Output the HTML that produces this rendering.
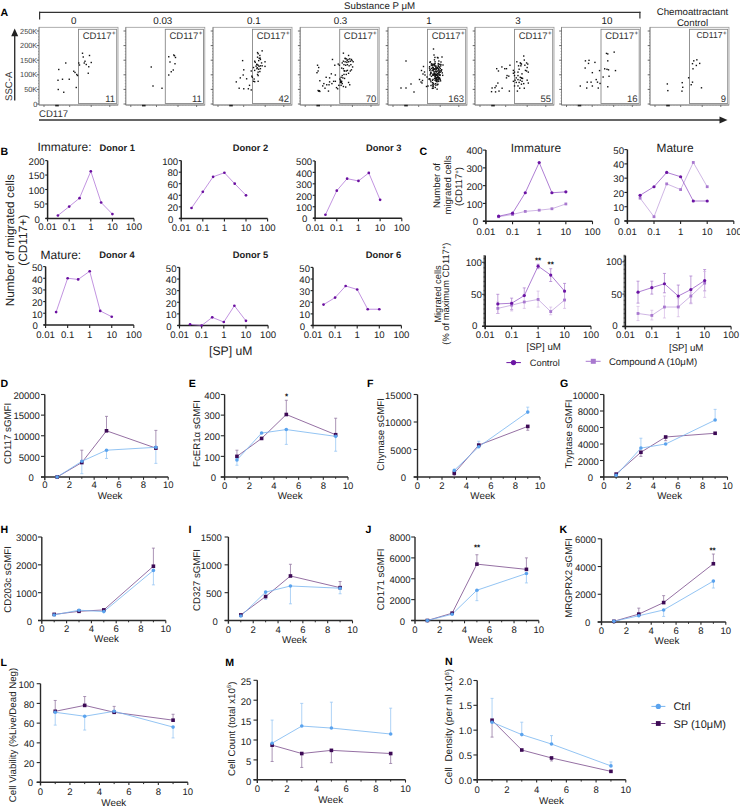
<!DOCTYPE html>
<html><head><meta charset="utf-8"><style>
html,body{margin:0;padding:0;background:#fff;}
svg{display:block;}
text{font-family:"Liberation Sans",sans-serif;text-rendering:geometricPrecision;}
</style></head><body>
<svg width="740" height="809" viewBox="0 0 740 809">
<rect width="740" height="809" fill="#fff"/>
<text x="0.6" y="16.32" font-size="10.6" text-anchor="start" font-weight="bold" fill="#000">A</text>
<text x="379.6" y="8.69" font-size="9.7" text-anchor="middle" font-weight="normal" fill="#222">Substance P μM</text>
<line x1="39" y1="12.4" x2="640.5" y2="12.4" stroke="#333" stroke-width="1.3" />
<line x1="39.6" y1="11.8" x2="39.6" y2="19.5" stroke="#333" stroke-width="1.2" />
<line x1="639.9" y1="11.8" x2="639.9" y2="18.5" stroke="#333" stroke-width="1.2" />
<text x="73.8" y="23.73" font-size="9.8" text-anchor="middle" font-weight="normal" fill="#222">0</text>
<text x="162.8" y="23.73" font-size="9.8" text-anchor="middle" font-weight="normal" fill="#222">0.03</text>
<text x="253.8" y="23.73" font-size="9.8" text-anchor="middle" font-weight="normal" fill="#222">0.1</text>
<text x="340.5" y="23.73" font-size="9.8" text-anchor="middle" font-weight="normal" fill="#222">0.3</text>
<text x="429" y="23.73" font-size="9.8" text-anchor="middle" font-weight="normal" fill="#222">1</text>
<text x="518" y="23.73" font-size="9.8" text-anchor="middle" font-weight="normal" fill="#222">3</text>
<text x="607" y="23.73" font-size="9.8" text-anchor="middle" font-weight="normal" fill="#222">10</text>
<text x="692.5" y="14.99" font-size="9.7" text-anchor="middle" font-weight="normal" fill="#222">Chemoattractant</text>
<text x="692.5" y="25.79" font-size="9.7" text-anchor="middle" font-weight="normal" fill="#222">Control</text>
<rect x="39" y="27.3" width="79" height="77.7" stroke="#9a9a9a" stroke-width="0.8" fill="none"/>
<rect x="78.5" y="29.3" width="38.2" height="74.2" stroke="#888" stroke-width="0.9" fill="none"/>
<line x1="39" y1="27.3" x2="39" y2="105" stroke="#777" stroke-width="0.7" />
<line x1="36.7" y1="104" x2="39" y2="104" stroke="#444" stroke-width="0.8" />
<line x1="38" y1="101.08" x2="39" y2="101.08" stroke="#777" stroke-width="0.6" />
<line x1="38" y1="98.16" x2="39" y2="98.16" stroke="#777" stroke-width="0.6" />
<line x1="38" y1="95.24" x2="39" y2="95.24" stroke="#777" stroke-width="0.6" />
<line x1="38" y1="92.32" x2="39" y2="92.32" stroke="#777" stroke-width="0.6" />
<line x1="36.7" y1="89.4" x2="39" y2="89.4" stroke="#444" stroke-width="0.8" />
<line x1="38" y1="86.48" x2="39" y2="86.48" stroke="#777" stroke-width="0.6" />
<line x1="38" y1="83.56" x2="39" y2="83.56" stroke="#777" stroke-width="0.6" />
<line x1="38" y1="80.64" x2="39" y2="80.64" stroke="#777" stroke-width="0.6" />
<line x1="38" y1="77.72" x2="39" y2="77.72" stroke="#777" stroke-width="0.6" />
<line x1="36.7" y1="74.8" x2="39" y2="74.8" stroke="#444" stroke-width="0.8" />
<line x1="38" y1="71.88" x2="39" y2="71.88" stroke="#777" stroke-width="0.6" />
<line x1="38" y1="68.96" x2="39" y2="68.96" stroke="#777" stroke-width="0.6" />
<line x1="38" y1="66.04" x2="39" y2="66.04" stroke="#777" stroke-width="0.6" />
<line x1="38" y1="63.12" x2="39" y2="63.12" stroke="#777" stroke-width="0.6" />
<line x1="36.7" y1="60.2" x2="39" y2="60.2" stroke="#444" stroke-width="0.8" />
<line x1="38" y1="57.28" x2="39" y2="57.28" stroke="#777" stroke-width="0.6" />
<line x1="38" y1="54.36" x2="39" y2="54.36" stroke="#777" stroke-width="0.6" />
<line x1="38" y1="51.44" x2="39" y2="51.44" stroke="#777" stroke-width="0.6" />
<line x1="38" y1="48.52" x2="39" y2="48.52" stroke="#777" stroke-width="0.6" />
<line x1="36.7" y1="45.6" x2="39" y2="45.6" stroke="#444" stroke-width="0.8" />
<line x1="38" y1="42.68" x2="39" y2="42.68" stroke="#777" stroke-width="0.6" />
<line x1="38" y1="39.76" x2="39" y2="39.76" stroke="#777" stroke-width="0.6" />
<line x1="38" y1="36.84" x2="39" y2="36.84" stroke="#777" stroke-width="0.6" />
<line x1="38" y1="33.92" x2="39" y2="33.92" stroke="#777" stroke-width="0.6" />
<line x1="36.7" y1="31" x2="39" y2="31" stroke="#444" stroke-width="0.8" />
<line x1="39" y1="105" x2="118" y2="105" stroke="#777" stroke-width="0.8" />
<line x1="44" y1="105" x2="44" y2="107" stroke="#555" stroke-width="0.8" />
<line x1="69.7" y1="105" x2="69.7" y2="107" stroke="#555" stroke-width="0.8" />
<line x1="91.2" y1="105" x2="91.2" y2="107" stroke="#555" stroke-width="0.8" />
<line x1="109.8" y1="105" x2="109.8" y2="107" stroke="#555" stroke-width="0.8" />
<line x1="42" y1="105" x2="42" y2="106" stroke="#999" stroke-width="0.5" />
<line x1="45" y1="105" x2="45" y2="106" stroke="#999" stroke-width="0.5" />
<line x1="48" y1="105" x2="48" y2="106" stroke="#999" stroke-width="0.5" />
<line x1="51" y1="105" x2="51" y2="106" stroke="#999" stroke-width="0.5" />
<line x1="54" y1="105" x2="54" y2="106" stroke="#999" stroke-width="0.5" />
<line x1="57" y1="105" x2="57" y2="106" stroke="#999" stroke-width="0.5" />
<line x1="60" y1="105" x2="60" y2="106" stroke="#999" stroke-width="0.5" />
<line x1="63" y1="105" x2="63" y2="106" stroke="#999" stroke-width="0.5" />
<line x1="66" y1="105" x2="66" y2="106" stroke="#999" stroke-width="0.5" />
<line x1="69" y1="105" x2="69" y2="106" stroke="#999" stroke-width="0.5" />
<line x1="72" y1="105" x2="72" y2="106" stroke="#999" stroke-width="0.5" />
<line x1="75" y1="105" x2="75" y2="106" stroke="#999" stroke-width="0.5" />
<line x1="78" y1="105" x2="78" y2="106" stroke="#999" stroke-width="0.5" />
<line x1="81" y1="105" x2="81" y2="106" stroke="#999" stroke-width="0.5" />
<line x1="84" y1="105" x2="84" y2="106" stroke="#999" stroke-width="0.5" />
<line x1="87" y1="105" x2="87" y2="106" stroke="#999" stroke-width="0.5" />
<line x1="90" y1="105" x2="90" y2="106" stroke="#999" stroke-width="0.5" />
<line x1="93" y1="105" x2="93" y2="106" stroke="#999" stroke-width="0.5" />
<line x1="96" y1="105" x2="96" y2="106" stroke="#999" stroke-width="0.5" />
<line x1="99" y1="105" x2="99" y2="106" stroke="#999" stroke-width="0.5" />
<line x1="102" y1="105" x2="102" y2="106" stroke="#999" stroke-width="0.5" />
<line x1="105" y1="105" x2="105" y2="106" stroke="#999" stroke-width="0.5" />
<line x1="108" y1="105" x2="108" y2="106" stroke="#999" stroke-width="0.5" />
<line x1="111" y1="105" x2="111" y2="106" stroke="#999" stroke-width="0.5" />
<line x1="114" y1="105" x2="114" y2="106" stroke="#999" stroke-width="0.5" />
<rect x="55.2" y="104.8" width="3.6" height="1.6" stroke="#222" stroke-width="0" fill="#222"/>
<text x="111.5" y="38.92" font-size="9.5" text-anchor="end" font-weight="normal" fill="#333">CD117</text>
<text x="113.7" y="35.03" font-size="6.2" text-anchor="middle" font-weight="normal" fill="#222">+</text>
<text x="115.1" y="102.22" font-size="9.5" text-anchor="end" font-weight="normal" fill="#333">11</text>
<rect x="125.8" y="27.3" width="79" height="77.7" stroke="#9a9a9a" stroke-width="0.8" fill="none"/>
<rect x="165.3" y="29.3" width="38.2" height="74.2" stroke="#888" stroke-width="0.9" fill="none"/>
<line x1="125.8" y1="27.3" x2="125.8" y2="105" stroke="#777" stroke-width="0.7" />
<line x1="123.5" y1="104" x2="125.8" y2="104" stroke="#444" stroke-width="0.8" />
<line x1="124.8" y1="101.08" x2="125.8" y2="101.08" stroke="#777" stroke-width="0.6" />
<line x1="124.8" y1="98.16" x2="125.8" y2="98.16" stroke="#777" stroke-width="0.6" />
<line x1="124.8" y1="95.24" x2="125.8" y2="95.24" stroke="#777" stroke-width="0.6" />
<line x1="124.8" y1="92.32" x2="125.8" y2="92.32" stroke="#777" stroke-width="0.6" />
<line x1="123.5" y1="89.4" x2="125.8" y2="89.4" stroke="#444" stroke-width="0.8" />
<line x1="124.8" y1="86.48" x2="125.8" y2="86.48" stroke="#777" stroke-width="0.6" />
<line x1="124.8" y1="83.56" x2="125.8" y2="83.56" stroke="#777" stroke-width="0.6" />
<line x1="124.8" y1="80.64" x2="125.8" y2="80.64" stroke="#777" stroke-width="0.6" />
<line x1="124.8" y1="77.72" x2="125.8" y2="77.72" stroke="#777" stroke-width="0.6" />
<line x1="123.5" y1="74.8" x2="125.8" y2="74.8" stroke="#444" stroke-width="0.8" />
<line x1="124.8" y1="71.88" x2="125.8" y2="71.88" stroke="#777" stroke-width="0.6" />
<line x1="124.8" y1="68.96" x2="125.8" y2="68.96" stroke="#777" stroke-width="0.6" />
<line x1="124.8" y1="66.04" x2="125.8" y2="66.04" stroke="#777" stroke-width="0.6" />
<line x1="124.8" y1="63.12" x2="125.8" y2="63.12" stroke="#777" stroke-width="0.6" />
<line x1="123.5" y1="60.2" x2="125.8" y2="60.2" stroke="#444" stroke-width="0.8" />
<line x1="124.8" y1="57.28" x2="125.8" y2="57.28" stroke="#777" stroke-width="0.6" />
<line x1="124.8" y1="54.36" x2="125.8" y2="54.36" stroke="#777" stroke-width="0.6" />
<line x1="124.8" y1="51.44" x2="125.8" y2="51.44" stroke="#777" stroke-width="0.6" />
<line x1="124.8" y1="48.52" x2="125.8" y2="48.52" stroke="#777" stroke-width="0.6" />
<line x1="123.5" y1="45.6" x2="125.8" y2="45.6" stroke="#444" stroke-width="0.8" />
<line x1="124.8" y1="42.68" x2="125.8" y2="42.68" stroke="#777" stroke-width="0.6" />
<line x1="124.8" y1="39.76" x2="125.8" y2="39.76" stroke="#777" stroke-width="0.6" />
<line x1="124.8" y1="36.84" x2="125.8" y2="36.84" stroke="#777" stroke-width="0.6" />
<line x1="124.8" y1="33.92" x2="125.8" y2="33.92" stroke="#777" stroke-width="0.6" />
<line x1="123.5" y1="31" x2="125.8" y2="31" stroke="#444" stroke-width="0.8" />
<line x1="125.8" y1="105" x2="204.8" y2="105" stroke="#777" stroke-width="0.8" />
<line x1="130.8" y1="105" x2="130.8" y2="107" stroke="#555" stroke-width="0.8" />
<line x1="156.5" y1="105" x2="156.5" y2="107" stroke="#555" stroke-width="0.8" />
<line x1="178" y1="105" x2="178" y2="107" stroke="#555" stroke-width="0.8" />
<line x1="196.6" y1="105" x2="196.6" y2="107" stroke="#555" stroke-width="0.8" />
<line x1="128.8" y1="105" x2="128.8" y2="106" stroke="#999" stroke-width="0.5" />
<line x1="131.8" y1="105" x2="131.8" y2="106" stroke="#999" stroke-width="0.5" />
<line x1="134.8" y1="105" x2="134.8" y2="106" stroke="#999" stroke-width="0.5" />
<line x1="137.8" y1="105" x2="137.8" y2="106" stroke="#999" stroke-width="0.5" />
<line x1="140.8" y1="105" x2="140.8" y2="106" stroke="#999" stroke-width="0.5" />
<line x1="143.8" y1="105" x2="143.8" y2="106" stroke="#999" stroke-width="0.5" />
<line x1="146.8" y1="105" x2="146.8" y2="106" stroke="#999" stroke-width="0.5" />
<line x1="149.8" y1="105" x2="149.8" y2="106" stroke="#999" stroke-width="0.5" />
<line x1="152.8" y1="105" x2="152.8" y2="106" stroke="#999" stroke-width="0.5" />
<line x1="155.8" y1="105" x2="155.8" y2="106" stroke="#999" stroke-width="0.5" />
<line x1="158.8" y1="105" x2="158.8" y2="106" stroke="#999" stroke-width="0.5" />
<line x1="161.8" y1="105" x2="161.8" y2="106" stroke="#999" stroke-width="0.5" />
<line x1="164.8" y1="105" x2="164.8" y2="106" stroke="#999" stroke-width="0.5" />
<line x1="167.8" y1="105" x2="167.8" y2="106" stroke="#999" stroke-width="0.5" />
<line x1="170.8" y1="105" x2="170.8" y2="106" stroke="#999" stroke-width="0.5" />
<line x1="173.8" y1="105" x2="173.8" y2="106" stroke="#999" stroke-width="0.5" />
<line x1="176.8" y1="105" x2="176.8" y2="106" stroke="#999" stroke-width="0.5" />
<line x1="179.8" y1="105" x2="179.8" y2="106" stroke="#999" stroke-width="0.5" />
<line x1="182.8" y1="105" x2="182.8" y2="106" stroke="#999" stroke-width="0.5" />
<line x1="185.8" y1="105" x2="185.8" y2="106" stroke="#999" stroke-width="0.5" />
<line x1="188.8" y1="105" x2="188.8" y2="106" stroke="#999" stroke-width="0.5" />
<line x1="191.8" y1="105" x2="191.8" y2="106" stroke="#999" stroke-width="0.5" />
<line x1="194.8" y1="105" x2="194.8" y2="106" stroke="#999" stroke-width="0.5" />
<line x1="197.8" y1="105" x2="197.8" y2="106" stroke="#999" stroke-width="0.5" />
<line x1="200.8" y1="105" x2="200.8" y2="106" stroke="#999" stroke-width="0.5" />
<rect x="142" y="104.8" width="3.6" height="1.6" stroke="#222" stroke-width="0" fill="#222"/>
<text x="198.3" y="38.92" font-size="9.5" text-anchor="end" font-weight="normal" fill="#333">CD117</text>
<text x="200.5" y="35.03" font-size="6.2" text-anchor="middle" font-weight="normal" fill="#222">+</text>
<text x="201.9" y="102.22" font-size="9.5" text-anchor="end" font-weight="normal" fill="#333">11</text>
<rect x="213" y="27.3" width="79" height="77.7" stroke="#9a9a9a" stroke-width="0.8" fill="none"/>
<rect x="252.5" y="29.3" width="38.2" height="74.2" stroke="#888" stroke-width="0.9" fill="none"/>
<line x1="213" y1="27.3" x2="213" y2="105" stroke="#777" stroke-width="0.7" />
<line x1="210.7" y1="104" x2="213" y2="104" stroke="#444" stroke-width="0.8" />
<line x1="212" y1="101.08" x2="213" y2="101.08" stroke="#777" stroke-width="0.6" />
<line x1="212" y1="98.16" x2="213" y2="98.16" stroke="#777" stroke-width="0.6" />
<line x1="212" y1="95.24" x2="213" y2="95.24" stroke="#777" stroke-width="0.6" />
<line x1="212" y1="92.32" x2="213" y2="92.32" stroke="#777" stroke-width="0.6" />
<line x1="210.7" y1="89.4" x2="213" y2="89.4" stroke="#444" stroke-width="0.8" />
<line x1="212" y1="86.48" x2="213" y2="86.48" stroke="#777" stroke-width="0.6" />
<line x1="212" y1="83.56" x2="213" y2="83.56" stroke="#777" stroke-width="0.6" />
<line x1="212" y1="80.64" x2="213" y2="80.64" stroke="#777" stroke-width="0.6" />
<line x1="212" y1="77.72" x2="213" y2="77.72" stroke="#777" stroke-width="0.6" />
<line x1="210.7" y1="74.8" x2="213" y2="74.8" stroke="#444" stroke-width="0.8" />
<line x1="212" y1="71.88" x2="213" y2="71.88" stroke="#777" stroke-width="0.6" />
<line x1="212" y1="68.96" x2="213" y2="68.96" stroke="#777" stroke-width="0.6" />
<line x1="212" y1="66.04" x2="213" y2="66.04" stroke="#777" stroke-width="0.6" />
<line x1="212" y1="63.12" x2="213" y2="63.12" stroke="#777" stroke-width="0.6" />
<line x1="210.7" y1="60.2" x2="213" y2="60.2" stroke="#444" stroke-width="0.8" />
<line x1="212" y1="57.28" x2="213" y2="57.28" stroke="#777" stroke-width="0.6" />
<line x1="212" y1="54.36" x2="213" y2="54.36" stroke="#777" stroke-width="0.6" />
<line x1="212" y1="51.44" x2="213" y2="51.44" stroke="#777" stroke-width="0.6" />
<line x1="212" y1="48.52" x2="213" y2="48.52" stroke="#777" stroke-width="0.6" />
<line x1="210.7" y1="45.6" x2="213" y2="45.6" stroke="#444" stroke-width="0.8" />
<line x1="212" y1="42.68" x2="213" y2="42.68" stroke="#777" stroke-width="0.6" />
<line x1="212" y1="39.76" x2="213" y2="39.76" stroke="#777" stroke-width="0.6" />
<line x1="212" y1="36.84" x2="213" y2="36.84" stroke="#777" stroke-width="0.6" />
<line x1="212" y1="33.92" x2="213" y2="33.92" stroke="#777" stroke-width="0.6" />
<line x1="210.7" y1="31" x2="213" y2="31" stroke="#444" stroke-width="0.8" />
<line x1="213" y1="105" x2="292" y2="105" stroke="#777" stroke-width="0.8" />
<line x1="218" y1="105" x2="218" y2="107" stroke="#555" stroke-width="0.8" />
<line x1="243.7" y1="105" x2="243.7" y2="107" stroke="#555" stroke-width="0.8" />
<line x1="265.2" y1="105" x2="265.2" y2="107" stroke="#555" stroke-width="0.8" />
<line x1="283.8" y1="105" x2="283.8" y2="107" stroke="#555" stroke-width="0.8" />
<line x1="216" y1="105" x2="216" y2="106" stroke="#999" stroke-width="0.5" />
<line x1="219" y1="105" x2="219" y2="106" stroke="#999" stroke-width="0.5" />
<line x1="222" y1="105" x2="222" y2="106" stroke="#999" stroke-width="0.5" />
<line x1="225" y1="105" x2="225" y2="106" stroke="#999" stroke-width="0.5" />
<line x1="228" y1="105" x2="228" y2="106" stroke="#999" stroke-width="0.5" />
<line x1="231" y1="105" x2="231" y2="106" stroke="#999" stroke-width="0.5" />
<line x1="234" y1="105" x2="234" y2="106" stroke="#999" stroke-width="0.5" />
<line x1="237" y1="105" x2="237" y2="106" stroke="#999" stroke-width="0.5" />
<line x1="240" y1="105" x2="240" y2="106" stroke="#999" stroke-width="0.5" />
<line x1="243" y1="105" x2="243" y2="106" stroke="#999" stroke-width="0.5" />
<line x1="246" y1="105" x2="246" y2="106" stroke="#999" stroke-width="0.5" />
<line x1="249" y1="105" x2="249" y2="106" stroke="#999" stroke-width="0.5" />
<line x1="252" y1="105" x2="252" y2="106" stroke="#999" stroke-width="0.5" />
<line x1="255" y1="105" x2="255" y2="106" stroke="#999" stroke-width="0.5" />
<line x1="258" y1="105" x2="258" y2="106" stroke="#999" stroke-width="0.5" />
<line x1="261" y1="105" x2="261" y2="106" stroke="#999" stroke-width="0.5" />
<line x1="264" y1="105" x2="264" y2="106" stroke="#999" stroke-width="0.5" />
<line x1="267" y1="105" x2="267" y2="106" stroke="#999" stroke-width="0.5" />
<line x1="270" y1="105" x2="270" y2="106" stroke="#999" stroke-width="0.5" />
<line x1="273" y1="105" x2="273" y2="106" stroke="#999" stroke-width="0.5" />
<line x1="276" y1="105" x2="276" y2="106" stroke="#999" stroke-width="0.5" />
<line x1="279" y1="105" x2="279" y2="106" stroke="#999" stroke-width="0.5" />
<line x1="282" y1="105" x2="282" y2="106" stroke="#999" stroke-width="0.5" />
<line x1="285" y1="105" x2="285" y2="106" stroke="#999" stroke-width="0.5" />
<line x1="288" y1="105" x2="288" y2="106" stroke="#999" stroke-width="0.5" />
<rect x="229.2" y="104.8" width="3.6" height="1.6" stroke="#222" stroke-width="0" fill="#222"/>
<text x="285.5" y="38.92" font-size="9.5" text-anchor="end" font-weight="normal" fill="#333">CD117</text>
<text x="287.7" y="35.03" font-size="6.2" text-anchor="middle" font-weight="normal" fill="#222">+</text>
<text x="289.1" y="102.22" font-size="9.5" text-anchor="end" font-weight="normal" fill="#333">42</text>
<rect x="300.2" y="27.3" width="79" height="77.7" stroke="#9a9a9a" stroke-width="0.8" fill="none"/>
<rect x="339.7" y="29.3" width="38.2" height="74.2" stroke="#888" stroke-width="0.9" fill="none"/>
<line x1="300.2" y1="27.3" x2="300.2" y2="105" stroke="#777" stroke-width="0.7" />
<line x1="297.9" y1="104" x2="300.2" y2="104" stroke="#444" stroke-width="0.8" />
<line x1="299.2" y1="101.08" x2="300.2" y2="101.08" stroke="#777" stroke-width="0.6" />
<line x1="299.2" y1="98.16" x2="300.2" y2="98.16" stroke="#777" stroke-width="0.6" />
<line x1="299.2" y1="95.24" x2="300.2" y2="95.24" stroke="#777" stroke-width="0.6" />
<line x1="299.2" y1="92.32" x2="300.2" y2="92.32" stroke="#777" stroke-width="0.6" />
<line x1="297.9" y1="89.4" x2="300.2" y2="89.4" stroke="#444" stroke-width="0.8" />
<line x1="299.2" y1="86.48" x2="300.2" y2="86.48" stroke="#777" stroke-width="0.6" />
<line x1="299.2" y1="83.56" x2="300.2" y2="83.56" stroke="#777" stroke-width="0.6" />
<line x1="299.2" y1="80.64" x2="300.2" y2="80.64" stroke="#777" stroke-width="0.6" />
<line x1="299.2" y1="77.72" x2="300.2" y2="77.72" stroke="#777" stroke-width="0.6" />
<line x1="297.9" y1="74.8" x2="300.2" y2="74.8" stroke="#444" stroke-width="0.8" />
<line x1="299.2" y1="71.88" x2="300.2" y2="71.88" stroke="#777" stroke-width="0.6" />
<line x1="299.2" y1="68.96" x2="300.2" y2="68.96" stroke="#777" stroke-width="0.6" />
<line x1="299.2" y1="66.04" x2="300.2" y2="66.04" stroke="#777" stroke-width="0.6" />
<line x1="299.2" y1="63.12" x2="300.2" y2="63.12" stroke="#777" stroke-width="0.6" />
<line x1="297.9" y1="60.2" x2="300.2" y2="60.2" stroke="#444" stroke-width="0.8" />
<line x1="299.2" y1="57.28" x2="300.2" y2="57.28" stroke="#777" stroke-width="0.6" />
<line x1="299.2" y1="54.36" x2="300.2" y2="54.36" stroke="#777" stroke-width="0.6" />
<line x1="299.2" y1="51.44" x2="300.2" y2="51.44" stroke="#777" stroke-width="0.6" />
<line x1="299.2" y1="48.52" x2="300.2" y2="48.52" stroke="#777" stroke-width="0.6" />
<line x1="297.9" y1="45.6" x2="300.2" y2="45.6" stroke="#444" stroke-width="0.8" />
<line x1="299.2" y1="42.68" x2="300.2" y2="42.68" stroke="#777" stroke-width="0.6" />
<line x1="299.2" y1="39.76" x2="300.2" y2="39.76" stroke="#777" stroke-width="0.6" />
<line x1="299.2" y1="36.84" x2="300.2" y2="36.84" stroke="#777" stroke-width="0.6" />
<line x1="299.2" y1="33.92" x2="300.2" y2="33.92" stroke="#777" stroke-width="0.6" />
<line x1="297.9" y1="31" x2="300.2" y2="31" stroke="#444" stroke-width="0.8" />
<line x1="300.2" y1="105" x2="379.2" y2="105" stroke="#777" stroke-width="0.8" />
<line x1="305.2" y1="105" x2="305.2" y2="107" stroke="#555" stroke-width="0.8" />
<line x1="330.9" y1="105" x2="330.9" y2="107" stroke="#555" stroke-width="0.8" />
<line x1="352.4" y1="105" x2="352.4" y2="107" stroke="#555" stroke-width="0.8" />
<line x1="371" y1="105" x2="371" y2="107" stroke="#555" stroke-width="0.8" />
<line x1="303.2" y1="105" x2="303.2" y2="106" stroke="#999" stroke-width="0.5" />
<line x1="306.2" y1="105" x2="306.2" y2="106" stroke="#999" stroke-width="0.5" />
<line x1="309.2" y1="105" x2="309.2" y2="106" stroke="#999" stroke-width="0.5" />
<line x1="312.2" y1="105" x2="312.2" y2="106" stroke="#999" stroke-width="0.5" />
<line x1="315.2" y1="105" x2="315.2" y2="106" stroke="#999" stroke-width="0.5" />
<line x1="318.2" y1="105" x2="318.2" y2="106" stroke="#999" stroke-width="0.5" />
<line x1="321.2" y1="105" x2="321.2" y2="106" stroke="#999" stroke-width="0.5" />
<line x1="324.2" y1="105" x2="324.2" y2="106" stroke="#999" stroke-width="0.5" />
<line x1="327.2" y1="105" x2="327.2" y2="106" stroke="#999" stroke-width="0.5" />
<line x1="330.2" y1="105" x2="330.2" y2="106" stroke="#999" stroke-width="0.5" />
<line x1="333.2" y1="105" x2="333.2" y2="106" stroke="#999" stroke-width="0.5" />
<line x1="336.2" y1="105" x2="336.2" y2="106" stroke="#999" stroke-width="0.5" />
<line x1="339.2" y1="105" x2="339.2" y2="106" stroke="#999" stroke-width="0.5" />
<line x1="342.2" y1="105" x2="342.2" y2="106" stroke="#999" stroke-width="0.5" />
<line x1="345.2" y1="105" x2="345.2" y2="106" stroke="#999" stroke-width="0.5" />
<line x1="348.2" y1="105" x2="348.2" y2="106" stroke="#999" stroke-width="0.5" />
<line x1="351.2" y1="105" x2="351.2" y2="106" stroke="#999" stroke-width="0.5" />
<line x1="354.2" y1="105" x2="354.2" y2="106" stroke="#999" stroke-width="0.5" />
<line x1="357.2" y1="105" x2="357.2" y2="106" stroke="#999" stroke-width="0.5" />
<line x1="360.2" y1="105" x2="360.2" y2="106" stroke="#999" stroke-width="0.5" />
<line x1="363.2" y1="105" x2="363.2" y2="106" stroke="#999" stroke-width="0.5" />
<line x1="366.2" y1="105" x2="366.2" y2="106" stroke="#999" stroke-width="0.5" />
<line x1="369.2" y1="105" x2="369.2" y2="106" stroke="#999" stroke-width="0.5" />
<line x1="372.2" y1="105" x2="372.2" y2="106" stroke="#999" stroke-width="0.5" />
<line x1="375.2" y1="105" x2="375.2" y2="106" stroke="#999" stroke-width="0.5" />
<rect x="316.4" y="104.8" width="3.6" height="1.6" stroke="#222" stroke-width="0" fill="#222"/>
<text x="372.7" y="38.92" font-size="9.5" text-anchor="end" font-weight="normal" fill="#333">CD117</text>
<text x="374.9" y="35.03" font-size="6.2" text-anchor="middle" font-weight="normal" fill="#222">+</text>
<text x="376.3" y="102.22" font-size="9.5" text-anchor="end" font-weight="normal" fill="#333">70</text>
<rect x="388" y="27.3" width="79" height="77.7" stroke="#9a9a9a" stroke-width="0.8" fill="none"/>
<rect x="427.5" y="29.3" width="38.2" height="74.2" stroke="#888" stroke-width="0.9" fill="none"/>
<line x1="388" y1="27.3" x2="388" y2="105" stroke="#777" stroke-width="0.7" />
<line x1="385.7" y1="104" x2="388" y2="104" stroke="#444" stroke-width="0.8" />
<line x1="387" y1="101.08" x2="388" y2="101.08" stroke="#777" stroke-width="0.6" />
<line x1="387" y1="98.16" x2="388" y2="98.16" stroke="#777" stroke-width="0.6" />
<line x1="387" y1="95.24" x2="388" y2="95.24" stroke="#777" stroke-width="0.6" />
<line x1="387" y1="92.32" x2="388" y2="92.32" stroke="#777" stroke-width="0.6" />
<line x1="385.7" y1="89.4" x2="388" y2="89.4" stroke="#444" stroke-width="0.8" />
<line x1="387" y1="86.48" x2="388" y2="86.48" stroke="#777" stroke-width="0.6" />
<line x1="387" y1="83.56" x2="388" y2="83.56" stroke="#777" stroke-width="0.6" />
<line x1="387" y1="80.64" x2="388" y2="80.64" stroke="#777" stroke-width="0.6" />
<line x1="387" y1="77.72" x2="388" y2="77.72" stroke="#777" stroke-width="0.6" />
<line x1="385.7" y1="74.8" x2="388" y2="74.8" stroke="#444" stroke-width="0.8" />
<line x1="387" y1="71.88" x2="388" y2="71.88" stroke="#777" stroke-width="0.6" />
<line x1="387" y1="68.96" x2="388" y2="68.96" stroke="#777" stroke-width="0.6" />
<line x1="387" y1="66.04" x2="388" y2="66.04" stroke="#777" stroke-width="0.6" />
<line x1="387" y1="63.12" x2="388" y2="63.12" stroke="#777" stroke-width="0.6" />
<line x1="385.7" y1="60.2" x2="388" y2="60.2" stroke="#444" stroke-width="0.8" />
<line x1="387" y1="57.28" x2="388" y2="57.28" stroke="#777" stroke-width="0.6" />
<line x1="387" y1="54.36" x2="388" y2="54.36" stroke="#777" stroke-width="0.6" />
<line x1="387" y1="51.44" x2="388" y2="51.44" stroke="#777" stroke-width="0.6" />
<line x1="387" y1="48.52" x2="388" y2="48.52" stroke="#777" stroke-width="0.6" />
<line x1="385.7" y1="45.6" x2="388" y2="45.6" stroke="#444" stroke-width="0.8" />
<line x1="387" y1="42.68" x2="388" y2="42.68" stroke="#777" stroke-width="0.6" />
<line x1="387" y1="39.76" x2="388" y2="39.76" stroke="#777" stroke-width="0.6" />
<line x1="387" y1="36.84" x2="388" y2="36.84" stroke="#777" stroke-width="0.6" />
<line x1="387" y1="33.92" x2="388" y2="33.92" stroke="#777" stroke-width="0.6" />
<line x1="385.7" y1="31" x2="388" y2="31" stroke="#444" stroke-width="0.8" />
<line x1="388" y1="105" x2="467" y2="105" stroke="#777" stroke-width="0.8" />
<line x1="393" y1="105" x2="393" y2="107" stroke="#555" stroke-width="0.8" />
<line x1="418.7" y1="105" x2="418.7" y2="107" stroke="#555" stroke-width="0.8" />
<line x1="440.2" y1="105" x2="440.2" y2="107" stroke="#555" stroke-width="0.8" />
<line x1="458.8" y1="105" x2="458.8" y2="107" stroke="#555" stroke-width="0.8" />
<line x1="391" y1="105" x2="391" y2="106" stroke="#999" stroke-width="0.5" />
<line x1="394" y1="105" x2="394" y2="106" stroke="#999" stroke-width="0.5" />
<line x1="397" y1="105" x2="397" y2="106" stroke="#999" stroke-width="0.5" />
<line x1="400" y1="105" x2="400" y2="106" stroke="#999" stroke-width="0.5" />
<line x1="403" y1="105" x2="403" y2="106" stroke="#999" stroke-width="0.5" />
<line x1="406" y1="105" x2="406" y2="106" stroke="#999" stroke-width="0.5" />
<line x1="409" y1="105" x2="409" y2="106" stroke="#999" stroke-width="0.5" />
<line x1="412" y1="105" x2="412" y2="106" stroke="#999" stroke-width="0.5" />
<line x1="415" y1="105" x2="415" y2="106" stroke="#999" stroke-width="0.5" />
<line x1="418" y1="105" x2="418" y2="106" stroke="#999" stroke-width="0.5" />
<line x1="421" y1="105" x2="421" y2="106" stroke="#999" stroke-width="0.5" />
<line x1="424" y1="105" x2="424" y2="106" stroke="#999" stroke-width="0.5" />
<line x1="427" y1="105" x2="427" y2="106" stroke="#999" stroke-width="0.5" />
<line x1="430" y1="105" x2="430" y2="106" stroke="#999" stroke-width="0.5" />
<line x1="433" y1="105" x2="433" y2="106" stroke="#999" stroke-width="0.5" />
<line x1="436" y1="105" x2="436" y2="106" stroke="#999" stroke-width="0.5" />
<line x1="439" y1="105" x2="439" y2="106" stroke="#999" stroke-width="0.5" />
<line x1="442" y1="105" x2="442" y2="106" stroke="#999" stroke-width="0.5" />
<line x1="445" y1="105" x2="445" y2="106" stroke="#999" stroke-width="0.5" />
<line x1="448" y1="105" x2="448" y2="106" stroke="#999" stroke-width="0.5" />
<line x1="451" y1="105" x2="451" y2="106" stroke="#999" stroke-width="0.5" />
<line x1="454" y1="105" x2="454" y2="106" stroke="#999" stroke-width="0.5" />
<line x1="457" y1="105" x2="457" y2="106" stroke="#999" stroke-width="0.5" />
<line x1="460" y1="105" x2="460" y2="106" stroke="#999" stroke-width="0.5" />
<line x1="463" y1="105" x2="463" y2="106" stroke="#999" stroke-width="0.5" />
<rect x="404.2" y="104.8" width="3.6" height="1.6" stroke="#222" stroke-width="0" fill="#222"/>
<text x="460.5" y="38.92" font-size="9.5" text-anchor="end" font-weight="normal" fill="#333">CD117</text>
<text x="462.7" y="35.03" font-size="6.2" text-anchor="middle" font-weight="normal" fill="#222">+</text>
<text x="464.1" y="102.22" font-size="9.5" text-anchor="end" font-weight="normal" fill="#333">163</text>
<rect x="475" y="27.3" width="79" height="77.7" stroke="#9a9a9a" stroke-width="0.8" fill="none"/>
<rect x="514.5" y="29.3" width="38.2" height="74.2" stroke="#888" stroke-width="0.9" fill="none"/>
<line x1="475" y1="27.3" x2="475" y2="105" stroke="#777" stroke-width="0.7" />
<line x1="472.7" y1="104" x2="475" y2="104" stroke="#444" stroke-width="0.8" />
<line x1="474" y1="101.08" x2="475" y2="101.08" stroke="#777" stroke-width="0.6" />
<line x1="474" y1="98.16" x2="475" y2="98.16" stroke="#777" stroke-width="0.6" />
<line x1="474" y1="95.24" x2="475" y2="95.24" stroke="#777" stroke-width="0.6" />
<line x1="474" y1="92.32" x2="475" y2="92.32" stroke="#777" stroke-width="0.6" />
<line x1="472.7" y1="89.4" x2="475" y2="89.4" stroke="#444" stroke-width="0.8" />
<line x1="474" y1="86.48" x2="475" y2="86.48" stroke="#777" stroke-width="0.6" />
<line x1="474" y1="83.56" x2="475" y2="83.56" stroke="#777" stroke-width="0.6" />
<line x1="474" y1="80.64" x2="475" y2="80.64" stroke="#777" stroke-width="0.6" />
<line x1="474" y1="77.72" x2="475" y2="77.72" stroke="#777" stroke-width="0.6" />
<line x1="472.7" y1="74.8" x2="475" y2="74.8" stroke="#444" stroke-width="0.8" />
<line x1="474" y1="71.88" x2="475" y2="71.88" stroke="#777" stroke-width="0.6" />
<line x1="474" y1="68.96" x2="475" y2="68.96" stroke="#777" stroke-width="0.6" />
<line x1="474" y1="66.04" x2="475" y2="66.04" stroke="#777" stroke-width="0.6" />
<line x1="474" y1="63.12" x2="475" y2="63.12" stroke="#777" stroke-width="0.6" />
<line x1="472.7" y1="60.2" x2="475" y2="60.2" stroke="#444" stroke-width="0.8" />
<line x1="474" y1="57.28" x2="475" y2="57.28" stroke="#777" stroke-width="0.6" />
<line x1="474" y1="54.36" x2="475" y2="54.36" stroke="#777" stroke-width="0.6" />
<line x1="474" y1="51.44" x2="475" y2="51.44" stroke="#777" stroke-width="0.6" />
<line x1="474" y1="48.52" x2="475" y2="48.52" stroke="#777" stroke-width="0.6" />
<line x1="472.7" y1="45.6" x2="475" y2="45.6" stroke="#444" stroke-width="0.8" />
<line x1="474" y1="42.68" x2="475" y2="42.68" stroke="#777" stroke-width="0.6" />
<line x1="474" y1="39.76" x2="475" y2="39.76" stroke="#777" stroke-width="0.6" />
<line x1="474" y1="36.84" x2="475" y2="36.84" stroke="#777" stroke-width="0.6" />
<line x1="474" y1="33.92" x2="475" y2="33.92" stroke="#777" stroke-width="0.6" />
<line x1="472.7" y1="31" x2="475" y2="31" stroke="#444" stroke-width="0.8" />
<line x1="475" y1="105" x2="554" y2="105" stroke="#777" stroke-width="0.8" />
<line x1="480" y1="105" x2="480" y2="107" stroke="#555" stroke-width="0.8" />
<line x1="505.7" y1="105" x2="505.7" y2="107" stroke="#555" stroke-width="0.8" />
<line x1="527.2" y1="105" x2="527.2" y2="107" stroke="#555" stroke-width="0.8" />
<line x1="545.8" y1="105" x2="545.8" y2="107" stroke="#555" stroke-width="0.8" />
<line x1="478" y1="105" x2="478" y2="106" stroke="#999" stroke-width="0.5" />
<line x1="481" y1="105" x2="481" y2="106" stroke="#999" stroke-width="0.5" />
<line x1="484" y1="105" x2="484" y2="106" stroke="#999" stroke-width="0.5" />
<line x1="487" y1="105" x2="487" y2="106" stroke="#999" stroke-width="0.5" />
<line x1="490" y1="105" x2="490" y2="106" stroke="#999" stroke-width="0.5" />
<line x1="493" y1="105" x2="493" y2="106" stroke="#999" stroke-width="0.5" />
<line x1="496" y1="105" x2="496" y2="106" stroke="#999" stroke-width="0.5" />
<line x1="499" y1="105" x2="499" y2="106" stroke="#999" stroke-width="0.5" />
<line x1="502" y1="105" x2="502" y2="106" stroke="#999" stroke-width="0.5" />
<line x1="505" y1="105" x2="505" y2="106" stroke="#999" stroke-width="0.5" />
<line x1="508" y1="105" x2="508" y2="106" stroke="#999" stroke-width="0.5" />
<line x1="511" y1="105" x2="511" y2="106" stroke="#999" stroke-width="0.5" />
<line x1="514" y1="105" x2="514" y2="106" stroke="#999" stroke-width="0.5" />
<line x1="517" y1="105" x2="517" y2="106" stroke="#999" stroke-width="0.5" />
<line x1="520" y1="105" x2="520" y2="106" stroke="#999" stroke-width="0.5" />
<line x1="523" y1="105" x2="523" y2="106" stroke="#999" stroke-width="0.5" />
<line x1="526" y1="105" x2="526" y2="106" stroke="#999" stroke-width="0.5" />
<line x1="529" y1="105" x2="529" y2="106" stroke="#999" stroke-width="0.5" />
<line x1="532" y1="105" x2="532" y2="106" stroke="#999" stroke-width="0.5" />
<line x1="535" y1="105" x2="535" y2="106" stroke="#999" stroke-width="0.5" />
<line x1="538" y1="105" x2="538" y2="106" stroke="#999" stroke-width="0.5" />
<line x1="541" y1="105" x2="541" y2="106" stroke="#999" stroke-width="0.5" />
<line x1="544" y1="105" x2="544" y2="106" stroke="#999" stroke-width="0.5" />
<line x1="547" y1="105" x2="547" y2="106" stroke="#999" stroke-width="0.5" />
<line x1="550" y1="105" x2="550" y2="106" stroke="#999" stroke-width="0.5" />
<rect x="491.2" y="104.8" width="3.6" height="1.6" stroke="#222" stroke-width="0" fill="#222"/>
<text x="547.5" y="38.92" font-size="9.5" text-anchor="end" font-weight="normal" fill="#333">CD117</text>
<text x="549.7" y="35.03" font-size="6.2" text-anchor="middle" font-weight="normal" fill="#222">+</text>
<text x="551.1" y="102.22" font-size="9.5" text-anchor="end" font-weight="normal" fill="#333">55</text>
<rect x="561.5" y="27.3" width="79" height="77.7" stroke="#9a9a9a" stroke-width="0.8" fill="none"/>
<rect x="601" y="29.3" width="38.2" height="74.2" stroke="#888" stroke-width="0.9" fill="none"/>
<line x1="561.5" y1="27.3" x2="561.5" y2="105" stroke="#777" stroke-width="0.7" />
<line x1="559.2" y1="104" x2="561.5" y2="104" stroke="#444" stroke-width="0.8" />
<line x1="560.5" y1="101.08" x2="561.5" y2="101.08" stroke="#777" stroke-width="0.6" />
<line x1="560.5" y1="98.16" x2="561.5" y2="98.16" stroke="#777" stroke-width="0.6" />
<line x1="560.5" y1="95.24" x2="561.5" y2="95.24" stroke="#777" stroke-width="0.6" />
<line x1="560.5" y1="92.32" x2="561.5" y2="92.32" stroke="#777" stroke-width="0.6" />
<line x1="559.2" y1="89.4" x2="561.5" y2="89.4" stroke="#444" stroke-width="0.8" />
<line x1="560.5" y1="86.48" x2="561.5" y2="86.48" stroke="#777" stroke-width="0.6" />
<line x1="560.5" y1="83.56" x2="561.5" y2="83.56" stroke="#777" stroke-width="0.6" />
<line x1="560.5" y1="80.64" x2="561.5" y2="80.64" stroke="#777" stroke-width="0.6" />
<line x1="560.5" y1="77.72" x2="561.5" y2="77.72" stroke="#777" stroke-width="0.6" />
<line x1="559.2" y1="74.8" x2="561.5" y2="74.8" stroke="#444" stroke-width="0.8" />
<line x1="560.5" y1="71.88" x2="561.5" y2="71.88" stroke="#777" stroke-width="0.6" />
<line x1="560.5" y1="68.96" x2="561.5" y2="68.96" stroke="#777" stroke-width="0.6" />
<line x1="560.5" y1="66.04" x2="561.5" y2="66.04" stroke="#777" stroke-width="0.6" />
<line x1="560.5" y1="63.12" x2="561.5" y2="63.12" stroke="#777" stroke-width="0.6" />
<line x1="559.2" y1="60.2" x2="561.5" y2="60.2" stroke="#444" stroke-width="0.8" />
<line x1="560.5" y1="57.28" x2="561.5" y2="57.28" stroke="#777" stroke-width="0.6" />
<line x1="560.5" y1="54.36" x2="561.5" y2="54.36" stroke="#777" stroke-width="0.6" />
<line x1="560.5" y1="51.44" x2="561.5" y2="51.44" stroke="#777" stroke-width="0.6" />
<line x1="560.5" y1="48.52" x2="561.5" y2="48.52" stroke="#777" stroke-width="0.6" />
<line x1="559.2" y1="45.6" x2="561.5" y2="45.6" stroke="#444" stroke-width="0.8" />
<line x1="560.5" y1="42.68" x2="561.5" y2="42.68" stroke="#777" stroke-width="0.6" />
<line x1="560.5" y1="39.76" x2="561.5" y2="39.76" stroke="#777" stroke-width="0.6" />
<line x1="560.5" y1="36.84" x2="561.5" y2="36.84" stroke="#777" stroke-width="0.6" />
<line x1="560.5" y1="33.92" x2="561.5" y2="33.92" stroke="#777" stroke-width="0.6" />
<line x1="559.2" y1="31" x2="561.5" y2="31" stroke="#444" stroke-width="0.8" />
<line x1="561.5" y1="105" x2="640.5" y2="105" stroke="#777" stroke-width="0.8" />
<line x1="566.5" y1="105" x2="566.5" y2="107" stroke="#555" stroke-width="0.8" />
<line x1="592.2" y1="105" x2="592.2" y2="107" stroke="#555" stroke-width="0.8" />
<line x1="613.7" y1="105" x2="613.7" y2="107" stroke="#555" stroke-width="0.8" />
<line x1="632.3" y1="105" x2="632.3" y2="107" stroke="#555" stroke-width="0.8" />
<line x1="564.5" y1="105" x2="564.5" y2="106" stroke="#999" stroke-width="0.5" />
<line x1="567.5" y1="105" x2="567.5" y2="106" stroke="#999" stroke-width="0.5" />
<line x1="570.5" y1="105" x2="570.5" y2="106" stroke="#999" stroke-width="0.5" />
<line x1="573.5" y1="105" x2="573.5" y2="106" stroke="#999" stroke-width="0.5" />
<line x1="576.5" y1="105" x2="576.5" y2="106" stroke="#999" stroke-width="0.5" />
<line x1="579.5" y1="105" x2="579.5" y2="106" stroke="#999" stroke-width="0.5" />
<line x1="582.5" y1="105" x2="582.5" y2="106" stroke="#999" stroke-width="0.5" />
<line x1="585.5" y1="105" x2="585.5" y2="106" stroke="#999" stroke-width="0.5" />
<line x1="588.5" y1="105" x2="588.5" y2="106" stroke="#999" stroke-width="0.5" />
<line x1="591.5" y1="105" x2="591.5" y2="106" stroke="#999" stroke-width="0.5" />
<line x1="594.5" y1="105" x2="594.5" y2="106" stroke="#999" stroke-width="0.5" />
<line x1="597.5" y1="105" x2="597.5" y2="106" stroke="#999" stroke-width="0.5" />
<line x1="600.5" y1="105" x2="600.5" y2="106" stroke="#999" stroke-width="0.5" />
<line x1="603.5" y1="105" x2="603.5" y2="106" stroke="#999" stroke-width="0.5" />
<line x1="606.5" y1="105" x2="606.5" y2="106" stroke="#999" stroke-width="0.5" />
<line x1="609.5" y1="105" x2="609.5" y2="106" stroke="#999" stroke-width="0.5" />
<line x1="612.5" y1="105" x2="612.5" y2="106" stroke="#999" stroke-width="0.5" />
<line x1="615.5" y1="105" x2="615.5" y2="106" stroke="#999" stroke-width="0.5" />
<line x1="618.5" y1="105" x2="618.5" y2="106" stroke="#999" stroke-width="0.5" />
<line x1="621.5" y1="105" x2="621.5" y2="106" stroke="#999" stroke-width="0.5" />
<line x1="624.5" y1="105" x2="624.5" y2="106" stroke="#999" stroke-width="0.5" />
<line x1="627.5" y1="105" x2="627.5" y2="106" stroke="#999" stroke-width="0.5" />
<line x1="630.5" y1="105" x2="630.5" y2="106" stroke="#999" stroke-width="0.5" />
<line x1="633.5" y1="105" x2="633.5" y2="106" stroke="#999" stroke-width="0.5" />
<line x1="636.5" y1="105" x2="636.5" y2="106" stroke="#999" stroke-width="0.5" />
<rect x="577.7" y="104.8" width="3.6" height="1.6" stroke="#222" stroke-width="0" fill="#222"/>
<text x="634" y="38.92" font-size="9.5" text-anchor="end" font-weight="normal" fill="#333">CD117</text>
<text x="636.2" y="35.03" font-size="6.2" text-anchor="middle" font-weight="normal" fill="#222">+</text>
<text x="637.6" y="102.22" font-size="9.5" text-anchor="end" font-weight="normal" fill="#333">16</text>
<rect x="650" y="27.3" width="79" height="77.7" stroke="#9a9a9a" stroke-width="0.8" fill="none"/>
<rect x="689.5" y="29.3" width="38.2" height="74.2" stroke="#888" stroke-width="0.9" fill="none"/>
<line x1="650" y1="27.3" x2="650" y2="105" stroke="#777" stroke-width="0.7" />
<line x1="647.7" y1="104" x2="650" y2="104" stroke="#444" stroke-width="0.8" />
<line x1="649" y1="101.08" x2="650" y2="101.08" stroke="#777" stroke-width="0.6" />
<line x1="649" y1="98.16" x2="650" y2="98.16" stroke="#777" stroke-width="0.6" />
<line x1="649" y1="95.24" x2="650" y2="95.24" stroke="#777" stroke-width="0.6" />
<line x1="649" y1="92.32" x2="650" y2="92.32" stroke="#777" stroke-width="0.6" />
<line x1="647.7" y1="89.4" x2="650" y2="89.4" stroke="#444" stroke-width="0.8" />
<line x1="649" y1="86.48" x2="650" y2="86.48" stroke="#777" stroke-width="0.6" />
<line x1="649" y1="83.56" x2="650" y2="83.56" stroke="#777" stroke-width="0.6" />
<line x1="649" y1="80.64" x2="650" y2="80.64" stroke="#777" stroke-width="0.6" />
<line x1="649" y1="77.72" x2="650" y2="77.72" stroke="#777" stroke-width="0.6" />
<line x1="647.7" y1="74.8" x2="650" y2="74.8" stroke="#444" stroke-width="0.8" />
<line x1="649" y1="71.88" x2="650" y2="71.88" stroke="#777" stroke-width="0.6" />
<line x1="649" y1="68.96" x2="650" y2="68.96" stroke="#777" stroke-width="0.6" />
<line x1="649" y1="66.04" x2="650" y2="66.04" stroke="#777" stroke-width="0.6" />
<line x1="649" y1="63.12" x2="650" y2="63.12" stroke="#777" stroke-width="0.6" />
<line x1="647.7" y1="60.2" x2="650" y2="60.2" stroke="#444" stroke-width="0.8" />
<line x1="649" y1="57.28" x2="650" y2="57.28" stroke="#777" stroke-width="0.6" />
<line x1="649" y1="54.36" x2="650" y2="54.36" stroke="#777" stroke-width="0.6" />
<line x1="649" y1="51.44" x2="650" y2="51.44" stroke="#777" stroke-width="0.6" />
<line x1="649" y1="48.52" x2="650" y2="48.52" stroke="#777" stroke-width="0.6" />
<line x1="647.7" y1="45.6" x2="650" y2="45.6" stroke="#444" stroke-width="0.8" />
<line x1="649" y1="42.68" x2="650" y2="42.68" stroke="#777" stroke-width="0.6" />
<line x1="649" y1="39.76" x2="650" y2="39.76" stroke="#777" stroke-width="0.6" />
<line x1="649" y1="36.84" x2="650" y2="36.84" stroke="#777" stroke-width="0.6" />
<line x1="649" y1="33.92" x2="650" y2="33.92" stroke="#777" stroke-width="0.6" />
<line x1="647.7" y1="31" x2="650" y2="31" stroke="#444" stroke-width="0.8" />
<line x1="650" y1="105" x2="729" y2="105" stroke="#777" stroke-width="0.8" />
<line x1="655" y1="105" x2="655" y2="107" stroke="#555" stroke-width="0.8" />
<line x1="680.7" y1="105" x2="680.7" y2="107" stroke="#555" stroke-width="0.8" />
<line x1="702.2" y1="105" x2="702.2" y2="107" stroke="#555" stroke-width="0.8" />
<line x1="720.8" y1="105" x2="720.8" y2="107" stroke="#555" stroke-width="0.8" />
<line x1="653" y1="105" x2="653" y2="106" stroke="#999" stroke-width="0.5" />
<line x1="656" y1="105" x2="656" y2="106" stroke="#999" stroke-width="0.5" />
<line x1="659" y1="105" x2="659" y2="106" stroke="#999" stroke-width="0.5" />
<line x1="662" y1="105" x2="662" y2="106" stroke="#999" stroke-width="0.5" />
<line x1="665" y1="105" x2="665" y2="106" stroke="#999" stroke-width="0.5" />
<line x1="668" y1="105" x2="668" y2="106" stroke="#999" stroke-width="0.5" />
<line x1="671" y1="105" x2="671" y2="106" stroke="#999" stroke-width="0.5" />
<line x1="674" y1="105" x2="674" y2="106" stroke="#999" stroke-width="0.5" />
<line x1="677" y1="105" x2="677" y2="106" stroke="#999" stroke-width="0.5" />
<line x1="680" y1="105" x2="680" y2="106" stroke="#999" stroke-width="0.5" />
<line x1="683" y1="105" x2="683" y2="106" stroke="#999" stroke-width="0.5" />
<line x1="686" y1="105" x2="686" y2="106" stroke="#999" stroke-width="0.5" />
<line x1="689" y1="105" x2="689" y2="106" stroke="#999" stroke-width="0.5" />
<line x1="692" y1="105" x2="692" y2="106" stroke="#999" stroke-width="0.5" />
<line x1="695" y1="105" x2="695" y2="106" stroke="#999" stroke-width="0.5" />
<line x1="698" y1="105" x2="698" y2="106" stroke="#999" stroke-width="0.5" />
<line x1="701" y1="105" x2="701" y2="106" stroke="#999" stroke-width="0.5" />
<line x1="704" y1="105" x2="704" y2="106" stroke="#999" stroke-width="0.5" />
<line x1="707" y1="105" x2="707" y2="106" stroke="#999" stroke-width="0.5" />
<line x1="710" y1="105" x2="710" y2="106" stroke="#999" stroke-width="0.5" />
<line x1="713" y1="105" x2="713" y2="106" stroke="#999" stroke-width="0.5" />
<line x1="716" y1="105" x2="716" y2="106" stroke="#999" stroke-width="0.5" />
<line x1="719" y1="105" x2="719" y2="106" stroke="#999" stroke-width="0.5" />
<line x1="722" y1="105" x2="722" y2="106" stroke="#999" stroke-width="0.5" />
<line x1="725" y1="105" x2="725" y2="106" stroke="#999" stroke-width="0.5" />
<rect x="666.2" y="104.8" width="3.6" height="1.6" stroke="#222" stroke-width="0" fill="#222"/>
<text x="722.5" y="38.3" font-size="8.6" text-anchor="end" font-weight="normal" fill="#333">CD117</text>
<text x="724.7" y="35.03" font-size="6.2" text-anchor="middle" font-weight="normal" fill="#222">+</text>
<text x="726.1" y="102.22" font-size="9.5" text-anchor="end" font-weight="normal" fill="#333">9</text>
<text x="37.3" y="33.66" font-size="7.4" text-anchor="end" font-weight="normal" fill="#444">250K</text>
<text x="37.3" y="48.26" font-size="7.4" text-anchor="end" font-weight="normal" fill="#444">200K</text>
<text x="37.3" y="62.86" font-size="7.4" text-anchor="end" font-weight="normal" fill="#444">150K</text>
<text x="37.3" y="77.46" font-size="7.4" text-anchor="end" font-weight="normal" fill="#444">100K</text>
<text x="37.3" y="92.06" font-size="7.4" text-anchor="end" font-weight="normal" fill="#444">50K</text>
<text x="37.3" y="106.66" font-size="7.4" text-anchor="end" font-weight="normal" fill="#444">0</text>
<line x1="14.7" y1="34" x2="14.7" y2="100.5" stroke="#333" stroke-width="1.4" />
<polygon points="11.2,36.3 18.2,36.3 14.7,28.6" fill="#222"/>
<text x="12.26" y="86.3" font-size="9.6" text-anchor="middle" font-weight="normal" fill="#333" transform="rotate(-90 12.26 86.3)">SSC-A</text>
<text x="39" y="117.26" font-size="9.6" text-anchor="start" font-weight="normal" fill="#333">CD117</text>
<line x1="39" y1="120.1" x2="721" y2="120.1" stroke="#333" stroke-width="1.5" />
<polygon points="719.5,116.6 719.5,123.6 727.5,120.1" fill="#222"/>
<rect x="81.8" y="52.55" width="1.4" height="1.4" fill="#111"/>
<rect x="88.8" y="54.8" width="1.4" height="1.4" fill="#111"/>
<rect x="82.55" y="56.3" width="1.4" height="1.4" fill="#111"/>
<rect x="84.3" y="60.55" width="1.4" height="1.4" fill="#111"/>
<rect x="83.55" y="62.3" width="1.4" height="1.4" fill="#111"/>
<rect x="85.55" y="63.8" width="1.4" height="1.4" fill="#111"/>
<rect x="88.05" y="66.05" width="1.4" height="1.4" fill="#111"/>
<rect x="90.55" y="61.8" width="1.4" height="1.4" fill="#111"/>
<rect x="87.55" y="72.55" width="1.4" height="1.4" fill="#111"/>
<rect x="78.05" y="62.3" width="1.4" height="1.4" fill="#111"/>
<rect x="78.8" y="64.3" width="1.4" height="1.4" fill="#111"/>
<rect x="73.05" y="70.55" width="1.4" height="1.4" fill="#111"/>
<rect x="74.3" y="71.8" width="1.4" height="1.4" fill="#111"/>
<rect x="76.8" y="74.8" width="1.4" height="1.4" fill="#111"/>
<rect x="65.05" y="62.3" width="1.4" height="1.4" fill="#111"/>
<rect x="58.05" y="68.8" width="1.4" height="1.4" fill="#111"/>
<rect x="57.3" y="79.55" width="1.4" height="1.4" fill="#111"/>
<rect x="61.8" y="78.55" width="1.4" height="1.4" fill="#111"/>
<rect x="68.55" y="78.55" width="1.4" height="1.4" fill="#111"/>
<rect x="57.55" y="88.8" width="1.4" height="1.4" fill="#111"/>
<rect x="63.05" y="91.55" width="1.4" height="1.4" fill="#111"/>
<rect x="75.55" y="86.8" width="1.4" height="1.4" fill="#111"/>
<rect x="76.05" y="73.8" width="1.4" height="1.4" fill="#111"/>
<rect x="150.55" y="66.3" width="1.4" height="1.4" fill="#111"/>
<rect x="152.3" y="85.3" width="1.4" height="1.4" fill="#111"/>
<rect x="161.3" y="87.55" width="1.4" height="1.4" fill="#111"/>
<rect x="168.05" y="56.05" width="1.4" height="1.4" fill="#111"/>
<rect x="169.3" y="61.3" width="1.4" height="1.4" fill="#111"/>
<rect x="173.8" y="55.05" width="1.4" height="1.4" fill="#111"/>
<rect x="174.8" y="56.8" width="1.4" height="1.4" fill="#111"/>
<rect x="174.3" y="63.05" width="1.4" height="1.4" fill="#111"/>
<rect x="172.55" y="69.3" width="1.4" height="1.4" fill="#111"/>
<rect x="170.55" y="71.05" width="1.4" height="1.4" fill="#111"/>
<rect x="168.05" y="74.3" width="1.4" height="1.4" fill="#111"/>
<rect x="173.05" y="54.3" width="1.4" height="1.4" fill="#111"/>
<rect x="261.45" y="50.16" width="1.4" height="1.4" fill="#111"/>
<rect x="256.85" y="51.89" width="1.4" height="1.4" fill="#111"/>
<rect x="257.43" y="53.04" width="1.4" height="1.4" fill="#111"/>
<rect x="259.15" y="54.76" width="1.4" height="1.4" fill="#111"/>
<rect x="256.85" y="56.48" width="1.4" height="1.4" fill="#111"/>
<rect x="258.58" y="57.63" width="1.4" height="1.4" fill="#111"/>
<rect x="259.73" y="58.78" width="1.4" height="1.4" fill="#111"/>
<rect x="258" y="59.93" width="1.4" height="1.4" fill="#111"/>
<rect x="253.98" y="60.51" width="1.4" height="1.4" fill="#111"/>
<rect x="254.55" y="61.66" width="1.4" height="1.4" fill="#111"/>
<rect x="264.32" y="61.08" width="1.4" height="1.4" fill="#111"/>
<rect x="260.87" y="62.23" width="1.4" height="1.4" fill="#111"/>
<rect x="256.28" y="63.96" width="1.4" height="1.4" fill="#111"/>
<rect x="257.43" y="64.53" width="1.4" height="1.4" fill="#111"/>
<rect x="259.73" y="65.1" width="1.4" height="1.4" fill="#111"/>
<rect x="261.45" y="65.1" width="1.4" height="1.4" fill="#111"/>
<rect x="264.32" y="65.68" width="1.4" height="1.4" fill="#111"/>
<rect x="252.83" y="66.83" width="1.4" height="1.4" fill="#111"/>
<rect x="256.28" y="67.98" width="1.4" height="1.4" fill="#111"/>
<rect x="258" y="68.55" width="1.4" height="1.4" fill="#111"/>
<rect x="259.73" y="67.98" width="1.4" height="1.4" fill="#111"/>
<rect x="253.98" y="69.7" width="1.4" height="1.4" fill="#111"/>
<rect x="250.53" y="70.28" width="1.4" height="1.4" fill="#111"/>
<rect x="257.43" y="71.43" width="1.4" height="1.4" fill="#111"/>
<rect x="259.15" y="70.85" width="1.4" height="1.4" fill="#111"/>
<rect x="256.85" y="73.73" width="1.4" height="1.4" fill="#111"/>
<rect x="257.43" y="74.87" width="1.4" height="1.4" fill="#111"/>
<rect x="251.1" y="75.45" width="1.4" height="1.4" fill="#111"/>
<rect x="251.68" y="76.6" width="1.4" height="1.4" fill="#111"/>
<rect x="253.4" y="78.32" width="1.4" height="1.4" fill="#111"/>
<rect x="252.83" y="80.62" width="1.4" height="1.4" fill="#111"/>
<rect x="253.98" y="80.97" width="1.4" height="1.4" fill="#111"/>
<rect x="257.43" y="80.62" width="1.4" height="1.4" fill="#111"/>
<rect x="248.81" y="84.64" width="1.4" height="1.4" fill="#111"/>
<rect x="250.53" y="89.24" width="1.4" height="1.4" fill="#111"/>
<rect x="247.66" y="88.09" width="1.4" height="1.4" fill="#111"/>
<rect x="243.06" y="88.09" width="1.4" height="1.4" fill="#111"/>
<rect x="238.46" y="87.52" width="1.4" height="1.4" fill="#111"/>
<rect x="235.59" y="81.2" width="1.4" height="1.4" fill="#111"/>
<rect x="239.61" y="77.17" width="1.4" height="1.4" fill="#111"/>
<rect x="242.48" y="74.3" width="1.4" height="1.4" fill="#111"/>
<rect x="245.93" y="78.09" width="1.4" height="1.4" fill="#111"/>
<rect x="243.06" y="69.13" width="1.4" height="1.4" fill="#111"/>
<rect x="241.91" y="59.93" width="1.4" height="1.4" fill="#111"/>
<rect x="256.05" y="63.61" width="1.4" height="1.4" fill="#111"/>
<rect x="259.5" y="57.4" width="1.4" height="1.4" fill="#111"/>
<rect x="258.35" y="65.68" width="1.4" height="1.4" fill="#111"/>
<rect x="256.51" y="67.06" width="1.4" height="1.4" fill="#111"/>
<rect x="255.36" y="65.45" width="1.4" height="1.4" fill="#111"/>
<rect x="342.7" y="52.46" width="1.4" height="1.4" fill="#111"/>
<rect x="347.87" y="54.76" width="1.4" height="1.4" fill="#111"/>
<rect x="344.43" y="57.63" width="1.4" height="1.4" fill="#111"/>
<rect x="345.58" y="58.21" width="1.4" height="1.4" fill="#111"/>
<rect x="347.3" y="58.78" width="1.4" height="1.4" fill="#111"/>
<rect x="349.02" y="58.21" width="1.4" height="1.4" fill="#111"/>
<rect x="350.75" y="58.78" width="1.4" height="1.4" fill="#111"/>
<rect x="352.47" y="61.08" width="1.4" height="1.4" fill="#111"/>
<rect x="351.32" y="59.93" width="1.4" height="1.4" fill="#111"/>
<rect x="349.6" y="60.51" width="1.4" height="1.4" fill="#111"/>
<rect x="347.87" y="61.08" width="1.4" height="1.4" fill="#111"/>
<rect x="346.15" y="61.66" width="1.4" height="1.4" fill="#111"/>
<rect x="344.43" y="61.08" width="1.4" height="1.4" fill="#111"/>
<rect x="342.7" y="60.51" width="1.4" height="1.4" fill="#111"/>
<rect x="341.55" y="62.23" width="1.4" height="1.4" fill="#111"/>
<rect x="343.28" y="63.96" width="1.4" height="1.4" fill="#111"/>
<rect x="345" y="64.53" width="1.4" height="1.4" fill="#111"/>
<rect x="346.73" y="63.96" width="1.4" height="1.4" fill="#111"/>
<rect x="348.45" y="65.1" width="1.4" height="1.4" fill="#111"/>
<rect x="350.17" y="63.96" width="1.4" height="1.4" fill="#111"/>
<rect x="351.9" y="66.25" width="1.4" height="1.4" fill="#111"/>
<rect x="340.98" y="67.4" width="1.4" height="1.4" fill="#111"/>
<rect x="342.7" y="67.98" width="1.4" height="1.4" fill="#111"/>
<rect x="343.85" y="70.28" width="1.4" height="1.4" fill="#111"/>
<rect x="345.58" y="70.28" width="1.4" height="1.4" fill="#111"/>
<rect x="346.73" y="69.7" width="1.4" height="1.4" fill="#111"/>
<rect x="349.6" y="70.28" width="1.4" height="1.4" fill="#111"/>
<rect x="350.75" y="69.13" width="1.4" height="1.4" fill="#111"/>
<rect x="347.87" y="72.58" width="1.4" height="1.4" fill="#111"/>
<rect x="345.58" y="73.73" width="1.4" height="1.4" fill="#111"/>
<rect x="343.28" y="73.73" width="1.4" height="1.4" fill="#111"/>
<rect x="341.55" y="74.87" width="1.4" height="1.4" fill="#111"/>
<rect x="340.4" y="76.6" width="1.4" height="1.4" fill="#111"/>
<rect x="342.13" y="77.17" width="1.4" height="1.4" fill="#111"/>
<rect x="343.85" y="77.75" width="1.4" height="1.4" fill="#111"/>
<rect x="340.98" y="80.62" width="1.4" height="1.4" fill="#111"/>
<rect x="339.83" y="81.77" width="1.4" height="1.4" fill="#111"/>
<rect x="341.55" y="82.92" width="1.4" height="1.4" fill="#111"/>
<rect x="340.4" y="84.64" width="1.4" height="1.4" fill="#111"/>
<rect x="342.7" y="85.79" width="1.4" height="1.4" fill="#111"/>
<rect x="345" y="86.37" width="1.4" height="1.4" fill="#111"/>
<rect x="347.87" y="81.77" width="1.4" height="1.4" fill="#111"/>
<rect x="349.02" y="84.07" width="1.4" height="1.4" fill="#111"/>
<rect x="337.53" y="63.38" width="1.4" height="1.4" fill="#111"/>
<rect x="338.68" y="64.53" width="1.4" height="1.4" fill="#111"/>
<rect x="331.78" y="58.78" width="1.4" height="1.4" fill="#111"/>
<rect x="334.08" y="64.53" width="1.4" height="1.4" fill="#111"/>
<rect x="334.66" y="74.3" width="1.4" height="1.4" fill="#111"/>
<rect x="330.63" y="73.15" width="1.4" height="1.4" fill="#111"/>
<rect x="328.91" y="77.17" width="1.4" height="1.4" fill="#111"/>
<rect x="325.46" y="76.6" width="1.4" height="1.4" fill="#111"/>
<rect x="328.91" y="81.2" width="1.4" height="1.4" fill="#111"/>
<rect x="332.93" y="80.62" width="1.4" height="1.4" fill="#111"/>
<rect x="334.66" y="80.62" width="1.4" height="1.4" fill="#111"/>
<rect x="331.21" y="82.92" width="1.4" height="1.4" fill="#111"/>
<rect x="328.33" y="84.07" width="1.4" height="1.4" fill="#111"/>
<rect x="326.04" y="84.07" width="1.4" height="1.4" fill="#111"/>
<rect x="323.16" y="82.92" width="1.4" height="1.4" fill="#111"/>
<rect x="322.01" y="85.22" width="1.4" height="1.4" fill="#111"/>
<rect x="324.31" y="87.52" width="1.4" height="1.4" fill="#111"/>
<rect x="319.14" y="80.05" width="1.4" height="1.4" fill="#111"/>
<rect x="316.84" y="64.53" width="1.4" height="1.4" fill="#111"/>
<rect x="317.99" y="66.83" width="1.4" height="1.4" fill="#111"/>
<rect x="317.41" y="70.28" width="1.4" height="1.4" fill="#111"/>
<rect x="316.27" y="72" width="1.4" height="1.4" fill="#111"/>
<rect x="317.41" y="89.82" width="1.4" height="1.4" fill="#111"/>
<rect x="317.99" y="90.39" width="1.4" height="1.4" fill="#111"/>
<rect x="318.56" y="90.05" width="1.4" height="1.4" fill="#111"/>
<rect x="319.14" y="90.74" width="1.4" height="1.4" fill="#111"/>
<rect x="327.76" y="90.39" width="1.4" height="1.4" fill="#111"/>
<rect x="335.81" y="86.94" width="1.4" height="1.4" fill="#111"/>
<rect x="336.96" y="88.09" width="1.4" height="1.4" fill="#111"/>
<rect x="338.1" y="84.64" width="1.4" height="1.4" fill="#111"/>
<rect x="339.25" y="78.32" width="1.4" height="1.4" fill="#111"/>
<rect x="339.83" y="79.47" width="1.4" height="1.4" fill="#111"/>
<rect x="344.66" y="57.86" width="1.4" height="1.4" fill="#111"/>
<rect x="346.5" y="59.93" width="1.4" height="1.4" fill="#111"/>
<rect x="343.51" y="70.05" width="1.4" height="1.4" fill="#111"/>
<rect x="340.06" y="80.85" width="1.4" height="1.4" fill="#111"/>
<rect x="340.75" y="81.77" width="1.4" height="1.4" fill="#111"/>
<rect x="430.76" y="75.63" width="1.4" height="1.4" fill="#111"/>
<rect x="438.08" y="68.95" width="1.4" height="1.4" fill="#111"/>
<rect x="430.41" y="72.31" width="1.4" height="1.4" fill="#111"/>
<rect x="436.38" y="81.04" width="1.4" height="1.4" fill="#111"/>
<rect x="430.79" y="63.1" width="1.4" height="1.4" fill="#111"/>
<rect x="437.13" y="76.36" width="1.4" height="1.4" fill="#111"/>
<rect x="439.86" y="80.17" width="1.4" height="1.4" fill="#111"/>
<rect x="434.46" y="70.74" width="1.4" height="1.4" fill="#111"/>
<rect x="432.21" y="64.26" width="1.4" height="1.4" fill="#111"/>
<rect x="435.12" y="73.89" width="1.4" height="1.4" fill="#111"/>
<rect x="433.66" y="72.33" width="1.4" height="1.4" fill="#111"/>
<rect x="435.7" y="77.99" width="1.4" height="1.4" fill="#111"/>
<rect x="438.42" y="74.37" width="1.4" height="1.4" fill="#111"/>
<rect x="428.89" y="78.06" width="1.4" height="1.4" fill="#111"/>
<rect x="430.11" y="71.51" width="1.4" height="1.4" fill="#111"/>
<rect x="429.94" y="72.82" width="1.4" height="1.4" fill="#111"/>
<rect x="432.23" y="74.4" width="1.4" height="1.4" fill="#111"/>
<rect x="437.58" y="62.88" width="1.4" height="1.4" fill="#111"/>
<rect x="433.85" y="77.77" width="1.4" height="1.4" fill="#111"/>
<rect x="434.49" y="75.58" width="1.4" height="1.4" fill="#111"/>
<rect x="435.14" y="65.25" width="1.4" height="1.4" fill="#111"/>
<rect x="436.66" y="66.71" width="1.4" height="1.4" fill="#111"/>
<rect x="440.98" y="69.01" width="1.4" height="1.4" fill="#111"/>
<rect x="437.06" y="72.82" width="1.4" height="1.4" fill="#111"/>
<rect x="437.94" y="68.28" width="1.4" height="1.4" fill="#111"/>
<rect x="438.1" y="71.87" width="1.4" height="1.4" fill="#111"/>
<rect x="438.97" y="77.48" width="1.4" height="1.4" fill="#111"/>
<rect x="435.27" y="66.95" width="1.4" height="1.4" fill="#111"/>
<rect x="437.33" y="76.31" width="1.4" height="1.4" fill="#111"/>
<rect x="440.22" y="69.97" width="1.4" height="1.4" fill="#111"/>
<rect x="436.63" y="76.61" width="1.4" height="1.4" fill="#111"/>
<rect x="435.73" y="74.36" width="1.4" height="1.4" fill="#111"/>
<rect x="435.4" y="68.31" width="1.4" height="1.4" fill="#111"/>
<rect x="431.45" y="69.83" width="1.4" height="1.4" fill="#111"/>
<rect x="436.75" y="84.13" width="1.4" height="1.4" fill="#111"/>
<rect x="438.02" y="80.7" width="1.4" height="1.4" fill="#111"/>
<rect x="437.37" y="78.04" width="1.4" height="1.4" fill="#111"/>
<rect x="435.41" y="78.59" width="1.4" height="1.4" fill="#111"/>
<rect x="440.65" y="70.34" width="1.4" height="1.4" fill="#111"/>
<rect x="432.51" y="87.5" width="1.4" height="1.4" fill="#111"/>
<rect x="435.61" y="80.08" width="1.4" height="1.4" fill="#111"/>
<rect x="437.68" y="64.28" width="1.4" height="1.4" fill="#111"/>
<rect x="435.38" y="78.44" width="1.4" height="1.4" fill="#111"/>
<rect x="435.22" y="66.17" width="1.4" height="1.4" fill="#111"/>
<rect x="434.43" y="75.61" width="1.4" height="1.4" fill="#111"/>
<rect x="438.48" y="78.12" width="1.4" height="1.4" fill="#111"/>
<rect x="435" y="82.96" width="1.4" height="1.4" fill="#111"/>
<rect x="432.29" y="78.75" width="1.4" height="1.4" fill="#111"/>
<rect x="438.47" y="70.61" width="1.4" height="1.4" fill="#111"/>
<rect x="428.89" y="66" width="1.4" height="1.4" fill="#111"/>
<rect x="435.58" y="76.76" width="1.4" height="1.4" fill="#111"/>
<rect x="439.91" y="65.27" width="1.4" height="1.4" fill="#111"/>
<rect x="434.81" y="77.67" width="1.4" height="1.4" fill="#111"/>
<rect x="438.11" y="65.92" width="1.4" height="1.4" fill="#111"/>
<rect x="433.44" y="74.46" width="1.4" height="1.4" fill="#111"/>
<rect x="435.18" y="84.48" width="1.4" height="1.4" fill="#111"/>
<rect x="434.53" y="86.76" width="1.4" height="1.4" fill="#111"/>
<rect x="432.54" y="69.24" width="1.4" height="1.4" fill="#111"/>
<rect x="437.18" y="83.48" width="1.4" height="1.4" fill="#111"/>
<rect x="436.96" y="75.06" width="1.4" height="1.4" fill="#111"/>
<rect x="428.79" y="67.45" width="1.4" height="1.4" fill="#111"/>
<rect x="432.78" y="68.8" width="1.4" height="1.4" fill="#111"/>
<rect x="436.74" y="70.29" width="1.4" height="1.4" fill="#111"/>
<rect x="437.4" y="73.42" width="1.4" height="1.4" fill="#111"/>
<rect x="433.7" y="73.69" width="1.4" height="1.4" fill="#111"/>
<rect x="436.21" y="79.24" width="1.4" height="1.4" fill="#111"/>
<rect x="433.22" y="71.05" width="1.4" height="1.4" fill="#111"/>
<rect x="430.3" y="84.83" width="1.4" height="1.4" fill="#111"/>
<rect x="439.59" y="71.46" width="1.4" height="1.4" fill="#111"/>
<rect x="433.22" y="63.53" width="1.4" height="1.4" fill="#111"/>
<rect x="435.36" y="74.35" width="1.4" height="1.4" fill="#111"/>
<rect x="442" y="74.65" width="1.4" height="1.4" fill="#111"/>
<rect x="439.45" y="74.22" width="1.4" height="1.4" fill="#111"/>
<rect x="429.49" y="74.15" width="1.4" height="1.4" fill="#111"/>
<rect x="438.49" y="77.09" width="1.4" height="1.4" fill="#111"/>
<rect x="434.22" y="56.75" width="1.4" height="1.4" fill="#111"/>
<rect x="434.38" y="61.14" width="1.4" height="1.4" fill="#111"/>
<rect x="436.77" y="56.76" width="1.4" height="1.4" fill="#111"/>
<rect x="431.8" y="81.95" width="1.4" height="1.4" fill="#111"/>
<rect x="440.22" y="63.94" width="1.4" height="1.4" fill="#111"/>
<rect x="429.74" y="79.4" width="1.4" height="1.4" fill="#111"/>
<rect x="437.62" y="65.4" width="1.4" height="1.4" fill="#111"/>
<rect x="432.51" y="67.6" width="1.4" height="1.4" fill="#111"/>
<rect x="430.87" y="67.7" width="1.4" height="1.4" fill="#111"/>
<rect x="438.93" y="77.97" width="1.4" height="1.4" fill="#111"/>
<rect x="441.59" y="72.15" width="1.4" height="1.4" fill="#111"/>
<rect x="434.35" y="65.43" width="1.4" height="1.4" fill="#111"/>
<rect x="434.39" y="62.95" width="1.4" height="1.4" fill="#111"/>
<rect x="428.93" y="78.03" width="1.4" height="1.4" fill="#111"/>
<rect x="439.55" y="79.08" width="1.4" height="1.4" fill="#111"/>
<rect x="439.2" y="74.69" width="1.4" height="1.4" fill="#111"/>
<rect x="432.43" y="73.45" width="1.4" height="1.4" fill="#111"/>
<rect x="433.57" y="64.46" width="1.4" height="1.4" fill="#111"/>
<rect x="429.21" y="61.68" width="1.4" height="1.4" fill="#111"/>
<rect x="434.78" y="73.93" width="1.4" height="1.4" fill="#111"/>
<rect x="433.23" y="83.52" width="1.4" height="1.4" fill="#111"/>
<rect x="435.39" y="77.17" width="1.4" height="1.4" fill="#111"/>
<rect x="438.82" y="66.65" width="1.4" height="1.4" fill="#111"/>
<rect x="428.3" y="78.44" width="1.4" height="1.4" fill="#111"/>
<rect x="432.53" y="82.63" width="1.4" height="1.4" fill="#111"/>
<rect x="435.91" y="80.35" width="1.4" height="1.4" fill="#111"/>
<rect x="437.32" y="57.2" width="1.4" height="1.4" fill="#111"/>
<rect x="437.17" y="67.75" width="1.4" height="1.4" fill="#111"/>
<rect x="432.3" y="69.54" width="1.4" height="1.4" fill="#111"/>
<rect x="437.33" y="79.43" width="1.4" height="1.4" fill="#111"/>
<rect x="438.14" y="60.35" width="1.4" height="1.4" fill="#111"/>
<rect x="434.46" y="77.3" width="1.4" height="1.4" fill="#111"/>
<rect x="432.28" y="74.64" width="1.4" height="1.4" fill="#111"/>
<rect x="435.56" y="80.36" width="1.4" height="1.4" fill="#111"/>
<rect x="432.09" y="66.58" width="1.4" height="1.4" fill="#111"/>
<rect x="432.28" y="85.94" width="1.4" height="1.4" fill="#111"/>
<rect x="438.4" y="71.87" width="1.4" height="1.4" fill="#111"/>
<rect x="435.54" y="73.66" width="1.4" height="1.4" fill="#111"/>
<rect x="435.47" y="71.24" width="1.4" height="1.4" fill="#111"/>
<rect x="433.7" y="63.38" width="1.4" height="1.4" fill="#111"/>
<rect x="432.68" y="85.18" width="1.4" height="1.4" fill="#111"/>
<rect x="436.57" y="73.29" width="1.4" height="1.4" fill="#111"/>
<rect x="434.09" y="73.27" width="1.4" height="1.4" fill="#111"/>
<rect x="435.97" y="67.96" width="1.4" height="1.4" fill="#111"/>
<rect x="435.45" y="74.6" width="1.4" height="1.4" fill="#111"/>
<rect x="432.33" y="66.88" width="1.4" height="1.4" fill="#111"/>
<rect x="431.5" y="64.82" width="1.4" height="1.4" fill="#111"/>
<rect x="433.92" y="68.22" width="1.4" height="1.4" fill="#111"/>
<rect x="432.75" y="73.53" width="1.4" height="1.4" fill="#111"/>
<rect x="438.52" y="73.37" width="1.4" height="1.4" fill="#111"/>
<rect x="434.34" y="68.21" width="1.4" height="1.4" fill="#111"/>
<rect x="434.37" y="79.64" width="1.4" height="1.4" fill="#111"/>
<rect x="433.5" y="64.2" width="1.4" height="1.4" fill="#111"/>
<rect x="430.63" y="64.5" width="1.4" height="1.4" fill="#111"/>
<rect x="430.21" y="81.04" width="1.4" height="1.4" fill="#111"/>
<rect x="435.97" y="71.02" width="1.4" height="1.4" fill="#111"/>
<rect x="439.62" y="67.87" width="1.4" height="1.4" fill="#111"/>
<rect x="437.28" y="78.81" width="1.4" height="1.4" fill="#111"/>
<rect x="429.7" y="61.12" width="1.4" height="1.4" fill="#111"/>
<rect x="431.74" y="79.6" width="1.4" height="1.4" fill="#111"/>
<rect x="439.08" y="63.59" width="1.4" height="1.4" fill="#111"/>
<rect x="438.26" y="69.93" width="1.4" height="1.4" fill="#111"/>
<rect x="433.5" y="68.67" width="1.4" height="1.4" fill="#111"/>
<rect x="433.73" y="59.16" width="1.4" height="1.4" fill="#111"/>
<rect x="431.5" y="63.53" width="1.4" height="1.4" fill="#111"/>
<rect x="436.42" y="88.47" width="1.4" height="1.4" fill="#111"/>
<rect x="429.12" y="69.75" width="1.4" height="1.4" fill="#111"/>
<rect x="431.7" y="87.67" width="1.4" height="1.4" fill="#111"/>
<rect x="436.68" y="67.33" width="1.4" height="1.4" fill="#111"/>
<rect x="437.89" y="76.82" width="1.4" height="1.4" fill="#111"/>
<rect x="429.44" y="68.81" width="1.4" height="1.4" fill="#111"/>
<rect x="434.01" y="72.94" width="1.4" height="1.4" fill="#111"/>
<rect x="435.24" y="70.26" width="1.4" height="1.4" fill="#111"/>
<rect x="435.43" y="68.4" width="1.4" height="1.4" fill="#111"/>
<rect x="431.84" y="84.17" width="1.4" height="1.4" fill="#111"/>
<rect x="432.8" y="48.3" width="1.4" height="1.4" fill="#111"/>
<rect x="433.3" y="54.3" width="1.4" height="1.4" fill="#111"/>
<rect x="422.8" y="65.8" width="1.4" height="1.4" fill="#111"/>
<rect x="420.8" y="69.8" width="1.4" height="1.4" fill="#111"/>
<rect x="423.8" y="71.3" width="1.4" height="1.4" fill="#111"/>
<rect x="422.3" y="73.3" width="1.4" height="1.4" fill="#111"/>
<rect x="424.3" y="74.3" width="1.4" height="1.4" fill="#111"/>
<rect x="426.3" y="76.3" width="1.4" height="1.4" fill="#111"/>
<rect x="418.8" y="78.8" width="1.4" height="1.4" fill="#111"/>
<rect x="421.8" y="79.8" width="1.4" height="1.4" fill="#111"/>
<rect x="420.3" y="81.3" width="1.4" height="1.4" fill="#111"/>
<rect x="421.3" y="82.3" width="1.4" height="1.4" fill="#111"/>
<rect x="425.8" y="85.8" width="1.4" height="1.4" fill="#111"/>
<rect x="427.3" y="85.3" width="1.4" height="1.4" fill="#111"/>
<rect x="405.3" y="60.3" width="1.4" height="1.4" fill="#111"/>
<rect x="410.3" y="83.3" width="1.4" height="1.4" fill="#111"/>
<rect x="405.3" y="87.3" width="1.4" height="1.4" fill="#111"/>
<rect x="413.3" y="91.3" width="1.4" height="1.4" fill="#111"/>
<rect x="400.3" y="87.3" width="1.4" height="1.4" fill="#111"/>
<rect x="441.3" y="56.3" width="1.4" height="1.4" fill="#111"/>
<rect x="440.3" y="61.3" width="1.4" height="1.4" fill="#111"/>
<rect x="442.3" y="64.3" width="1.4" height="1.4" fill="#111"/>
<rect x="523.02" y="55.33" width="1.4" height="1.4" fill="#111"/>
<rect x="523.6" y="59.36" width="1.4" height="1.4" fill="#111"/>
<rect x="516.13" y="61.08" width="1.4" height="1.4" fill="#111"/>
<rect x="519.58" y="62.23" width="1.4" height="1.4" fill="#111"/>
<rect x="520.73" y="63.38" width="1.4" height="1.4" fill="#111"/>
<rect x="525.9" y="62.23" width="1.4" height="1.4" fill="#111"/>
<rect x="527.05" y="63.38" width="1.4" height="1.4" fill="#111"/>
<rect x="517.85" y="65.1" width="1.4" height="1.4" fill="#111"/>
<rect x="520.15" y="65.1" width="1.4" height="1.4" fill="#111"/>
<rect x="524.17" y="64.53" width="1.4" height="1.4" fill="#111"/>
<rect x="526.47" y="66.83" width="1.4" height="1.4" fill="#111"/>
<rect x="518.43" y="68.55" width="1.4" height="1.4" fill="#111"/>
<rect x="524.75" y="69.7" width="1.4" height="1.4" fill="#111"/>
<rect x="525.9" y="70.28" width="1.4" height="1.4" fill="#111"/>
<rect x="527.62" y="71.43" width="1.4" height="1.4" fill="#111"/>
<rect x="512.68" y="69.7" width="1.4" height="1.4" fill="#111"/>
<rect x="513.83" y="71.43" width="1.4" height="1.4" fill="#111"/>
<rect x="517.28" y="71.43" width="1.4" height="1.4" fill="#111"/>
<rect x="521.3" y="73.15" width="1.4" height="1.4" fill="#111"/>
<rect x="512.68" y="72.58" width="1.4" height="1.4" fill="#111"/>
<rect x="513.83" y="74.87" width="1.4" height="1.4" fill="#111"/>
<rect x="517.28" y="74.87" width="1.4" height="1.4" fill="#111"/>
<rect x="519.58" y="76.6" width="1.4" height="1.4" fill="#111"/>
<rect x="520.73" y="77.17" width="1.4" height="1.4" fill="#111"/>
<rect x="521.87" y="77.75" width="1.4" height="1.4" fill="#111"/>
<rect x="515.55" y="77.17" width="1.4" height="1.4" fill="#111"/>
<rect x="514.4" y="79.47" width="1.4" height="1.4" fill="#111"/>
<rect x="517.28" y="78.9" width="1.4" height="1.4" fill="#111"/>
<rect x="519.58" y="79.47" width="1.4" height="1.4" fill="#111"/>
<rect x="521.3" y="80.62" width="1.4" height="1.4" fill="#111"/>
<rect x="526.47" y="79.47" width="1.4" height="1.4" fill="#111"/>
<rect x="527.62" y="82.35" width="1.4" height="1.4" fill="#111"/>
<rect x="512.68" y="80.62" width="1.4" height="1.4" fill="#111"/>
<rect x="515.55" y="81.77" width="1.4" height="1.4" fill="#111"/>
<rect x="518.43" y="81.77" width="1.4" height="1.4" fill="#111"/>
<rect x="520.73" y="83.5" width="1.4" height="1.4" fill="#111"/>
<rect x="523.02" y="82.92" width="1.4" height="1.4" fill="#111"/>
<rect x="513.83" y="85.22" width="1.4" height="1.4" fill="#111"/>
<rect x="517.28" y="85.22" width="1.4" height="1.4" fill="#111"/>
<rect x="519" y="87.52" width="1.4" height="1.4" fill="#111"/>
<rect x="523.6" y="87.52" width="1.4" height="1.4" fill="#111"/>
<rect x="516.7" y="90.39" width="1.4" height="1.4" fill="#111"/>
<rect x="509.23" y="64.53" width="1.4" height="1.4" fill="#111"/>
<rect x="501.19" y="66.25" width="1.4" height="1.4" fill="#111"/>
<rect x="504.06" y="67.98" width="1.4" height="1.4" fill="#111"/>
<rect x="505.78" y="67.98" width="1.4" height="1.4" fill="#111"/>
<rect x="496.01" y="67.98" width="1.4" height="1.4" fill="#111"/>
<rect x="497.74" y="70.28" width="1.4" height="1.4" fill="#111"/>
<rect x="506.36" y="74.87" width="1.4" height="1.4" fill="#111"/>
<rect x="508.08" y="75.45" width="1.4" height="1.4" fill="#111"/>
<rect x="505.78" y="77.17" width="1.4" height="1.4" fill="#111"/>
<rect x="497.16" y="82.35" width="1.4" height="1.4" fill="#111"/>
<rect x="495.44" y="85.22" width="1.4" height="1.4" fill="#111"/>
<rect x="494.29" y="86.94" width="1.4" height="1.4" fill="#111"/>
<rect x="491.41" y="87.29" width="1.4" height="1.4" fill="#111"/>
<rect x="490.84" y="90.97" width="1.4" height="1.4" fill="#111"/>
<rect x="494.86" y="91.2" width="1.4" height="1.4" fill="#111"/>
<rect x="498.31" y="90.39" width="1.4" height="1.4" fill="#111"/>
<rect x="501.41" y="87.52" width="1.4" height="1.4" fill="#111"/>
<rect x="508.66" y="90.39" width="1.4" height="1.4" fill="#111"/>
<rect x="520.15" y="62.81" width="1.4" height="1.4" fill="#111"/>
<rect x="520.96" y="77.4" width="1.4" height="1.4" fill="#111"/>
<rect x="584.73" y="60.15" width="1.4" height="1.4" fill="#111"/>
<rect x="588.32" y="59.63" width="1.4" height="1.4" fill="#111"/>
<rect x="587.81" y="62.71" width="1.4" height="1.4" fill="#111"/>
<rect x="584.47" y="67.34" width="1.4" height="1.4" fill="#111"/>
<rect x="594.23" y="61.69" width="1.4" height="1.4" fill="#111"/>
<rect x="591.66" y="71.96" width="1.4" height="1.4" fill="#111"/>
<rect x="598.85" y="69.9" width="1.4" height="1.4" fill="#111"/>
<rect x="605.78" y="52.7" width="1.4" height="1.4" fill="#111"/>
<rect x="607.07" y="53.22" width="1.4" height="1.4" fill="#111"/>
<rect x="613.48" y="51.42" width="1.4" height="1.4" fill="#111"/>
<rect x="607.07" y="60.15" width="1.4" height="1.4" fill="#111"/>
<rect x="603.99" y="68.11" width="1.4" height="1.4" fill="#111"/>
<rect x="606.3" y="68.62" width="1.4" height="1.4" fill="#111"/>
<rect x="607.84" y="69.13" width="1.4" height="1.4" fill="#111"/>
<rect x="614.77" y="69.9" width="1.4" height="1.4" fill="#111"/>
<rect x="602.45" y="76.32" width="1.4" height="1.4" fill="#111"/>
<rect x="608.35" y="75.55" width="1.4" height="1.4" fill="#111"/>
<rect x="595.51" y="78.89" width="1.4" height="1.4" fill="#111"/>
<rect x="596.8" y="81.46" width="1.4" height="1.4" fill="#111"/>
<rect x="599.36" y="82.74" width="1.4" height="1.4" fill="#111"/>
<rect x="597.57" y="87.36" width="1.4" height="1.4" fill="#111"/>
<rect x="591.66" y="85.31" width="1.4" height="1.4" fill="#111"/>
<rect x="586.53" y="81.46" width="1.4" height="1.4" fill="#111"/>
<rect x="586.01" y="87.36" width="1.4" height="1.4" fill="#111"/>
<rect x="579.6" y="85.31" width="1.4" height="1.4" fill="#111"/>
<rect x="607.07" y="86.08" width="1.4" height="1.4" fill="#111"/>
<rect x="590.38" y="81.46" width="1.4" height="1.4" fill="#111"/>
<rect x="666.63" y="83.25" width="1.4" height="1.4" fill="#111"/>
<rect x="667.14" y="89.93" width="1.4" height="1.4" fill="#111"/>
<rect x="681.52" y="81.97" width="1.4" height="1.4" fill="#111"/>
<rect x="682.03" y="86.59" width="1.4" height="1.4" fill="#111"/>
<rect x="681.26" y="90.44" width="1.4" height="1.4" fill="#111"/>
<rect x="687.94" y="77.09" width="1.4" height="1.4" fill="#111"/>
<rect x="691.79" y="62.97" width="1.4" height="1.4" fill="#111"/>
<rect x="693.07" y="60.15" width="1.4" height="1.4" fill="#111"/>
<rect x="696.15" y="59.12" width="1.4" height="1.4" fill="#111"/>
<rect x="698.98" y="62.71" width="1.4" height="1.4" fill="#111"/>
<rect x="695.64" y="64.77" width="1.4" height="1.4" fill="#111"/>
<rect x="692.3" y="68.11" width="1.4" height="1.4" fill="#111"/>
<rect x="691.79" y="81.46" width="1.4" height="1.4" fill="#111"/>
<rect x="690.51" y="84.02" width="1.4" height="1.4" fill="#111"/>
<rect x="700.78" y="87.1" width="1.4" height="1.4" fill="#111"/>
<text x="0.6" y="154.82" font-size="10.6" text-anchor="start" font-weight="bold" fill="#000">B</text>
<text x="37.5" y="151.32" font-size="12" text-anchor="start" font-weight="normal" fill="#222">Immature:</text>
<text x="40.5" y="258.52" font-size="12" text-anchor="start" font-weight="normal" fill="#222">Mature:</text>
<text x="13.68" y="240.3" font-size="11.9" text-anchor="middle" font-weight="normal" fill="#222" transform="rotate(-90 13.68 240.3)">Number of migrated cells</text>
<text x="27.28" y="240.3" font-size="11.9" text-anchor="middle" font-weight="normal" fill="#222" transform="rotate(-90 27.28 240.3)">(CD117+)</text>
<text x="230.7" y="354.89" font-size="12.2" text-anchor="middle" font-weight="normal" fill="#222">[SP] uM</text>
<line x1="47.6" y1="160.6" x2="47.6" y2="218.4" stroke="#222" stroke-width="1.5" />
<line x1="45.6" y1="218.4" x2="134" y2="218.4" stroke="#222" stroke-width="1.5" />
<line x1="45.2" y1="218.4" x2="47.6" y2="218.4" stroke="#222" stroke-width="1.1" />
<text x="39.8" y="222.66" font-size="9.6" text-anchor="end" font-weight="normal" fill="#222">0</text>
<line x1="45.2" y1="203.95" x2="47.6" y2="203.95" stroke="#222" stroke-width="1.1" />
<text x="44.6" y="208.21" font-size="9.6" text-anchor="end" font-weight="normal" fill="#222">50</text>
<line x1="45.2" y1="189.5" x2="47.6" y2="189.5" stroke="#222" stroke-width="1.1" />
<text x="44.6" y="193.76" font-size="9.6" text-anchor="end" font-weight="normal" fill="#222">100</text>
<line x1="45.2" y1="175.05" x2="47.6" y2="175.05" stroke="#222" stroke-width="1.1" />
<text x="44.6" y="179.31" font-size="9.6" text-anchor="end" font-weight="normal" fill="#222">150</text>
<line x1="45.2" y1="160.6" x2="47.6" y2="160.6" stroke="#222" stroke-width="1.1" />
<text x="44.6" y="164.86" font-size="9.6" text-anchor="end" font-weight="normal" fill="#222">200</text>
<line x1="47.6" y1="218.4" x2="47.6" y2="221.4" stroke="#222" stroke-width="1.1" />
<text x="47.6" y="230.26" font-size="9.6" text-anchor="middle" font-weight="normal" fill="#222">0.01</text>
<line x1="69.2" y1="218.4" x2="69.2" y2="221.4" stroke="#222" stroke-width="1.1" />
<text x="69.2" y="230.26" font-size="9.6" text-anchor="middle" font-weight="normal" fill="#222">0.1</text>
<line x1="90.8" y1="218.4" x2="90.8" y2="221.4" stroke="#222" stroke-width="1.1" />
<text x="90.8" y="230.26" font-size="9.6" text-anchor="middle" font-weight="normal" fill="#222">1</text>
<line x1="112.4" y1="218.4" x2="112.4" y2="221.4" stroke="#222" stroke-width="1.1" />
<text x="112.4" y="230.26" font-size="9.6" text-anchor="middle" font-weight="normal" fill="#222">10</text>
<line x1="134" y1="218.4" x2="134" y2="221.4" stroke="#222" stroke-width="1.1" />
<text x="134" y="230.26" font-size="9.6" text-anchor="middle" font-weight="normal" fill="#222">100</text>
<polyline fill="none" stroke="#a866d2" stroke-width="0.7" points="57.91,215.51 69.2,206.55 79.51,198.17 90.8,171.29 101.11,202.5 112.4,214.06"/>
<circle cx="57.91" cy="215.51" r="1.35" fill="#6a0f9f"/>
<circle cx="69.2" cy="206.55" r="1.35" fill="#6a0f9f"/>
<circle cx="79.51" cy="198.17" r="1.35" fill="#6a0f9f"/>
<circle cx="90.8" cy="171.29" r="1.35" fill="#6a0f9f"/>
<circle cx="101.11" cy="202.5" r="1.35" fill="#6a0f9f"/>
<circle cx="112.4" cy="214.06" r="1.35" fill="#6a0f9f"/>
<text x="99.5" y="150.88" font-size="9.4" text-anchor="start" font-weight="bold" fill="#222">Donor 1</text>
<line x1="181.2" y1="160.6" x2="181.2" y2="218.4" stroke="#222" stroke-width="1.5" />
<line x1="179.2" y1="218.4" x2="267.6" y2="218.4" stroke="#222" stroke-width="1.5" />
<line x1="178.8" y1="218.4" x2="181.2" y2="218.4" stroke="#222" stroke-width="1.1" />
<text x="173.4" y="222.66" font-size="9.6" text-anchor="end" font-weight="normal" fill="#222">0</text>
<line x1="178.8" y1="206.84" x2="181.2" y2="206.84" stroke="#222" stroke-width="1.1" />
<text x="178.2" y="211.1" font-size="9.6" text-anchor="end" font-weight="normal" fill="#222">20</text>
<line x1="178.8" y1="195.28" x2="181.2" y2="195.28" stroke="#222" stroke-width="1.1" />
<text x="178.2" y="199.54" font-size="9.6" text-anchor="end" font-weight="normal" fill="#222">40</text>
<line x1="178.8" y1="183.72" x2="181.2" y2="183.72" stroke="#222" stroke-width="1.1" />
<text x="178.2" y="187.98" font-size="9.6" text-anchor="end" font-weight="normal" fill="#222">60</text>
<line x1="178.8" y1="172.16" x2="181.2" y2="172.16" stroke="#222" stroke-width="1.1" />
<text x="178.2" y="176.42" font-size="9.6" text-anchor="end" font-weight="normal" fill="#222">80</text>
<line x1="178.8" y1="160.6" x2="181.2" y2="160.6" stroke="#222" stroke-width="1.1" />
<text x="178.2" y="164.86" font-size="9.6" text-anchor="end" font-weight="normal" fill="#222">100</text>
<line x1="181.2" y1="218.4" x2="181.2" y2="221.4" stroke="#222" stroke-width="1.1" />
<text x="181.2" y="231.06" font-size="9.6" text-anchor="middle" font-weight="normal" fill="#222">0.01</text>
<line x1="202.8" y1="218.4" x2="202.8" y2="221.4" stroke="#222" stroke-width="1.1" />
<text x="202.8" y="231.06" font-size="9.6" text-anchor="middle" font-weight="normal" fill="#222">0.1</text>
<line x1="224.4" y1="218.4" x2="224.4" y2="221.4" stroke="#222" stroke-width="1.1" />
<text x="224.4" y="231.06" font-size="9.6" text-anchor="middle" font-weight="normal" fill="#222">1</text>
<line x1="246" y1="218.4" x2="246" y2="221.4" stroke="#222" stroke-width="1.1" />
<text x="246" y="231.06" font-size="9.6" text-anchor="middle" font-weight="normal" fill="#222">10</text>
<line x1="267.6" y1="218.4" x2="267.6" y2="221.4" stroke="#222" stroke-width="1.1" />
<text x="267.6" y="231.06" font-size="9.6" text-anchor="middle" font-weight="normal" fill="#222">100</text>
<polyline fill="none" stroke="#a866d2" stroke-width="0.7" points="191.51,208 202.8,191.81 213.11,176.78 224.4,172.74 234.71,183.72 246,195.28"/>
<circle cx="191.51" cy="208" r="1.35" fill="#6a0f9f"/>
<circle cx="202.8" cy="191.81" r="1.35" fill="#6a0f9f"/>
<circle cx="213.11" cy="176.78" r="1.35" fill="#6a0f9f"/>
<circle cx="224.4" cy="172.74" r="1.35" fill="#6a0f9f"/>
<circle cx="234.71" cy="183.72" r="1.35" fill="#6a0f9f"/>
<circle cx="246" cy="195.28" r="1.35" fill="#6a0f9f"/>
<text x="232.8" y="151.08" font-size="9.4" text-anchor="start" font-weight="bold" fill="#222">Donor 2</text>
<line x1="315.1" y1="160.9" x2="315.1" y2="218.2" stroke="#222" stroke-width="1.5" />
<line x1="313.1" y1="218.2" x2="401.8" y2="218.2" stroke="#222" stroke-width="1.5" />
<line x1="312.7" y1="218.2" x2="315.1" y2="218.2" stroke="#222" stroke-width="1.1" />
<text x="307.3" y="222.46" font-size="9.6" text-anchor="end" font-weight="normal" fill="#222">0</text>
<line x1="312.7" y1="206.74" x2="315.1" y2="206.74" stroke="#222" stroke-width="1.1" />
<text x="312.1" y="211" font-size="9.6" text-anchor="end" font-weight="normal" fill="#222">100</text>
<line x1="312.7" y1="195.28" x2="315.1" y2="195.28" stroke="#222" stroke-width="1.1" />
<text x="312.1" y="199.54" font-size="9.6" text-anchor="end" font-weight="normal" fill="#222">200</text>
<line x1="312.7" y1="183.82" x2="315.1" y2="183.82" stroke="#222" stroke-width="1.1" />
<text x="312.1" y="188.08" font-size="9.6" text-anchor="end" font-weight="normal" fill="#222">300</text>
<line x1="312.7" y1="172.36" x2="315.1" y2="172.36" stroke="#222" stroke-width="1.1" />
<text x="312.1" y="176.62" font-size="9.6" text-anchor="end" font-weight="normal" fill="#222">400</text>
<line x1="312.7" y1="160.9" x2="315.1" y2="160.9" stroke="#222" stroke-width="1.1" />
<text x="312.1" y="165.16" font-size="9.6" text-anchor="end" font-weight="normal" fill="#222">500</text>
<line x1="315.1" y1="218.2" x2="315.1" y2="221.2" stroke="#222" stroke-width="1.1" />
<text x="315.1" y="231.36" font-size="9.6" text-anchor="middle" font-weight="normal" fill="#222">0.01</text>
<line x1="336.78" y1="218.2" x2="336.78" y2="221.2" stroke="#222" stroke-width="1.1" />
<text x="336.78" y="231.36" font-size="9.6" text-anchor="middle" font-weight="normal" fill="#222">0.1</text>
<line x1="358.45" y1="218.2" x2="358.45" y2="221.2" stroke="#222" stroke-width="1.1" />
<text x="358.45" y="231.36" font-size="9.6" text-anchor="middle" font-weight="normal" fill="#222">1</text>
<line x1="380.12" y1="218.2" x2="380.12" y2="221.2" stroke="#222" stroke-width="1.1" />
<text x="380.12" y="231.36" font-size="9.6" text-anchor="middle" font-weight="normal" fill="#222">10</text>
<line x1="401.8" y1="218.2" x2="401.8" y2="221.2" stroke="#222" stroke-width="1.1" />
<text x="401.8" y="231.36" font-size="9.6" text-anchor="middle" font-weight="normal" fill="#222">100</text>
<polyline fill="none" stroke="#a866d2" stroke-width="0.7" points="325.44,214.76 336.78,190.7 347.12,178.66 358.45,180.96 368.79,172.93 380.12,199.86"/>
<circle cx="325.44" cy="214.76" r="1.35" fill="#6a0f9f"/>
<circle cx="336.78" cy="190.7" r="1.35" fill="#6a0f9f"/>
<circle cx="347.12" cy="178.66" r="1.35" fill="#6a0f9f"/>
<circle cx="358.45" cy="180.96" r="1.35" fill="#6a0f9f"/>
<circle cx="368.79" cy="172.93" r="1.35" fill="#6a0f9f"/>
<circle cx="380.12" cy="199.86" r="1.35" fill="#6a0f9f"/>
<text x="366" y="151.08" font-size="9.4" text-anchor="start" font-weight="bold" fill="#222">Donor 3</text>
<line x1="45.6" y1="266.6" x2="45.6" y2="324.9" stroke="#222" stroke-width="1.5" />
<line x1="43.6" y1="324.9" x2="133.8" y2="324.9" stroke="#222" stroke-width="1.5" />
<line x1="43.2" y1="324.9" x2="45.6" y2="324.9" stroke="#222" stroke-width="1.1" />
<text x="37.8" y="329.16" font-size="9.6" text-anchor="end" font-weight="normal" fill="#222">0</text>
<line x1="43.2" y1="313.24" x2="45.6" y2="313.24" stroke="#222" stroke-width="1.1" />
<text x="42.6" y="317.5" font-size="9.6" text-anchor="end" font-weight="normal" fill="#222">10</text>
<line x1="43.2" y1="301.58" x2="45.6" y2="301.58" stroke="#222" stroke-width="1.1" />
<text x="42.6" y="305.84" font-size="9.6" text-anchor="end" font-weight="normal" fill="#222">20</text>
<line x1="43.2" y1="289.92" x2="45.6" y2="289.92" stroke="#222" stroke-width="1.1" />
<text x="42.6" y="294.18" font-size="9.6" text-anchor="end" font-weight="normal" fill="#222">30</text>
<line x1="43.2" y1="278.26" x2="45.6" y2="278.26" stroke="#222" stroke-width="1.1" />
<text x="42.6" y="282.52" font-size="9.6" text-anchor="end" font-weight="normal" fill="#222">40</text>
<line x1="43.2" y1="266.6" x2="45.6" y2="266.6" stroke="#222" stroke-width="1.1" />
<text x="42.6" y="270.86" font-size="9.6" text-anchor="end" font-weight="normal" fill="#222">50</text>
<line x1="45.6" y1="324.9" x2="45.6" y2="327.9" stroke="#222" stroke-width="1.1" />
<text x="45.6" y="337.76" font-size="9.6" text-anchor="middle" font-weight="normal" fill="#222">0.01</text>
<line x1="67.65" y1="324.9" x2="67.65" y2="327.9" stroke="#222" stroke-width="1.1" />
<text x="67.65" y="337.76" font-size="9.6" text-anchor="middle" font-weight="normal" fill="#222">0.1</text>
<line x1="89.7" y1="324.9" x2="89.7" y2="327.9" stroke="#222" stroke-width="1.1" />
<text x="89.7" y="337.76" font-size="9.6" text-anchor="middle" font-weight="normal" fill="#222">1</text>
<line x1="111.75" y1="324.9" x2="111.75" y2="327.9" stroke="#222" stroke-width="1.1" />
<text x="111.75" y="337.76" font-size="9.6" text-anchor="middle" font-weight="normal" fill="#222">10</text>
<line x1="133.8" y1="324.9" x2="133.8" y2="327.9" stroke="#222" stroke-width="1.1" />
<text x="133.8" y="337.76" font-size="9.6" text-anchor="middle" font-weight="normal" fill="#222">100</text>
<polyline fill="none" stroke="#a866d2" stroke-width="0.7" points="56.12,312.07 67.65,278.26 78.17,279.43 89.7,271.26 100.22,310.91 111.75,316.74"/>
<circle cx="56.12" cy="312.07" r="1.35" fill="#6a0f9f"/>
<circle cx="67.65" cy="278.26" r="1.35" fill="#6a0f9f"/>
<circle cx="78.17" cy="279.43" r="1.35" fill="#6a0f9f"/>
<circle cx="89.7" cy="271.26" r="1.35" fill="#6a0f9f"/>
<circle cx="100.22" cy="310.91" r="1.35" fill="#6a0f9f"/>
<circle cx="111.75" cy="316.74" r="1.35" fill="#6a0f9f"/>
<text x="99.3" y="258.18" font-size="9.4" text-anchor="start" font-weight="bold" fill="#222">Donor 4</text>
<line x1="179.5" y1="267.4" x2="179.5" y2="325.5" stroke="#222" stroke-width="1.5" />
<line x1="177.5" y1="325.5" x2="268.1" y2="325.5" stroke="#222" stroke-width="1.5" />
<line x1="177.1" y1="325.5" x2="179.5" y2="325.5" stroke="#222" stroke-width="1.1" />
<text x="171.7" y="329.76" font-size="9.6" text-anchor="end" font-weight="normal" fill="#222">0</text>
<line x1="177.1" y1="313.88" x2="179.5" y2="313.88" stroke="#222" stroke-width="1.1" />
<text x="176.5" y="318.14" font-size="9.6" text-anchor="end" font-weight="normal" fill="#222">10</text>
<line x1="177.1" y1="302.26" x2="179.5" y2="302.26" stroke="#222" stroke-width="1.1" />
<text x="176.5" y="306.52" font-size="9.6" text-anchor="end" font-weight="normal" fill="#222">20</text>
<line x1="177.1" y1="290.64" x2="179.5" y2="290.64" stroke="#222" stroke-width="1.1" />
<text x="176.5" y="294.9" font-size="9.6" text-anchor="end" font-weight="normal" fill="#222">30</text>
<line x1="177.1" y1="279.02" x2="179.5" y2="279.02" stroke="#222" stroke-width="1.1" />
<text x="176.5" y="283.28" font-size="9.6" text-anchor="end" font-weight="normal" fill="#222">40</text>
<line x1="177.1" y1="267.4" x2="179.5" y2="267.4" stroke="#222" stroke-width="1.1" />
<text x="176.5" y="271.66" font-size="9.6" text-anchor="end" font-weight="normal" fill="#222">50</text>
<line x1="179.5" y1="325.5" x2="179.5" y2="328.5" stroke="#222" stroke-width="1.1" />
<text x="179.5" y="337.76" font-size="9.6" text-anchor="middle" font-weight="normal" fill="#222">0.01</text>
<line x1="201.65" y1="325.5" x2="201.65" y2="328.5" stroke="#222" stroke-width="1.1" />
<text x="201.65" y="337.76" font-size="9.6" text-anchor="middle" font-weight="normal" fill="#222">0.1</text>
<line x1="223.8" y1="325.5" x2="223.8" y2="328.5" stroke="#222" stroke-width="1.1" />
<text x="223.8" y="337.76" font-size="9.6" text-anchor="middle" font-weight="normal" fill="#222">1</text>
<line x1="245.95" y1="325.5" x2="245.95" y2="328.5" stroke="#222" stroke-width="1.1" />
<text x="245.95" y="337.76" font-size="9.6" text-anchor="middle" font-weight="normal" fill="#222">10</text>
<line x1="268.1" y1="325.5" x2="268.1" y2="328.5" stroke="#222" stroke-width="1.1" />
<text x="268.1" y="337.76" font-size="9.6" text-anchor="middle" font-weight="normal" fill="#222">100</text>
<polyline fill="none" stroke="#a866d2" stroke-width="0.7" points="190.07,324.34 201.65,325.5 212.22,317.37 223.8,322.01 234.37,305.75 245.95,320.85"/>
<circle cx="190.07" cy="324.34" r="1.35" fill="#6a0f9f"/>
<circle cx="201.65" cy="325.5" r="1.35" fill="#6a0f9f"/>
<circle cx="212.22" cy="317.37" r="1.35" fill="#6a0f9f"/>
<circle cx="223.8" cy="322.01" r="1.35" fill="#6a0f9f"/>
<circle cx="234.37" cy="305.75" r="1.35" fill="#6a0f9f"/>
<circle cx="245.95" cy="320.85" r="1.35" fill="#6a0f9f"/>
<text x="232.8" y="258.18" font-size="9.4" text-anchor="start" font-weight="bold" fill="#222">Donor 5</text>
<line x1="313" y1="267.4" x2="313" y2="325.5" stroke="#222" stroke-width="1.5" />
<line x1="311" y1="325.5" x2="401.4" y2="325.5" stroke="#222" stroke-width="1.5" />
<line x1="310.6" y1="325.5" x2="313" y2="325.5" stroke="#222" stroke-width="1.1" />
<text x="305.2" y="329.76" font-size="9.6" text-anchor="end" font-weight="normal" fill="#222">0</text>
<line x1="310.6" y1="313.88" x2="313" y2="313.88" stroke="#222" stroke-width="1.1" />
<text x="310" y="318.14" font-size="9.6" text-anchor="end" font-weight="normal" fill="#222">10</text>
<line x1="310.6" y1="302.26" x2="313" y2="302.26" stroke="#222" stroke-width="1.1" />
<text x="310" y="306.52" font-size="9.6" text-anchor="end" font-weight="normal" fill="#222">20</text>
<line x1="310.6" y1="290.64" x2="313" y2="290.64" stroke="#222" stroke-width="1.1" />
<text x="310" y="294.9" font-size="9.6" text-anchor="end" font-weight="normal" fill="#222">30</text>
<line x1="310.6" y1="279.02" x2="313" y2="279.02" stroke="#222" stroke-width="1.1" />
<text x="310" y="283.28" font-size="9.6" text-anchor="end" font-weight="normal" fill="#222">40</text>
<line x1="310.6" y1="267.4" x2="313" y2="267.4" stroke="#222" stroke-width="1.1" />
<text x="310" y="271.66" font-size="9.6" text-anchor="end" font-weight="normal" fill="#222">50</text>
<line x1="313" y1="325.5" x2="313" y2="328.5" stroke="#222" stroke-width="1.1" />
<text x="313" y="337.76" font-size="9.6" text-anchor="middle" font-weight="normal" fill="#222">0.01</text>
<line x1="335.1" y1="325.5" x2="335.1" y2="328.5" stroke="#222" stroke-width="1.1" />
<text x="335.1" y="337.76" font-size="9.6" text-anchor="middle" font-weight="normal" fill="#222">0.1</text>
<line x1="357.2" y1="325.5" x2="357.2" y2="328.5" stroke="#222" stroke-width="1.1" />
<text x="357.2" y="337.76" font-size="9.6" text-anchor="middle" font-weight="normal" fill="#222">1</text>
<line x1="379.3" y1="325.5" x2="379.3" y2="328.5" stroke="#222" stroke-width="1.1" />
<text x="379.3" y="337.76" font-size="9.6" text-anchor="middle" font-weight="normal" fill="#222">10</text>
<line x1="401.4" y1="325.5" x2="401.4" y2="328.5" stroke="#222" stroke-width="1.1" />
<text x="401.4" y="337.76" font-size="9.6" text-anchor="middle" font-weight="normal" fill="#222">100</text>
<polyline fill="none" stroke="#a866d2" stroke-width="0.7" points="323.54,304.58 335.1,297.61 345.64,285.99 357.2,289.48 367.74,309.23 379.3,309.23"/>
<circle cx="323.54" cy="304.58" r="1.35" fill="#6a0f9f"/>
<circle cx="335.1" cy="297.61" r="1.35" fill="#6a0f9f"/>
<circle cx="345.64" cy="285.99" r="1.35" fill="#6a0f9f"/>
<circle cx="357.2" cy="289.48" r="1.35" fill="#6a0f9f"/>
<circle cx="367.74" cy="309.23" r="1.35" fill="#6a0f9f"/>
<circle cx="379.3" cy="309.23" r="1.35" fill="#6a0f9f"/>
<text x="365.7" y="258.18" font-size="9.4" text-anchor="start" font-weight="bold" fill="#222">Donor 6</text>
<text x="419.6" y="155.02" font-size="10.6" text-anchor="start" font-weight="bold" fill="#000">C</text>
<text x="535.9" y="151.68" font-size="11.9" text-anchor="middle" font-weight="normal" fill="#222">Immature</text>
<text x="675" y="151.68" font-size="11.9" text-anchor="middle" font-weight="normal" fill="#222">Mature</text>
<text x="439.76" y="185.5" font-size="9.6" text-anchor="middle" font-weight="normal" fill="#222" transform="rotate(-90 439.76 185.5)">Number of</text>
<text x="451.06" y="185" font-size="9.6" text-anchor="middle" font-weight="normal" fill="#222" transform="rotate(-90 451.06 185)">migrated cells</text>
<text x="461.96" y="186.5" font-size="9.6" text-anchor="middle" font-weight="normal" fill="#222" transform="rotate(-90 461.96 186.5)">(CD117<tspan font-size="6" dy="-3">+</tspan><tspan dy="3">)</tspan></text>
<line x1="485.9" y1="150.1" x2="485.9" y2="223.7" stroke="#222" stroke-width="1.5" />
<line x1="482.9" y1="221.2" x2="592.5" y2="221.2" stroke="#222" stroke-width="1.5" />
<line x1="482.9" y1="221.2" x2="485.9" y2="221.2" stroke="#222" stroke-width="1.1" />
<text x="478.2" y="225.49" font-size="9.7" text-anchor="end" font-weight="normal" fill="#222">0</text>
<line x1="482.9" y1="203.42" x2="485.9" y2="203.42" stroke="#222" stroke-width="1.1" />
<text x="482.6" y="207.72" font-size="9.7" text-anchor="end" font-weight="normal" fill="#222">100</text>
<line x1="482.9" y1="185.65" x2="485.9" y2="185.65" stroke="#222" stroke-width="1.1" />
<text x="482.6" y="189.94" font-size="9.7" text-anchor="end" font-weight="normal" fill="#222">200</text>
<line x1="482.9" y1="167.88" x2="485.9" y2="167.88" stroke="#222" stroke-width="1.1" />
<text x="482.6" y="172.17" font-size="9.7" text-anchor="end" font-weight="normal" fill="#222">300</text>
<line x1="482.9" y1="150.1" x2="485.9" y2="150.1" stroke="#222" stroke-width="1.1" />
<text x="482.6" y="154.39" font-size="9.7" text-anchor="end" font-weight="normal" fill="#222">400</text>
<line x1="485.9" y1="221.2" x2="485.9" y2="224.2" stroke="#222" stroke-width="1.1" />
<text x="485.9" y="234.86" font-size="9.6" text-anchor="middle" font-weight="normal" fill="#222">0.01</text>
<line x1="512.55" y1="221.2" x2="512.55" y2="224.2" stroke="#222" stroke-width="1.1" />
<text x="512.55" y="234.86" font-size="9.6" text-anchor="middle" font-weight="normal" fill="#222">0.1</text>
<line x1="539.2" y1="221.2" x2="539.2" y2="224.2" stroke="#222" stroke-width="1.1" />
<text x="539.2" y="234.86" font-size="9.6" text-anchor="middle" font-weight="normal" fill="#222">1</text>
<line x1="565.85" y1="221.2" x2="565.85" y2="224.2" stroke="#222" stroke-width="1.1" />
<text x="565.85" y="234.86" font-size="9.6" text-anchor="middle" font-weight="normal" fill="#222">10</text>
<line x1="592.5" y1="221.2" x2="592.5" y2="224.2" stroke="#222" stroke-width="1.1" />
<text x="592.5" y="234.86" font-size="9.6" text-anchor="middle" font-weight="normal" fill="#222">100</text>
<polyline fill="none" stroke="#b58ed6" stroke-width="0.65" points="498.62,216.76 512.55,214.45 525.27,211.42 539.2,210.18 551.92,208.76 565.85,203.96"/>
<polyline fill="none" stroke="#8237bb" stroke-width="0.65" points="498.62,216.22 512.55,213.2 525.27,192.76 539.2,162.54 551.92,192.76 565.85,191.87"/>
<rect x="497.22" y="215.36" width="2.8" height="2.8" fill="#a878cf"/>
<rect x="511.15" y="213.05" width="2.8" height="2.8" fill="#a878cf"/>
<rect x="523.87" y="210.02" width="2.8" height="2.8" fill="#a878cf"/>
<rect x="537.8" y="208.78" width="2.8" height="2.8" fill="#a878cf"/>
<rect x="550.52" y="207.36" width="2.8" height="2.8" fill="#a878cf"/>
<rect x="564.45" y="202.56" width="2.8" height="2.8" fill="#a878cf"/>
<circle cx="498.62" cy="216.22" r="1.6" fill="#6b14a3"/>
<circle cx="512.55" cy="213.2" r="1.6" fill="#6b14a3"/>
<circle cx="525.27" cy="192.76" r="1.6" fill="#6b14a3"/>
<circle cx="539.2" cy="162.54" r="1.6" fill="#6b14a3"/>
<circle cx="551.92" cy="192.76" r="1.6" fill="#6b14a3"/>
<circle cx="565.85" cy="191.87" r="1.6" fill="#6b14a3"/>
<line x1="627.4" y1="149.6" x2="627.4" y2="223.5" stroke="#222" stroke-width="1.5" />
<line x1="624.4" y1="221" x2="733.8" y2="221" stroke="#222" stroke-width="1.5" />
<line x1="624.4" y1="221" x2="627.4" y2="221" stroke="#222" stroke-width="1.1" />
<text x="619.7" y="225.29" font-size="9.7" text-anchor="end" font-weight="normal" fill="#222">0</text>
<line x1="624.4" y1="206.72" x2="627.4" y2="206.72" stroke="#222" stroke-width="1.1" />
<text x="624.1" y="211.01" font-size="9.7" text-anchor="end" font-weight="normal" fill="#222">10</text>
<line x1="624.4" y1="192.44" x2="627.4" y2="192.44" stroke="#222" stroke-width="1.1" />
<text x="624.1" y="196.73" font-size="9.7" text-anchor="end" font-weight="normal" fill="#222">20</text>
<line x1="624.4" y1="178.16" x2="627.4" y2="178.16" stroke="#222" stroke-width="1.1" />
<text x="624.1" y="182.45" font-size="9.7" text-anchor="end" font-weight="normal" fill="#222">30</text>
<line x1="624.4" y1="163.88" x2="627.4" y2="163.88" stroke="#222" stroke-width="1.1" />
<text x="624.1" y="168.17" font-size="9.7" text-anchor="end" font-weight="normal" fill="#222">40</text>
<line x1="624.4" y1="149.6" x2="627.4" y2="149.6" stroke="#222" stroke-width="1.1" />
<text x="624.1" y="153.89" font-size="9.7" text-anchor="end" font-weight="normal" fill="#222">50</text>
<line x1="627.4" y1="221" x2="627.4" y2="224" stroke="#222" stroke-width="1.1" />
<text x="627.4" y="234.86" font-size="9.6" text-anchor="middle" font-weight="normal" fill="#222">0.01</text>
<line x1="654" y1="221" x2="654" y2="224" stroke="#222" stroke-width="1.1" />
<text x="654" y="234.86" font-size="9.6" text-anchor="middle" font-weight="normal" fill="#222">0.1</text>
<line x1="680.6" y1="221" x2="680.6" y2="224" stroke="#222" stroke-width="1.1" />
<text x="680.6" y="234.86" font-size="9.6" text-anchor="middle" font-weight="normal" fill="#222">1</text>
<line x1="707.2" y1="221" x2="707.2" y2="224" stroke="#222" stroke-width="1.1" />
<text x="707.2" y="234.86" font-size="9.6" text-anchor="middle" font-weight="normal" fill="#222">10</text>
<line x1="733.8" y1="221" x2="733.8" y2="224" stroke="#222" stroke-width="1.1" />
<text x="733.8" y="234.86" font-size="9.6" text-anchor="middle" font-weight="normal" fill="#222">100</text>
<polyline fill="none" stroke="#b58ed6" stroke-width="0.65" points="640.09,198.15 654,216.72 666.69,183.87 680.6,189.58 693.29,162.45 707.2,186.73"/>
<polyline fill="none" stroke="#8237bb" stroke-width="0.65" points="640.09,195.3 654,186.73 666.69,172.45 680.6,176.73 693.29,201.01 707.2,201.01"/>
<rect x="638.69" y="196.75" width="2.8" height="2.8" fill="#a878cf"/>
<rect x="652.6" y="215.32" width="2.8" height="2.8" fill="#a878cf"/>
<rect x="665.29" y="182.47" width="2.8" height="2.8" fill="#a878cf"/>
<rect x="679.2" y="188.18" width="2.8" height="2.8" fill="#a878cf"/>
<rect x="691.89" y="161.05" width="2.8" height="2.8" fill="#a878cf"/>
<rect x="705.8" y="185.33" width="2.8" height="2.8" fill="#a878cf"/>
<circle cx="640.09" cy="195.3" r="1.6" fill="#6b14a3"/>
<circle cx="654" cy="186.73" r="1.6" fill="#6b14a3"/>
<circle cx="666.69" cy="172.45" r="1.6" fill="#6b14a3"/>
<circle cx="680.6" cy="176.73" r="1.6" fill="#6b14a3"/>
<circle cx="693.29" cy="201.01" r="1.6" fill="#6b14a3"/>
<circle cx="707.2" cy="201.01" r="1.6" fill="#6b14a3"/>
<line x1="485.2" y1="255.6" x2="485.2" y2="328.8" stroke="#222" stroke-width="1.5" />
<line x1="482.2" y1="326.3" x2="591" y2="326.3" stroke="#222" stroke-width="1.5" />
<line x1="482.2" y1="326.3" x2="485.2" y2="326.3" stroke="#222" stroke-width="1.1" />
<text x="477.5" y="328.99" font-size="9.7" text-anchor="end" font-weight="normal" fill="#222">0</text>
<line x1="482.2" y1="294.3" x2="485.2" y2="294.3" stroke="#222" stroke-width="1.1" />
<text x="481.9" y="297.99" font-size="9.7" text-anchor="end" font-weight="normal" fill="#222">50</text>
<line x1="482.2" y1="262.3" x2="485.2" y2="262.3" stroke="#222" stroke-width="1.1" />
<text x="481.9" y="265.99" font-size="9.7" text-anchor="end" font-weight="normal" fill="#222">100</text>
<line x1="483.3" y1="325.02" x2="485.2" y2="325.02" stroke="#111" stroke-width="0.75" />
<line x1="483.3" y1="323.74" x2="485.2" y2="323.74" stroke="#111" stroke-width="0.75" />
<line x1="483.3" y1="322.46" x2="485.2" y2="322.46" stroke="#111" stroke-width="0.75" />
<line x1="483.3" y1="321.18" x2="485.2" y2="321.18" stroke="#111" stroke-width="0.75" />
<line x1="483.3" y1="319.9" x2="485.2" y2="319.9" stroke="#111" stroke-width="0.75" />
<line x1="483.3" y1="318.62" x2="485.2" y2="318.62" stroke="#111" stroke-width="0.75" />
<line x1="483.3" y1="317.34" x2="485.2" y2="317.34" stroke="#111" stroke-width="0.75" />
<line x1="483.3" y1="316.06" x2="485.2" y2="316.06" stroke="#111" stroke-width="0.75" />
<line x1="483.3" y1="314.78" x2="485.2" y2="314.78" stroke="#111" stroke-width="0.75" />
<line x1="483.3" y1="313.5" x2="485.2" y2="313.5" stroke="#111" stroke-width="0.75" />
<line x1="483.3" y1="312.22" x2="485.2" y2="312.22" stroke="#111" stroke-width="0.75" />
<line x1="483.3" y1="310.94" x2="485.2" y2="310.94" stroke="#111" stroke-width="0.75" />
<line x1="483.3" y1="309.66" x2="485.2" y2="309.66" stroke="#111" stroke-width="0.75" />
<line x1="483.3" y1="308.38" x2="485.2" y2="308.38" stroke="#111" stroke-width="0.75" />
<line x1="483.3" y1="307.1" x2="485.2" y2="307.1" stroke="#111" stroke-width="0.75" />
<line x1="483.3" y1="305.82" x2="485.2" y2="305.82" stroke="#111" stroke-width="0.75" />
<line x1="483.3" y1="304.54" x2="485.2" y2="304.54" stroke="#111" stroke-width="0.75" />
<line x1="483.3" y1="303.26" x2="485.2" y2="303.26" stroke="#111" stroke-width="0.75" />
<line x1="483.3" y1="301.98" x2="485.2" y2="301.98" stroke="#111" stroke-width="0.75" />
<line x1="483.3" y1="300.7" x2="485.2" y2="300.7" stroke="#111" stroke-width="0.75" />
<line x1="483.3" y1="299.42" x2="485.2" y2="299.42" stroke="#111" stroke-width="0.75" />
<line x1="483.3" y1="298.14" x2="485.2" y2="298.14" stroke="#111" stroke-width="0.75" />
<line x1="483.3" y1="296.86" x2="485.2" y2="296.86" stroke="#111" stroke-width="0.75" />
<line x1="483.3" y1="295.58" x2="485.2" y2="295.58" stroke="#111" stroke-width="0.75" />
<line x1="483.3" y1="293.02" x2="485.2" y2="293.02" stroke="#111" stroke-width="0.75" />
<line x1="483.3" y1="291.74" x2="485.2" y2="291.74" stroke="#111" stroke-width="0.75" />
<line x1="483.3" y1="290.46" x2="485.2" y2="290.46" stroke="#111" stroke-width="0.75" />
<line x1="483.3" y1="289.18" x2="485.2" y2="289.18" stroke="#111" stroke-width="0.75" />
<line x1="483.3" y1="287.9" x2="485.2" y2="287.9" stroke="#111" stroke-width="0.75" />
<line x1="483.3" y1="286.62" x2="485.2" y2="286.62" stroke="#111" stroke-width="0.75" />
<line x1="483.3" y1="285.34" x2="485.2" y2="285.34" stroke="#111" stroke-width="0.75" />
<line x1="483.3" y1="284.06" x2="485.2" y2="284.06" stroke="#111" stroke-width="0.75" />
<line x1="483.3" y1="282.78" x2="485.2" y2="282.78" stroke="#111" stroke-width="0.75" />
<line x1="483.3" y1="281.5" x2="485.2" y2="281.5" stroke="#111" stroke-width="0.75" />
<line x1="483.3" y1="280.22" x2="485.2" y2="280.22" stroke="#111" stroke-width="0.75" />
<line x1="483.3" y1="278.94" x2="485.2" y2="278.94" stroke="#111" stroke-width="0.75" />
<line x1="483.3" y1="277.66" x2="485.2" y2="277.66" stroke="#111" stroke-width="0.75" />
<line x1="483.3" y1="276.38" x2="485.2" y2="276.38" stroke="#111" stroke-width="0.75" />
<line x1="483.3" y1="275.1" x2="485.2" y2="275.1" stroke="#111" stroke-width="0.75" />
<line x1="483.3" y1="273.82" x2="485.2" y2="273.82" stroke="#111" stroke-width="0.75" />
<line x1="483.3" y1="272.54" x2="485.2" y2="272.54" stroke="#111" stroke-width="0.75" />
<line x1="483.3" y1="271.26" x2="485.2" y2="271.26" stroke="#111" stroke-width="0.75" />
<line x1="483.3" y1="269.98" x2="485.2" y2="269.98" stroke="#111" stroke-width="0.75" />
<line x1="483.3" y1="268.7" x2="485.2" y2="268.7" stroke="#111" stroke-width="0.75" />
<line x1="483.3" y1="267.42" x2="485.2" y2="267.42" stroke="#111" stroke-width="0.75" />
<line x1="483.3" y1="266.14" x2="485.2" y2="266.14" stroke="#111" stroke-width="0.75" />
<line x1="483.3" y1="264.86" x2="485.2" y2="264.86" stroke="#111" stroke-width="0.75" />
<line x1="483.3" y1="263.58" x2="485.2" y2="263.58" stroke="#111" stroke-width="0.75" />
<line x1="483.3" y1="261.02" x2="485.2" y2="261.02" stroke="#111" stroke-width="0.75" />
<line x1="483.3" y1="259.74" x2="485.2" y2="259.74" stroke="#111" stroke-width="0.75" />
<line x1="483.3" y1="258.46" x2="485.2" y2="258.46" stroke="#111" stroke-width="0.75" />
<line x1="483.3" y1="257.18" x2="485.2" y2="257.18" stroke="#111" stroke-width="0.75" />
<line x1="483.3" y1="255.9" x2="485.2" y2="255.9" stroke="#111" stroke-width="0.75" />
<line x1="485.2" y1="326.3" x2="485.2" y2="329.3" stroke="#222" stroke-width="1.1" />
<text x="485.2" y="338.26" font-size="9.6" text-anchor="middle" font-weight="normal" fill="#222">0.01</text>
<line x1="511.65" y1="326.3" x2="511.65" y2="329.3" stroke="#222" stroke-width="1.1" />
<text x="511.65" y="338.26" font-size="9.6" text-anchor="middle" font-weight="normal" fill="#222">0.1</text>
<line x1="538.1" y1="326.3" x2="538.1" y2="329.3" stroke="#222" stroke-width="1.1" />
<text x="538.1" y="338.26" font-size="9.6" text-anchor="middle" font-weight="normal" fill="#222">1</text>
<line x1="564.55" y1="326.3" x2="564.55" y2="329.3" stroke="#222" stroke-width="1.1" />
<text x="564.55" y="338.26" font-size="9.6" text-anchor="middle" font-weight="normal" fill="#222">10</text>
<line x1="591" y1="326.3" x2="591" y2="329.3" stroke="#222" stroke-width="1.1" />
<text x="591" y="338.26" font-size="9.6" text-anchor="middle" font-weight="normal" fill="#222">100</text>
<line x1="497.82" y1="313.5" x2="497.82" y2="294.3" stroke="#a877cc" stroke-width="0.7" />
<line x1="496.32" y1="294.3" x2="499.32" y2="294.3" stroke="#a877cc" stroke-width="0.7" />
<line x1="496.32" y1="313.5" x2="499.32" y2="313.5" stroke="#a877cc" stroke-width="0.7" />
<line x1="511.65" y1="309.66" x2="511.65" y2="298.14" stroke="#a877cc" stroke-width="0.7" />
<line x1="510.15" y1="298.14" x2="513.15" y2="298.14" stroke="#a877cc" stroke-width="0.7" />
<line x1="510.15" y1="309.66" x2="513.15" y2="309.66" stroke="#a877cc" stroke-width="0.7" />
<line x1="524.27" y1="295.58" x2="524.27" y2="287.9" stroke="#a877cc" stroke-width="0.7" />
<line x1="522.77" y1="287.9" x2="525.77" y2="287.9" stroke="#a877cc" stroke-width="0.7" />
<line x1="522.77" y1="295.58" x2="525.77" y2="295.58" stroke="#a877cc" stroke-width="0.7" />
<line x1="538.1" y1="268.7" x2="538.1" y2="264.22" stroke="#a877cc" stroke-width="0.7" />
<line x1="536.6" y1="264.22" x2="539.6" y2="264.22" stroke="#a877cc" stroke-width="0.7" />
<line x1="536.6" y1="268.7" x2="539.6" y2="268.7" stroke="#a877cc" stroke-width="0.7" />
<line x1="550.72" y1="281.5" x2="550.72" y2="268.7" stroke="#a877cc" stroke-width="0.7" />
<line x1="549.22" y1="268.7" x2="552.22" y2="268.7" stroke="#a877cc" stroke-width="0.7" />
<line x1="549.22" y1="281.5" x2="552.22" y2="281.5" stroke="#a877cc" stroke-width="0.7" />
<line x1="564.55" y1="299.42" x2="564.55" y2="283.42" stroke="#a877cc" stroke-width="0.7" />
<line x1="563.05" y1="283.42" x2="566.05" y2="283.42" stroke="#a877cc" stroke-width="0.7" />
<line x1="563.05" y1="299.42" x2="566.05" y2="299.42" stroke="#a877cc" stroke-width="0.7" />
<line x1="497.82" y1="313.5" x2="497.82" y2="301.98" stroke="#d2b6e4" stroke-width="0.7" />
<line x1="496.32" y1="301.98" x2="499.32" y2="301.98" stroke="#d2b6e4" stroke-width="0.7" />
<line x1="496.32" y1="313.5" x2="499.32" y2="313.5" stroke="#d2b6e4" stroke-width="0.7" />
<line x1="511.65" y1="310.94" x2="511.65" y2="301.98" stroke="#d2b6e4" stroke-width="0.7" />
<line x1="510.15" y1="301.98" x2="513.15" y2="301.98" stroke="#d2b6e4" stroke-width="0.7" />
<line x1="510.15" y1="310.94" x2="513.15" y2="310.94" stroke="#d2b6e4" stroke-width="0.7" />
<line x1="524.27" y1="308.38" x2="524.27" y2="294.3" stroke="#d2b6e4" stroke-width="0.7" />
<line x1="522.77" y1="294.3" x2="525.77" y2="294.3" stroke="#d2b6e4" stroke-width="0.7" />
<line x1="522.77" y1="308.38" x2="525.77" y2="308.38" stroke="#d2b6e4" stroke-width="0.7" />
<line x1="538.1" y1="307.1" x2="538.1" y2="291.1" stroke="#d2b6e4" stroke-width="0.7" />
<line x1="536.6" y1="291.1" x2="539.6" y2="291.1" stroke="#d2b6e4" stroke-width="0.7" />
<line x1="536.6" y1="307.1" x2="539.6" y2="307.1" stroke="#d2b6e4" stroke-width="0.7" />
<line x1="550.72" y1="314.78" x2="550.72" y2="307.1" stroke="#d2b6e4" stroke-width="0.7" />
<line x1="549.22" y1="307.1" x2="552.22" y2="307.1" stroke="#d2b6e4" stroke-width="0.7" />
<line x1="549.22" y1="314.78" x2="552.22" y2="314.78" stroke="#d2b6e4" stroke-width="0.7" />
<line x1="564.55" y1="308.38" x2="564.55" y2="292.38" stroke="#d2b6e4" stroke-width="0.7" />
<line x1="563.05" y1="292.38" x2="566.05" y2="292.38" stroke="#d2b6e4" stroke-width="0.7" />
<line x1="563.05" y1="308.38" x2="566.05" y2="308.38" stroke="#d2b6e4" stroke-width="0.7" />
<polyline fill="none" stroke="#b58ed6" stroke-width="0.65" points="497.82,308.38 511.65,305.18 524.27,301.98 538.1,299.42 550.72,311.58 564.55,300.06"/>
<polyline fill="none" stroke="#8237bb" stroke-width="0.65" points="497.82,303.9 511.65,303.26 524.27,295.58 538.1,266.14 550.72,275.1 564.55,291.1"/>
<rect x="496.42" y="306.98" width="2.8" height="2.8" fill="#a878cf"/>
<rect x="510.25" y="303.78" width="2.8" height="2.8" fill="#a878cf"/>
<rect x="522.87" y="300.58" width="2.8" height="2.8" fill="#a878cf"/>
<rect x="536.7" y="298.02" width="2.8" height="2.8" fill="#a878cf"/>
<rect x="549.32" y="310.18" width="2.8" height="2.8" fill="#a878cf"/>
<rect x="563.15" y="298.66" width="2.8" height="2.8" fill="#a878cf"/>
<circle cx="497.82" cy="303.9" r="1.6" fill="#6b14a3"/>
<circle cx="511.65" cy="303.26" r="1.6" fill="#6b14a3"/>
<circle cx="524.27" cy="295.58" r="1.6" fill="#6b14a3"/>
<circle cx="538.1" cy="266.14" r="1.6" fill="#6b14a3"/>
<circle cx="550.72" cy="275.1" r="1.6" fill="#6b14a3"/>
<circle cx="564.55" cy="291.1" r="1.6" fill="#6b14a3"/>
<line x1="625.4" y1="255.6" x2="625.4" y2="328.9" stroke="#222" stroke-width="1.5" />
<line x1="622.4" y1="326.4" x2="731.1" y2="326.4" stroke="#222" stroke-width="1.5" />
<line x1="622.4" y1="326.4" x2="625.4" y2="326.4" stroke="#222" stroke-width="1.1" />
<text x="617.7" y="329.09" font-size="9.7" text-anchor="end" font-weight="normal" fill="#222">0</text>
<line x1="622.4" y1="294.1" x2="625.4" y2="294.1" stroke="#222" stroke-width="1.1" />
<text x="622.1" y="297.79" font-size="9.7" text-anchor="end" font-weight="normal" fill="#222">50</text>
<line x1="622.4" y1="261.8" x2="625.4" y2="261.8" stroke="#222" stroke-width="1.1" />
<text x="622.1" y="265.49" font-size="9.7" text-anchor="end" font-weight="normal" fill="#222">100</text>
<line x1="623.5" y1="325.11" x2="625.4" y2="325.11" stroke="#111" stroke-width="0.75" />
<line x1="623.5" y1="323.82" x2="625.4" y2="323.82" stroke="#111" stroke-width="0.75" />
<line x1="623.5" y1="322.52" x2="625.4" y2="322.52" stroke="#111" stroke-width="0.75" />
<line x1="623.5" y1="321.23" x2="625.4" y2="321.23" stroke="#111" stroke-width="0.75" />
<line x1="623.5" y1="319.94" x2="625.4" y2="319.94" stroke="#111" stroke-width="0.75" />
<line x1="623.5" y1="318.65" x2="625.4" y2="318.65" stroke="#111" stroke-width="0.75" />
<line x1="623.5" y1="317.36" x2="625.4" y2="317.36" stroke="#111" stroke-width="0.75" />
<line x1="623.5" y1="316.06" x2="625.4" y2="316.06" stroke="#111" stroke-width="0.75" />
<line x1="623.5" y1="314.77" x2="625.4" y2="314.77" stroke="#111" stroke-width="0.75" />
<line x1="623.5" y1="313.48" x2="625.4" y2="313.48" stroke="#111" stroke-width="0.75" />
<line x1="623.5" y1="312.19" x2="625.4" y2="312.19" stroke="#111" stroke-width="0.75" />
<line x1="623.5" y1="310.9" x2="625.4" y2="310.9" stroke="#111" stroke-width="0.75" />
<line x1="623.5" y1="309.6" x2="625.4" y2="309.6" stroke="#111" stroke-width="0.75" />
<line x1="623.5" y1="308.31" x2="625.4" y2="308.31" stroke="#111" stroke-width="0.75" />
<line x1="623.5" y1="307.02" x2="625.4" y2="307.02" stroke="#111" stroke-width="0.75" />
<line x1="623.5" y1="305.73" x2="625.4" y2="305.73" stroke="#111" stroke-width="0.75" />
<line x1="623.5" y1="304.44" x2="625.4" y2="304.44" stroke="#111" stroke-width="0.75" />
<line x1="623.5" y1="303.14" x2="625.4" y2="303.14" stroke="#111" stroke-width="0.75" />
<line x1="623.5" y1="301.85" x2="625.4" y2="301.85" stroke="#111" stroke-width="0.75" />
<line x1="623.5" y1="300.56" x2="625.4" y2="300.56" stroke="#111" stroke-width="0.75" />
<line x1="623.5" y1="299.27" x2="625.4" y2="299.27" stroke="#111" stroke-width="0.75" />
<line x1="623.5" y1="297.98" x2="625.4" y2="297.98" stroke="#111" stroke-width="0.75" />
<line x1="623.5" y1="296.68" x2="625.4" y2="296.68" stroke="#111" stroke-width="0.75" />
<line x1="623.5" y1="295.39" x2="625.4" y2="295.39" stroke="#111" stroke-width="0.75" />
<line x1="623.5" y1="292.81" x2="625.4" y2="292.81" stroke="#111" stroke-width="0.75" />
<line x1="623.5" y1="291.52" x2="625.4" y2="291.52" stroke="#111" stroke-width="0.75" />
<line x1="623.5" y1="290.22" x2="625.4" y2="290.22" stroke="#111" stroke-width="0.75" />
<line x1="623.5" y1="288.93" x2="625.4" y2="288.93" stroke="#111" stroke-width="0.75" />
<line x1="623.5" y1="287.64" x2="625.4" y2="287.64" stroke="#111" stroke-width="0.75" />
<line x1="623.5" y1="286.35" x2="625.4" y2="286.35" stroke="#111" stroke-width="0.75" />
<line x1="623.5" y1="285.06" x2="625.4" y2="285.06" stroke="#111" stroke-width="0.75" />
<line x1="623.5" y1="283.76" x2="625.4" y2="283.76" stroke="#111" stroke-width="0.75" />
<line x1="623.5" y1="282.47" x2="625.4" y2="282.47" stroke="#111" stroke-width="0.75" />
<line x1="623.5" y1="281.18" x2="625.4" y2="281.18" stroke="#111" stroke-width="0.75" />
<line x1="623.5" y1="279.89" x2="625.4" y2="279.89" stroke="#111" stroke-width="0.75" />
<line x1="623.5" y1="278.6" x2="625.4" y2="278.6" stroke="#111" stroke-width="0.75" />
<line x1="623.5" y1="277.3" x2="625.4" y2="277.3" stroke="#111" stroke-width="0.75" />
<line x1="623.5" y1="276.01" x2="625.4" y2="276.01" stroke="#111" stroke-width="0.75" />
<line x1="623.5" y1="274.72" x2="625.4" y2="274.72" stroke="#111" stroke-width="0.75" />
<line x1="623.5" y1="273.43" x2="625.4" y2="273.43" stroke="#111" stroke-width="0.75" />
<line x1="623.5" y1="272.14" x2="625.4" y2="272.14" stroke="#111" stroke-width="0.75" />
<line x1="623.5" y1="270.84" x2="625.4" y2="270.84" stroke="#111" stroke-width="0.75" />
<line x1="623.5" y1="269.55" x2="625.4" y2="269.55" stroke="#111" stroke-width="0.75" />
<line x1="623.5" y1="268.26" x2="625.4" y2="268.26" stroke="#111" stroke-width="0.75" />
<line x1="623.5" y1="266.97" x2="625.4" y2="266.97" stroke="#111" stroke-width="0.75" />
<line x1="623.5" y1="265.68" x2="625.4" y2="265.68" stroke="#111" stroke-width="0.75" />
<line x1="623.5" y1="264.38" x2="625.4" y2="264.38" stroke="#111" stroke-width="0.75" />
<line x1="623.5" y1="263.09" x2="625.4" y2="263.09" stroke="#111" stroke-width="0.75" />
<line x1="623.5" y1="260.51" x2="625.4" y2="260.51" stroke="#111" stroke-width="0.75" />
<line x1="623.5" y1="259.22" x2="625.4" y2="259.22" stroke="#111" stroke-width="0.75" />
<line x1="623.5" y1="257.92" x2="625.4" y2="257.92" stroke="#111" stroke-width="0.75" />
<line x1="623.5" y1="256.63" x2="625.4" y2="256.63" stroke="#111" stroke-width="0.75" />
<line x1="623.5" y1="255.34" x2="625.4" y2="255.34" stroke="#111" stroke-width="0.75" />
<line x1="625.4" y1="326.4" x2="625.4" y2="329.4" stroke="#222" stroke-width="1.1" />
<text x="625.4" y="338.26" font-size="9.6" text-anchor="middle" font-weight="normal" fill="#222">0.01</text>
<line x1="651.83" y1="326.4" x2="651.83" y2="329.4" stroke="#222" stroke-width="1.1" />
<text x="651.83" y="338.26" font-size="9.6" text-anchor="middle" font-weight="normal" fill="#222">0.1</text>
<line x1="678.25" y1="326.4" x2="678.25" y2="329.4" stroke="#222" stroke-width="1.1" />
<text x="678.25" y="338.26" font-size="9.6" text-anchor="middle" font-weight="normal" fill="#222">1</text>
<line x1="704.67" y1="326.4" x2="704.67" y2="329.4" stroke="#222" stroke-width="1.1" />
<text x="704.67" y="338.26" font-size="9.6" text-anchor="middle" font-weight="normal" fill="#222">10</text>
<line x1="731.1" y1="326.4" x2="731.1" y2="329.4" stroke="#222" stroke-width="1.1" />
<text x="731.1" y="338.26" font-size="9.6" text-anchor="middle" font-weight="normal" fill="#222">100</text>
<line x1="638.01" y1="303.14" x2="638.01" y2="281.18" stroke="#a877cc" stroke-width="0.7" />
<line x1="636.51" y1="281.18" x2="639.51" y2="281.18" stroke="#a877cc" stroke-width="0.7" />
<line x1="636.51" y1="303.14" x2="639.51" y2="303.14" stroke="#a877cc" stroke-width="0.7" />
<line x1="651.83" y1="294.1" x2="651.83" y2="281.18" stroke="#a877cc" stroke-width="0.7" />
<line x1="650.33" y1="281.18" x2="653.33" y2="281.18" stroke="#a877cc" stroke-width="0.7" />
<line x1="650.33" y1="294.1" x2="653.33" y2="294.1" stroke="#a877cc" stroke-width="0.7" />
<line x1="664.43" y1="292.81" x2="664.43" y2="273.43" stroke="#a877cc" stroke-width="0.7" />
<line x1="662.93" y1="273.43" x2="665.93" y2="273.43" stroke="#a877cc" stroke-width="0.7" />
<line x1="662.93" y1="292.81" x2="665.93" y2="292.81" stroke="#a877cc" stroke-width="0.7" />
<line x1="678.25" y1="306.37" x2="678.25" y2="285.06" stroke="#a877cc" stroke-width="0.7" />
<line x1="676.75" y1="285.06" x2="679.75" y2="285.06" stroke="#a877cc" stroke-width="0.7" />
<line x1="676.75" y1="306.37" x2="679.75" y2="306.37" stroke="#a877cc" stroke-width="0.7" />
<line x1="690.86" y1="303.14" x2="690.86" y2="276.01" stroke="#a877cc" stroke-width="0.7" />
<line x1="689.36" y1="276.01" x2="692.36" y2="276.01" stroke="#a877cc" stroke-width="0.7" />
<line x1="689.36" y1="303.14" x2="692.36" y2="303.14" stroke="#a877cc" stroke-width="0.7" />
<line x1="704.67" y1="290.87" x2="704.67" y2="269.55" stroke="#a877cc" stroke-width="0.7" />
<line x1="703.17" y1="269.55" x2="706.17" y2="269.55" stroke="#a877cc" stroke-width="0.7" />
<line x1="703.17" y1="290.87" x2="706.17" y2="290.87" stroke="#a877cc" stroke-width="0.7" />
<line x1="638.01" y1="320.59" x2="638.01" y2="306.37" stroke="#d2b6e4" stroke-width="0.7" />
<line x1="636.51" y1="306.37" x2="639.51" y2="306.37" stroke="#d2b6e4" stroke-width="0.7" />
<line x1="636.51" y1="320.59" x2="639.51" y2="320.59" stroke="#d2b6e4" stroke-width="0.7" />
<line x1="651.83" y1="319.94" x2="651.83" y2="310.25" stroke="#d2b6e4" stroke-width="0.7" />
<line x1="650.33" y1="310.25" x2="653.33" y2="310.25" stroke="#d2b6e4" stroke-width="0.7" />
<line x1="650.33" y1="319.94" x2="653.33" y2="319.94" stroke="#d2b6e4" stroke-width="0.7" />
<line x1="664.43" y1="318" x2="664.43" y2="296.04" stroke="#d2b6e4" stroke-width="0.7" />
<line x1="662.93" y1="296.04" x2="665.93" y2="296.04" stroke="#d2b6e4" stroke-width="0.7" />
<line x1="662.93" y1="318" x2="665.93" y2="318" stroke="#d2b6e4" stroke-width="0.7" />
<line x1="678.25" y1="316.71" x2="678.25" y2="298.62" stroke="#d2b6e4" stroke-width="0.7" />
<line x1="676.75" y1="298.62" x2="679.75" y2="298.62" stroke="#d2b6e4" stroke-width="0.7" />
<line x1="676.75" y1="316.71" x2="679.75" y2="316.71" stroke="#d2b6e4" stroke-width="0.7" />
<line x1="690.86" y1="303.79" x2="690.86" y2="292.16" stroke="#d2b6e4" stroke-width="0.7" />
<line x1="689.36" y1="292.16" x2="692.36" y2="292.16" stroke="#d2b6e4" stroke-width="0.7" />
<line x1="689.36" y1="303.79" x2="692.36" y2="303.79" stroke="#d2b6e4" stroke-width="0.7" />
<line x1="704.67" y1="297.33" x2="704.67" y2="271.49" stroke="#d2b6e4" stroke-width="0.7" />
<line x1="703.17" y1="271.49" x2="706.17" y2="271.49" stroke="#d2b6e4" stroke-width="0.7" />
<line x1="703.17" y1="297.33" x2="706.17" y2="297.33" stroke="#d2b6e4" stroke-width="0.7" />
<polyline fill="none" stroke="#b58ed6" stroke-width="0.65" points="638.01,313.48 651.83,315.42 664.43,307.02 678.25,307.02 690.86,296.04 704.67,283.12"/>
<polyline fill="none" stroke="#8237bb" stroke-width="0.65" points="638.01,292.16 651.83,287.64 664.43,283.76 678.25,296.04 690.86,289.58 704.67,280.53"/>
<rect x="636.61" y="312.08" width="2.8" height="2.8" fill="#a878cf"/>
<rect x="650.43" y="314.02" width="2.8" height="2.8" fill="#a878cf"/>
<rect x="663.03" y="305.62" width="2.8" height="2.8" fill="#a878cf"/>
<rect x="676.85" y="305.62" width="2.8" height="2.8" fill="#a878cf"/>
<rect x="689.46" y="294.64" width="2.8" height="2.8" fill="#a878cf"/>
<rect x="703.27" y="281.72" width="2.8" height="2.8" fill="#a878cf"/>
<circle cx="638.01" cy="292.16" r="1.6" fill="#6b14a3"/>
<circle cx="651.83" cy="287.64" r="1.6" fill="#6b14a3"/>
<circle cx="664.43" cy="283.76" r="1.6" fill="#6b14a3"/>
<circle cx="678.25" cy="296.04" r="1.6" fill="#6b14a3"/>
<circle cx="690.86" cy="289.58" r="1.6" fill="#6b14a3"/>
<circle cx="704.67" cy="280.53" r="1.6" fill="#6b14a3"/>
<text x="441.35" y="294" font-size="9.3" text-anchor="middle" font-weight="normal" fill="#222" transform="rotate(-90 441.35 294)">Migrated cells</text>
<text x="449.45" y="293.6" font-size="9.3" text-anchor="middle" font-weight="normal" fill="#222" transform="rotate(-90 449.45 293.6)">(% of maximum CD117<tspan font-size="6" dy="-3">+</tspan><tspan dy="3">)</tspan></text>
<text x="538" y="263.1" font-size="8" font-weight="bold" text-anchor="middle" fill="#111">**</text>
<text x="550.7" y="267.2" font-size="8" font-weight="bold" text-anchor="middle" fill="#111">**</text>
<text x="543.7" y="350.49" font-size="9.7" text-anchor="middle" font-weight="normal" fill="#222">[SP] uM</text>
<text x="686.2" y="350.99" font-size="9.7" text-anchor="middle" font-weight="normal" fill="#222">[SP] uM</text>
<line x1="506.4" y1="362.6" x2="520.9" y2="362.6" stroke="#6b14a3" stroke-width="1.0" />
<circle cx="513.5" cy="362.6" r="2.6" fill="#6b14a3"/>
<text x="529.8" y="365.55" font-size="9.3" text-anchor="start" font-weight="normal" fill="#222">Control</text>
<line x1="585.7" y1="361.3" x2="600.6" y2="361.3" stroke="#a878cf" stroke-width="1.0" />
<rect x="590.8" y="358.8" width="5.0" height="5.0" fill="#a878cf"/>
<text x="608.9" y="364.96" font-size="9.6" text-anchor="start" font-weight="normal" fill="#222">Compound A (10μM)</text>
<text x="0.5" y="386.67" font-size="10.6" text-anchor="start" font-weight="bold" fill="#000">D</text>
<line x1="44.8" y1="394.5" x2="44.8" y2="480.2" stroke="#2a2a2a" stroke-width="1.4" />
<line x1="41" y1="477" x2="168.2" y2="477" stroke="#2a2a2a" stroke-width="1.4" />
<line x1="41" y1="477" x2="44.8" y2="477" stroke="#2a2a2a" stroke-width="1.1" />
<text x="33.8" y="481.12" font-size="9.5" text-anchor="end" font-weight="normal" fill="#222">0</text>
<line x1="41" y1="456.38" x2="44.8" y2="456.38" stroke="#2a2a2a" stroke-width="1.1" />
<text x="39.8" y="460.5" font-size="9.5" text-anchor="end" font-weight="normal" fill="#222">5000</text>
<line x1="41" y1="435.75" x2="44.8" y2="435.75" stroke="#2a2a2a" stroke-width="1.1" />
<text x="39.8" y="439.87" font-size="9.5" text-anchor="end" font-weight="normal" fill="#222">10000</text>
<line x1="41" y1="415.12" x2="44.8" y2="415.12" stroke="#2a2a2a" stroke-width="1.1" />
<text x="39.8" y="419.25" font-size="9.5" text-anchor="end" font-weight="normal" fill="#222">15000</text>
<line x1="41" y1="394.5" x2="44.8" y2="394.5" stroke="#2a2a2a" stroke-width="1.1" />
<text x="39.8" y="398.62" font-size="9.5" text-anchor="end" font-weight="normal" fill="#222">20000</text>
<line x1="57.14" y1="477" x2="57.14" y2="478.8" stroke="#2a2a2a" stroke-width="1.0" />
<line x1="69.48" y1="477" x2="69.48" y2="479.8" stroke="#2a2a2a" stroke-width="1.1" />
<line x1="81.82" y1="477" x2="81.82" y2="478.8" stroke="#2a2a2a" stroke-width="1.0" />
<line x1="94.16" y1="477" x2="94.16" y2="479.8" stroke="#2a2a2a" stroke-width="1.1" />
<line x1="106.5" y1="477" x2="106.5" y2="478.8" stroke="#2a2a2a" stroke-width="1.0" />
<line x1="118.84" y1="477" x2="118.84" y2="479.8" stroke="#2a2a2a" stroke-width="1.1" />
<line x1="131.18" y1="477" x2="131.18" y2="478.8" stroke="#2a2a2a" stroke-width="1.0" />
<line x1="143.52" y1="477" x2="143.52" y2="479.8" stroke="#2a2a2a" stroke-width="1.1" />
<line x1="155.86" y1="477" x2="155.86" y2="478.8" stroke="#2a2a2a" stroke-width="1.0" />
<line x1="168.2" y1="477" x2="168.2" y2="479.8" stroke="#2a2a2a" stroke-width="1.1" />
<text x="44.8" y="488.12" font-size="9.5" text-anchor="middle" font-weight="normal" fill="#222">0</text>
<text x="69.48" y="488.12" font-size="9.5" text-anchor="middle" font-weight="normal" fill="#222">2</text>
<text x="94.16" y="488.12" font-size="9.5" text-anchor="middle" font-weight="normal" fill="#222">4</text>
<text x="118.84" y="488.12" font-size="9.5" text-anchor="middle" font-weight="normal" fill="#222">6</text>
<text x="143.52" y="488.12" font-size="9.5" text-anchor="middle" font-weight="normal" fill="#222">8</text>
<text x="168.2" y="488.12" font-size="9.5" text-anchor="middle" font-weight="normal" fill="#222">10</text>
<text x="110.1" y="498.53" font-size="9.8" text-anchor="middle" font-weight="normal" fill="#222">Week</text>
<text x="11.49" y="433.5" font-size="9.7" text-anchor="middle" font-weight="normal" fill="#222" transform="rotate(-90 11.49 433.5)">CD117 sGMFI</text>
<line x1="81.82" y1="462.56" x2="81.82" y2="450.19" stroke="#957aa3" stroke-width="0.8" />
<line x1="80.32" y1="450.19" x2="83.32" y2="450.19" stroke="#957aa3" stroke-width="0.8" />
<line x1="106.5" y1="430.8" x2="106.5" y2="416.36" stroke="#957aa3" stroke-width="0.8" />
<line x1="105" y1="416.36" x2="108" y2="416.36" stroke="#957aa3" stroke-width="0.8" />
<line x1="155.86" y1="448.12" x2="155.86" y2="430.39" stroke="#957aa3" stroke-width="0.8" />
<line x1="154.36" y1="430.39" x2="157.36" y2="430.39" stroke="#957aa3" stroke-width="0.8" />
<line x1="81.82" y1="461.32" x2="81.82" y2="473.7" stroke="#9ac8f4" stroke-width="0.8" />
<line x1="80.32" y1="473.7" x2="83.32" y2="473.7" stroke="#9ac8f4" stroke-width="0.8" />
<line x1="106.5" y1="450.19" x2="106.5" y2="458.44" stroke="#9ac8f4" stroke-width="0.8" />
<line x1="105" y1="458.44" x2="108" y2="458.44" stroke="#9ac8f4" stroke-width="0.8" />
<line x1="155.86" y1="447.3" x2="155.86" y2="463.39" stroke="#9ac8f4" stroke-width="0.8" />
<line x1="154.36" y1="463.39" x2="157.36" y2="463.39" stroke="#9ac8f4" stroke-width="0.8" />
<polyline fill="none" stroke="#7a4b8c" stroke-width="0.8" points="57.14,477 81.82,462.56 106.5,430.8 155.86,448.12"/>
<polyline fill="none" stroke="#77b5f0" stroke-width="0.8" points="57.14,477 81.82,461.32 106.5,450.19 155.86,447.3"/>
<rect x="55.34" y="475.2" width="3.6" height="3.6" fill="#3d0a55"/>
<rect x="80.02" y="460.76" width="3.6" height="3.6" fill="#3d0a55"/>
<rect x="104.7" y="429" width="3.6" height="3.6" fill="#3d0a55"/>
<rect x="154.06" y="446.32" width="3.6" height="3.6" fill="#3d0a55"/>
<circle cx="57.14" cy="477" r="1.8" fill="#5aa3ee"/>
<circle cx="81.82" cy="461.32" r="1.8" fill="#5aa3ee"/>
<circle cx="106.5" cy="450.19" r="1.8" fill="#5aa3ee"/>
<circle cx="155.86" cy="447.3" r="1.8" fill="#5aa3ee"/>
<text x="188.7" y="386.67" font-size="10.6" text-anchor="start" font-weight="bold" fill="#000">E</text>
<line x1="224.6" y1="394.5" x2="224.6" y2="480.2" stroke="#2a2a2a" stroke-width="1.4" />
<line x1="220.8" y1="477" x2="348" y2="477" stroke="#2a2a2a" stroke-width="1.4" />
<line x1="220.8" y1="477" x2="224.6" y2="477" stroke="#2a2a2a" stroke-width="1.1" />
<text x="216" y="481.12" font-size="9.5" text-anchor="end" font-weight="normal" fill="#222">0</text>
<line x1="220.8" y1="456.38" x2="224.6" y2="456.38" stroke="#2a2a2a" stroke-width="1.1" />
<text x="220" y="460.5" font-size="9.5" text-anchor="end" font-weight="normal" fill="#222">100</text>
<line x1="220.8" y1="435.75" x2="224.6" y2="435.75" stroke="#2a2a2a" stroke-width="1.1" />
<text x="220" y="439.87" font-size="9.5" text-anchor="end" font-weight="normal" fill="#222">200</text>
<line x1="220.8" y1="415.12" x2="224.6" y2="415.12" stroke="#2a2a2a" stroke-width="1.1" />
<text x="220" y="419.25" font-size="9.5" text-anchor="end" font-weight="normal" fill="#222">300</text>
<line x1="220.8" y1="394.5" x2="224.6" y2="394.5" stroke="#2a2a2a" stroke-width="1.1" />
<text x="220" y="398.62" font-size="9.5" text-anchor="end" font-weight="normal" fill="#222">400</text>
<line x1="236.94" y1="477" x2="236.94" y2="478.8" stroke="#2a2a2a" stroke-width="1.0" />
<line x1="249.28" y1="477" x2="249.28" y2="479.8" stroke="#2a2a2a" stroke-width="1.1" />
<line x1="261.62" y1="477" x2="261.62" y2="478.8" stroke="#2a2a2a" stroke-width="1.0" />
<line x1="273.96" y1="477" x2="273.96" y2="479.8" stroke="#2a2a2a" stroke-width="1.1" />
<line x1="286.3" y1="477" x2="286.3" y2="478.8" stroke="#2a2a2a" stroke-width="1.0" />
<line x1="298.64" y1="477" x2="298.64" y2="479.8" stroke="#2a2a2a" stroke-width="1.1" />
<line x1="310.98" y1="477" x2="310.98" y2="478.8" stroke="#2a2a2a" stroke-width="1.0" />
<line x1="323.32" y1="477" x2="323.32" y2="479.8" stroke="#2a2a2a" stroke-width="1.1" />
<line x1="335.66" y1="477" x2="335.66" y2="478.8" stroke="#2a2a2a" stroke-width="1.0" />
<line x1="348" y1="477" x2="348" y2="479.8" stroke="#2a2a2a" stroke-width="1.1" />
<text x="224.6" y="489.02" font-size="9.5" text-anchor="middle" font-weight="normal" fill="#222">0</text>
<text x="249.28" y="489.02" font-size="9.5" text-anchor="middle" font-weight="normal" fill="#222">2</text>
<text x="273.96" y="489.02" font-size="9.5" text-anchor="middle" font-weight="normal" fill="#222">4</text>
<text x="298.64" y="489.02" font-size="9.5" text-anchor="middle" font-weight="normal" fill="#222">6</text>
<text x="323.32" y="489.02" font-size="9.5" text-anchor="middle" font-weight="normal" fill="#222">8</text>
<text x="348" y="489.02" font-size="9.5" text-anchor="middle" font-weight="normal" fill="#222">10</text>
<text x="290.2" y="499.03" font-size="9.8" text-anchor="middle" font-weight="normal" fill="#222">Week</text>
<text x="199.69" y="433.5" font-size="9.7" text-anchor="middle" font-weight="normal" fill="#222" transform="rotate(-90 199.69 433.5)">FcER1α sGMFI</text>
<line x1="236.94" y1="456.38" x2="236.94" y2="450.19" stroke="#957aa3" stroke-width="0.8" />
<line x1="235.44" y1="450.19" x2="238.44" y2="450.19" stroke="#957aa3" stroke-width="0.8" />
<line x1="286.3" y1="414.51" x2="286.3" y2="400.27" stroke="#957aa3" stroke-width="0.8" />
<line x1="284.8" y1="400.27" x2="287.8" y2="400.27" stroke="#957aa3" stroke-width="0.8" />
<line x1="335.66" y1="434.72" x2="335.66" y2="418.22" stroke="#957aa3" stroke-width="0.8" />
<line x1="334.16" y1="418.22" x2="337.16" y2="418.22" stroke="#957aa3" stroke-width="0.8" />
<line x1="236.94" y1="459.88" x2="236.94" y2="465.24" stroke="#9ac8f4" stroke-width="0.8" />
<line x1="235.44" y1="465.24" x2="238.44" y2="465.24" stroke="#9ac8f4" stroke-width="0.8" />
<line x1="286.3" y1="429.56" x2="286.3" y2="444.41" stroke="#9ac8f4" stroke-width="0.8" />
<line x1="284.8" y1="444.41" x2="287.8" y2="444.41" stroke="#9ac8f4" stroke-width="0.8" />
<line x1="335.66" y1="436.37" x2="335.66" y2="451.22" stroke="#9ac8f4" stroke-width="0.8" />
<line x1="334.16" y1="451.22" x2="337.16" y2="451.22" stroke="#9ac8f4" stroke-width="0.8" />
<polyline fill="none" stroke="#7a4b8c" stroke-width="0.8" points="236.94,456.38 261.62,438.43 286.3,414.51 335.66,434.72"/>
<polyline fill="none" stroke="#77b5f0" stroke-width="0.8" points="236.94,459.88 261.62,433.07 286.3,429.56 335.66,436.37"/>
<rect x="235.14" y="454.57" width="3.6" height="3.6" fill="#3d0a55"/>
<rect x="259.82" y="436.63" width="3.6" height="3.6" fill="#3d0a55"/>
<rect x="284.5" y="412.71" width="3.6" height="3.6" fill="#3d0a55"/>
<rect x="333.86" y="432.92" width="3.6" height="3.6" fill="#3d0a55"/>
<circle cx="236.94" cy="459.88" r="1.8" fill="#5aa3ee"/>
<circle cx="261.62" cy="433.07" r="1.8" fill="#5aa3ee"/>
<circle cx="286.3" cy="429.56" r="1.8" fill="#5aa3ee"/>
<circle cx="335.66" cy="436.37" r="1.8" fill="#5aa3ee"/>
<text x="286.5" y="399.2" font-size="8" font-weight="bold" text-anchor="middle" fill="#111">*</text>
<text x="367" y="386.67" font-size="10.6" text-anchor="start" font-weight="bold" fill="#000">F</text>
<line x1="417.5" y1="394.5" x2="417.5" y2="480.2" stroke="#2a2a2a" stroke-width="1.4" />
<line x1="413.7" y1="477" x2="540" y2="477" stroke="#2a2a2a" stroke-width="1.4" />
<line x1="413.7" y1="477" x2="417.5" y2="477" stroke="#2a2a2a" stroke-width="1.1" />
<text x="406.1" y="481.12" font-size="9.5" text-anchor="end" font-weight="normal" fill="#222">0</text>
<line x1="413.7" y1="449.5" x2="417.5" y2="449.5" stroke="#2a2a2a" stroke-width="1.1" />
<text x="411.5" y="453.62" font-size="9.5" text-anchor="end" font-weight="normal" fill="#222">5000</text>
<line x1="413.7" y1="422" x2="417.5" y2="422" stroke="#2a2a2a" stroke-width="1.1" />
<text x="411.5" y="426.12" font-size="9.5" text-anchor="end" font-weight="normal" fill="#222">10000</text>
<line x1="413.7" y1="394.5" x2="417.5" y2="394.5" stroke="#2a2a2a" stroke-width="1.1" />
<text x="411.5" y="398.62" font-size="9.5" text-anchor="end" font-weight="normal" fill="#222">15000</text>
<line x1="429.75" y1="477" x2="429.75" y2="478.8" stroke="#2a2a2a" stroke-width="1.0" />
<line x1="442" y1="477" x2="442" y2="479.8" stroke="#2a2a2a" stroke-width="1.1" />
<line x1="454.25" y1="477" x2="454.25" y2="478.8" stroke="#2a2a2a" stroke-width="1.0" />
<line x1="466.5" y1="477" x2="466.5" y2="479.8" stroke="#2a2a2a" stroke-width="1.1" />
<line x1="478.75" y1="477" x2="478.75" y2="478.8" stroke="#2a2a2a" stroke-width="1.0" />
<line x1="491" y1="477" x2="491" y2="479.8" stroke="#2a2a2a" stroke-width="1.1" />
<line x1="503.25" y1="477" x2="503.25" y2="478.8" stroke="#2a2a2a" stroke-width="1.0" />
<line x1="515.5" y1="477" x2="515.5" y2="479.8" stroke="#2a2a2a" stroke-width="1.1" />
<line x1="527.75" y1="477" x2="527.75" y2="478.8" stroke="#2a2a2a" stroke-width="1.0" />
<line x1="540" y1="477" x2="540" y2="479.8" stroke="#2a2a2a" stroke-width="1.1" />
<text x="417.5" y="488.62" font-size="9.5" text-anchor="middle" font-weight="normal" fill="#222">0</text>
<text x="442" y="488.62" font-size="9.5" text-anchor="middle" font-weight="normal" fill="#222">2</text>
<text x="466.5" y="488.62" font-size="9.5" text-anchor="middle" font-weight="normal" fill="#222">4</text>
<text x="491" y="488.62" font-size="9.5" text-anchor="middle" font-weight="normal" fill="#222">6</text>
<text x="515.5" y="488.62" font-size="9.5" text-anchor="middle" font-weight="normal" fill="#222">8</text>
<text x="540" y="488.62" font-size="9.5" text-anchor="middle" font-weight="normal" fill="#222">10</text>
<text x="482.8" y="498.73" font-size="9.8" text-anchor="middle" font-weight="normal" fill="#222">Week</text>
<text x="383.99" y="434.4" font-size="9.7" text-anchor="middle" font-weight="normal" fill="#222" transform="rotate(-90 383.99 434.4)">Chymase sGMFI</text>
<line x1="454.25" y1="473.15" x2="454.25" y2="475.9" stroke="#957aa3" stroke-width="0.8" />
<line x1="452.75" y1="475.9" x2="455.75" y2="475.9" stroke="#957aa3" stroke-width="0.8" />
<line x1="527.75" y1="426.4" x2="527.75" y2="430.25" stroke="#957aa3" stroke-width="0.8" />
<line x1="526.25" y1="430.25" x2="529.25" y2="430.25" stroke="#957aa3" stroke-width="0.8" />
<line x1="478.75" y1="446.75" x2="478.75" y2="441.25" stroke="#9ac8f4" stroke-width="0.8" />
<line x1="477.25" y1="441.25" x2="480.25" y2="441.25" stroke="#9ac8f4" stroke-width="0.8" />
<line x1="527.75" y1="412.1" x2="527.75" y2="407.15" stroke="#9ac8f4" stroke-width="0.8" />
<line x1="526.25" y1="407.15" x2="529.25" y2="407.15" stroke="#9ac8f4" stroke-width="0.8" />
<polyline fill="none" stroke="#7a4b8c" stroke-width="0.8" points="454.25,473.15 478.75,445.1 527.75,426.4"/>
<polyline fill="none" stroke="#77b5f0" stroke-width="0.8" points="454.25,470.4 478.75,446.75 527.75,412.1"/>
<rect x="452.45" y="471.35" width="3.6" height="3.6" fill="#3d0a55"/>
<rect x="476.95" y="443.3" width="3.6" height="3.6" fill="#3d0a55"/>
<rect x="525.95" y="424.6" width="3.6" height="3.6" fill="#3d0a55"/>
<circle cx="454.25" cy="470.4" r="1.8" fill="#5aa3ee"/>
<circle cx="478.75" cy="446.75" r="1.8" fill="#5aa3ee"/>
<circle cx="527.75" cy="412.1" r="1.8" fill="#5aa3ee"/>
<text x="560" y="386.67" font-size="10.6" text-anchor="start" font-weight="bold" fill="#000">G</text>
<line x1="603.8" y1="394.5" x2="603.8" y2="480.2" stroke="#2a2a2a" stroke-width="1.4" />
<line x1="600" y1="477" x2="727.5" y2="477" stroke="#2a2a2a" stroke-width="1.4" />
<line x1="600" y1="477" x2="603.8" y2="477" stroke="#2a2a2a" stroke-width="1.1" />
<text x="593" y="481.12" font-size="9.5" text-anchor="end" font-weight="normal" fill="#222">0</text>
<line x1="600" y1="460.5" x2="603.8" y2="460.5" stroke="#2a2a2a" stroke-width="1.1" />
<text x="598.9" y="464.62" font-size="9.5" text-anchor="end" font-weight="normal" fill="#222">2000</text>
<line x1="600" y1="444" x2="603.8" y2="444" stroke="#2a2a2a" stroke-width="1.1" />
<text x="598.9" y="448.12" font-size="9.5" text-anchor="end" font-weight="normal" fill="#222">4000</text>
<line x1="600" y1="427.5" x2="603.8" y2="427.5" stroke="#2a2a2a" stroke-width="1.1" />
<text x="598.9" y="431.62" font-size="9.5" text-anchor="end" font-weight="normal" fill="#222">6000</text>
<line x1="600" y1="411" x2="603.8" y2="411" stroke="#2a2a2a" stroke-width="1.1" />
<text x="598.9" y="415.12" font-size="9.5" text-anchor="end" font-weight="normal" fill="#222">8000</text>
<line x1="600" y1="394.5" x2="603.8" y2="394.5" stroke="#2a2a2a" stroke-width="1.1" />
<text x="598.9" y="398.62" font-size="9.5" text-anchor="end" font-weight="normal" fill="#222">10000</text>
<line x1="616.17" y1="477" x2="616.17" y2="478.8" stroke="#2a2a2a" stroke-width="1.0" />
<line x1="628.54" y1="477" x2="628.54" y2="479.8" stroke="#2a2a2a" stroke-width="1.1" />
<line x1="640.91" y1="477" x2="640.91" y2="478.8" stroke="#2a2a2a" stroke-width="1.0" />
<line x1="653.28" y1="477" x2="653.28" y2="479.8" stroke="#2a2a2a" stroke-width="1.1" />
<line x1="665.65" y1="477" x2="665.65" y2="478.8" stroke="#2a2a2a" stroke-width="1.0" />
<line x1="678.02" y1="477" x2="678.02" y2="479.8" stroke="#2a2a2a" stroke-width="1.1" />
<line x1="690.39" y1="477" x2="690.39" y2="478.8" stroke="#2a2a2a" stroke-width="1.0" />
<line x1="702.76" y1="477" x2="702.76" y2="479.8" stroke="#2a2a2a" stroke-width="1.1" />
<line x1="715.13" y1="477" x2="715.13" y2="478.8" stroke="#2a2a2a" stroke-width="1.0" />
<line x1="727.5" y1="477" x2="727.5" y2="479.8" stroke="#2a2a2a" stroke-width="1.1" />
<text x="603.8" y="488.62" font-size="9.5" text-anchor="middle" font-weight="normal" fill="#222">0</text>
<text x="628.54" y="488.62" font-size="9.5" text-anchor="middle" font-weight="normal" fill="#222">2</text>
<text x="653.28" y="488.62" font-size="9.5" text-anchor="middle" font-weight="normal" fill="#222">4</text>
<text x="678.02" y="488.62" font-size="9.5" text-anchor="middle" font-weight="normal" fill="#222">6</text>
<text x="702.76" y="488.62" font-size="9.5" text-anchor="middle" font-weight="normal" fill="#222">8</text>
<text x="727.5" y="488.62" font-size="9.5" text-anchor="middle" font-weight="normal" fill="#222">10</text>
<text x="669.7" y="499.03" font-size="9.8" text-anchor="middle" font-weight="normal" fill="#222">Week</text>
<text x="572.19" y="434" font-size="9.7" text-anchor="middle" font-weight="normal" fill="#222" transform="rotate(-90 572.19 434)">Tryptase sGMFI</text>
<line x1="640.91" y1="452.25" x2="640.91" y2="456.38" stroke="#957aa3" stroke-width="0.8" />
<line x1="639.41" y1="456.38" x2="642.41" y2="456.38" stroke="#957aa3" stroke-width="0.8" />
<line x1="665.65" y1="436.99" x2="665.65" y2="440.7" stroke="#957aa3" stroke-width="0.8" />
<line x1="664.15" y1="440.7" x2="667.15" y2="440.7" stroke="#957aa3" stroke-width="0.8" />
<line x1="640.91" y1="448.12" x2="640.91" y2="438.23" stroke="#9ac8f4" stroke-width="0.8" />
<line x1="639.41" y1="438.23" x2="642.41" y2="438.23" stroke="#9ac8f4" stroke-width="0.8" />
<line x1="715.13" y1="420.07" x2="715.13" y2="409.35" stroke="#9ac8f4" stroke-width="0.8" />
<line x1="713.63" y1="409.35" x2="716.63" y2="409.35" stroke="#9ac8f4" stroke-width="0.8" />
<polyline fill="none" stroke="#7a4b8c" stroke-width="0.8" points="616.17,474.11 640.91,452.25 665.65,436.99 715.13,433.27"/>
<polyline fill="none" stroke="#77b5f0" stroke-width="0.8" points="616.17,475.35 640.91,448.12 665.65,444 715.13,420.07"/>
<rect x="614.37" y="472.31" width="3.6" height="3.6" fill="#3d0a55"/>
<rect x="639.11" y="450.45" width="3.6" height="3.6" fill="#3d0a55"/>
<rect x="663.85" y="435.19" width="3.6" height="3.6" fill="#3d0a55"/>
<rect x="713.33" y="431.47" width="3.6" height="3.6" fill="#3d0a55"/>
<circle cx="616.17" cy="475.35" r="1.8" fill="#5aa3ee"/>
<circle cx="640.91" cy="448.12" r="1.8" fill="#5aa3ee"/>
<circle cx="665.65" cy="444" r="1.8" fill="#5aa3ee"/>
<circle cx="715.13" cy="420.07" r="1.8" fill="#5aa3ee"/>
<text x="0.5" y="533.02" font-size="10.6" text-anchor="start" font-weight="bold" fill="#000">H</text>
<line x1="41.8" y1="537" x2="41.8" y2="623.7" stroke="#2a2a2a" stroke-width="1.4" />
<line x1="38" y1="620.5" x2="165.8" y2="620.5" stroke="#2a2a2a" stroke-width="1.4" />
<line x1="38" y1="620.5" x2="41.8" y2="620.5" stroke="#2a2a2a" stroke-width="1.1" />
<text x="32" y="624.62" font-size="9.5" text-anchor="end" font-weight="normal" fill="#222">0</text>
<line x1="38" y1="592.67" x2="41.8" y2="592.67" stroke="#2a2a2a" stroke-width="1.1" />
<text x="37.2" y="596.79" font-size="9.5" text-anchor="end" font-weight="normal" fill="#222">1000</text>
<line x1="38" y1="564.83" x2="41.8" y2="564.83" stroke="#2a2a2a" stroke-width="1.1" />
<text x="37.2" y="568.95" font-size="9.5" text-anchor="end" font-weight="normal" fill="#222">2000</text>
<line x1="38" y1="537" x2="41.8" y2="537" stroke="#2a2a2a" stroke-width="1.1" />
<text x="37.2" y="541.12" font-size="9.5" text-anchor="end" font-weight="normal" fill="#222">3000</text>
<line x1="54.2" y1="620.5" x2="54.2" y2="622.3" stroke="#2a2a2a" stroke-width="1.0" />
<line x1="66.6" y1="620.5" x2="66.6" y2="623.3" stroke="#2a2a2a" stroke-width="1.1" />
<line x1="79" y1="620.5" x2="79" y2="622.3" stroke="#2a2a2a" stroke-width="1.0" />
<line x1="91.4" y1="620.5" x2="91.4" y2="623.3" stroke="#2a2a2a" stroke-width="1.1" />
<line x1="103.8" y1="620.5" x2="103.8" y2="622.3" stroke="#2a2a2a" stroke-width="1.0" />
<line x1="116.2" y1="620.5" x2="116.2" y2="623.3" stroke="#2a2a2a" stroke-width="1.1" />
<line x1="128.6" y1="620.5" x2="128.6" y2="622.3" stroke="#2a2a2a" stroke-width="1.0" />
<line x1="141" y1="620.5" x2="141" y2="623.3" stroke="#2a2a2a" stroke-width="1.1" />
<line x1="153.4" y1="620.5" x2="153.4" y2="622.3" stroke="#2a2a2a" stroke-width="1.0" />
<line x1="165.8" y1="620.5" x2="165.8" y2="623.3" stroke="#2a2a2a" stroke-width="1.1" />
<text x="41.8" y="631.72" font-size="9.5" text-anchor="middle" font-weight="normal" fill="#222">0</text>
<text x="66.6" y="631.72" font-size="9.5" text-anchor="middle" font-weight="normal" fill="#222">2</text>
<text x="91.4" y="631.72" font-size="9.5" text-anchor="middle" font-weight="normal" fill="#222">4</text>
<text x="116.2" y="631.72" font-size="9.5" text-anchor="middle" font-weight="normal" fill="#222">6</text>
<text x="141" y="631.72" font-size="9.5" text-anchor="middle" font-weight="normal" fill="#222">8</text>
<text x="165.8" y="631.72" font-size="9.5" text-anchor="middle" font-weight="normal" fill="#222">10</text>
<text x="106.5" y="642.33" font-size="9.8" text-anchor="middle" font-weight="normal" fill="#222">Week</text>
<text x="10.99" y="579.5" font-size="9.7" text-anchor="middle" font-weight="normal" fill="#222" transform="rotate(-90 10.99 579.5)">CD203c sGMFI</text>
<line x1="153.4" y1="566.23" x2="153.4" y2="548.13" stroke="#957aa3" stroke-width="0.8" />
<line x1="151.9" y1="548.13" x2="154.9" y2="548.13" stroke="#957aa3" stroke-width="0.8" />
<line x1="153.4" y1="570.4" x2="153.4" y2="584.87" stroke="#9ac8f4" stroke-width="0.8" />
<line x1="151.9" y1="584.87" x2="154.9" y2="584.87" stroke="#9ac8f4" stroke-width="0.8" />
<polyline fill="none" stroke="#7a4b8c" stroke-width="0.8" points="54.2,614.38 79,611.32 103.8,609.92 153.4,566.23"/>
<polyline fill="none" stroke="#77b5f0" stroke-width="0.8" points="54.2,614.93 79,610.2 103.8,611.59 153.4,570.4"/>
<rect x="52.4" y="612.58" width="3.6" height="3.6" fill="#3d0a55"/>
<rect x="77.2" y="609.52" width="3.6" height="3.6" fill="#3d0a55"/>
<rect x="102" y="608.12" width="3.6" height="3.6" fill="#3d0a55"/>
<rect x="151.6" y="564.43" width="3.6" height="3.6" fill="#3d0a55"/>
<circle cx="54.2" cy="614.93" r="1.8" fill="#5aa3ee"/>
<circle cx="79" cy="610.2" r="1.8" fill="#5aa3ee"/>
<circle cx="103.8" cy="611.59" r="1.8" fill="#5aa3ee"/>
<circle cx="153.4" cy="570.4" r="1.8" fill="#5aa3ee"/>
<text x="188.5" y="533.02" font-size="10.6" text-anchor="start" font-weight="bold" fill="#000">I</text>
<line x1="228.4" y1="537" x2="228.4" y2="623.7" stroke="#2a2a2a" stroke-width="1.4" />
<line x1="224.6" y1="620.5" x2="352.5" y2="620.5" stroke="#2a2a2a" stroke-width="1.4" />
<line x1="224.6" y1="620.5" x2="228.4" y2="620.5" stroke="#2a2a2a" stroke-width="1.1" />
<text x="217.8" y="624.62" font-size="9.5" text-anchor="end" font-weight="normal" fill="#222">0</text>
<line x1="224.6" y1="592.67" x2="228.4" y2="592.67" stroke="#2a2a2a" stroke-width="1.1" />
<text x="221.9" y="596.79" font-size="9.5" text-anchor="end" font-weight="normal" fill="#222">500</text>
<line x1="224.6" y1="564.83" x2="228.4" y2="564.83" stroke="#2a2a2a" stroke-width="1.1" />
<text x="221.9" y="568.95" font-size="9.5" text-anchor="end" font-weight="normal" fill="#222">1000</text>
<line x1="224.6" y1="537" x2="228.4" y2="537" stroke="#2a2a2a" stroke-width="1.1" />
<text x="221.9" y="541.12" font-size="9.5" text-anchor="end" font-weight="normal" fill="#222">1500</text>
<line x1="240.81" y1="620.5" x2="240.81" y2="622.3" stroke="#2a2a2a" stroke-width="1.0" />
<line x1="253.22" y1="620.5" x2="253.22" y2="623.3" stroke="#2a2a2a" stroke-width="1.1" />
<line x1="265.63" y1="620.5" x2="265.63" y2="622.3" stroke="#2a2a2a" stroke-width="1.0" />
<line x1="278.04" y1="620.5" x2="278.04" y2="623.3" stroke="#2a2a2a" stroke-width="1.1" />
<line x1="290.45" y1="620.5" x2="290.45" y2="622.3" stroke="#2a2a2a" stroke-width="1.0" />
<line x1="302.86" y1="620.5" x2="302.86" y2="623.3" stroke="#2a2a2a" stroke-width="1.1" />
<line x1="315.27" y1="620.5" x2="315.27" y2="622.3" stroke="#2a2a2a" stroke-width="1.0" />
<line x1="327.68" y1="620.5" x2="327.68" y2="623.3" stroke="#2a2a2a" stroke-width="1.1" />
<line x1="340.09" y1="620.5" x2="340.09" y2="622.3" stroke="#2a2a2a" stroke-width="1.0" />
<line x1="352.5" y1="620.5" x2="352.5" y2="623.3" stroke="#2a2a2a" stroke-width="1.1" />
<text x="228.4" y="633.02" font-size="9.5" text-anchor="middle" font-weight="normal" fill="#222">0</text>
<text x="253.22" y="633.02" font-size="9.5" text-anchor="middle" font-weight="normal" fill="#222">2</text>
<text x="278.04" y="633.02" font-size="9.5" text-anchor="middle" font-weight="normal" fill="#222">4</text>
<text x="302.86" y="633.02" font-size="9.5" text-anchor="middle" font-weight="normal" fill="#222">6</text>
<text x="327.68" y="633.02" font-size="9.5" text-anchor="middle" font-weight="normal" fill="#222">8</text>
<text x="352.5" y="633.02" font-size="9.5" text-anchor="middle" font-weight="normal" fill="#222">10</text>
<text x="294.5" y="643.23" font-size="9.8" text-anchor="middle" font-weight="normal" fill="#222">Week</text>
<text x="199.69" y="580" font-size="9.7" text-anchor="middle" font-weight="normal" fill="#222" transform="rotate(-90 199.69 580)">CD327 sGMFI</text>
<line x1="290.45" y1="575.97" x2="290.45" y2="564.28" stroke="#957aa3" stroke-width="0.8" />
<line x1="288.95" y1="564.28" x2="291.95" y2="564.28" stroke="#957aa3" stroke-width="0.8" />
<line x1="340.09" y1="587.66" x2="340.09" y2="581.53" stroke="#957aa3" stroke-width="0.8" />
<line x1="338.59" y1="581.53" x2="341.59" y2="581.53" stroke="#957aa3" stroke-width="0.8" />
<line x1="265.63" y1="592.11" x2="265.63" y2="599.35" stroke="#9ac8f4" stroke-width="0.8" />
<line x1="264.13" y1="599.35" x2="267.13" y2="599.35" stroke="#9ac8f4" stroke-width="0.8" />
<line x1="290.45" y1="585.99" x2="290.45" y2="603.8" stroke="#9ac8f4" stroke-width="0.8" />
<line x1="288.95" y1="603.8" x2="291.95" y2="603.8" stroke="#9ac8f4" stroke-width="0.8" />
<line x1="340.09" y1="588.21" x2="340.09" y2="593.78" stroke="#9ac8f4" stroke-width="0.8" />
<line x1="338.59" y1="593.78" x2="341.59" y2="593.78" stroke="#9ac8f4" stroke-width="0.8" />
<polyline fill="none" stroke="#7a4b8c" stroke-width="0.8" points="240.81,614.93 265.63,596.56 290.45,575.97 340.09,587.66"/>
<polyline fill="none" stroke="#77b5f0" stroke-width="0.8" points="240.81,616.05 265.63,592.11 290.45,585.99 340.09,588.21"/>
<rect x="239.01" y="613.13" width="3.6" height="3.6" fill="#3d0a55"/>
<rect x="263.83" y="594.76" width="3.6" height="3.6" fill="#3d0a55"/>
<rect x="288.65" y="574.17" width="3.6" height="3.6" fill="#3d0a55"/>
<rect x="338.29" y="585.86" width="3.6" height="3.6" fill="#3d0a55"/>
<circle cx="240.81" cy="616.05" r="1.8" fill="#5aa3ee"/>
<circle cx="265.63" cy="592.11" r="1.8" fill="#5aa3ee"/>
<circle cx="290.45" cy="585.99" r="1.8" fill="#5aa3ee"/>
<circle cx="340.09" cy="588.21" r="1.8" fill="#5aa3ee"/>
<text x="365.5" y="533.02" font-size="10.6" text-anchor="start" font-weight="bold" fill="#000">J</text>
<line x1="415" y1="537" x2="415" y2="623.7" stroke="#2a2a2a" stroke-width="1.4" />
<line x1="411.2" y1="620.5" x2="538.8" y2="620.5" stroke="#2a2a2a" stroke-width="1.4" />
<line x1="411.2" y1="620.5" x2="415" y2="620.5" stroke="#2a2a2a" stroke-width="1.1" />
<text x="405" y="624.62" font-size="9.5" text-anchor="end" font-weight="normal" fill="#222">0</text>
<line x1="411.2" y1="599.62" x2="415" y2="599.62" stroke="#2a2a2a" stroke-width="1.1" />
<text x="410.6" y="603.75" font-size="9.5" text-anchor="end" font-weight="normal" fill="#222">2000</text>
<line x1="411.2" y1="578.75" x2="415" y2="578.75" stroke="#2a2a2a" stroke-width="1.1" />
<text x="410.6" y="582.87" font-size="9.5" text-anchor="end" font-weight="normal" fill="#222">4000</text>
<line x1="411.2" y1="557.88" x2="415" y2="557.88" stroke="#2a2a2a" stroke-width="1.1" />
<text x="410.6" y="562" font-size="9.5" text-anchor="end" font-weight="normal" fill="#222">6000</text>
<line x1="411.2" y1="537" x2="415" y2="537" stroke="#2a2a2a" stroke-width="1.1" />
<text x="410.6" y="541.12" font-size="9.5" text-anchor="end" font-weight="normal" fill="#222">8000</text>
<line x1="427.38" y1="620.5" x2="427.38" y2="622.3" stroke="#2a2a2a" stroke-width="1.0" />
<line x1="439.76" y1="620.5" x2="439.76" y2="623.3" stroke="#2a2a2a" stroke-width="1.1" />
<line x1="452.14" y1="620.5" x2="452.14" y2="622.3" stroke="#2a2a2a" stroke-width="1.0" />
<line x1="464.52" y1="620.5" x2="464.52" y2="623.3" stroke="#2a2a2a" stroke-width="1.1" />
<line x1="476.9" y1="620.5" x2="476.9" y2="622.3" stroke="#2a2a2a" stroke-width="1.0" />
<line x1="489.28" y1="620.5" x2="489.28" y2="623.3" stroke="#2a2a2a" stroke-width="1.1" />
<line x1="501.66" y1="620.5" x2="501.66" y2="622.3" stroke="#2a2a2a" stroke-width="1.0" />
<line x1="514.04" y1="620.5" x2="514.04" y2="623.3" stroke="#2a2a2a" stroke-width="1.1" />
<line x1="526.42" y1="620.5" x2="526.42" y2="622.3" stroke="#2a2a2a" stroke-width="1.0" />
<line x1="538.8" y1="620.5" x2="538.8" y2="623.3" stroke="#2a2a2a" stroke-width="1.1" />
<text x="415" y="633.42" font-size="9.5" text-anchor="middle" font-weight="normal" fill="#222">0</text>
<text x="439.76" y="633.42" font-size="9.5" text-anchor="middle" font-weight="normal" fill="#222">2</text>
<text x="464.52" y="633.42" font-size="9.5" text-anchor="middle" font-weight="normal" fill="#222">4</text>
<text x="489.28" y="633.42" font-size="9.5" text-anchor="middle" font-weight="normal" fill="#222">6</text>
<text x="514.04" y="633.42" font-size="9.5" text-anchor="middle" font-weight="normal" fill="#222">8</text>
<text x="538.8" y="633.42" font-size="9.5" text-anchor="middle" font-weight="normal" fill="#222">10</text>
<text x="480.5" y="643.33" font-size="9.8" text-anchor="middle" font-weight="normal" fill="#222">Week</text>
<text x="383.99" y="579.4" font-size="9.7" text-anchor="middle" font-weight="normal" fill="#222" transform="rotate(-90 383.99 579.4)">CD171 sGMFI</text>
<line x1="476.9" y1="564.14" x2="476.9" y2="554.74" stroke="#957aa3" stroke-width="0.8" />
<line x1="475.4" y1="554.74" x2="478.4" y2="554.74" stroke="#957aa3" stroke-width="0.8" />
<line x1="526.42" y1="569.36" x2="526.42" y2="557.88" stroke="#957aa3" stroke-width="0.8" />
<line x1="524.92" y1="557.88" x2="527.92" y2="557.88" stroke="#957aa3" stroke-width="0.8" />
<line x1="476.9" y1="590.23" x2="476.9" y2="600.67" stroke="#9ac8f4" stroke-width="0.8" />
<line x1="475.4" y1="600.67" x2="478.4" y2="600.67" stroke="#9ac8f4" stroke-width="0.8" />
<line x1="526.42" y1="573.53" x2="526.42" y2="582.92" stroke="#9ac8f4" stroke-width="0.8" />
<line x1="524.92" y1="582.92" x2="527.92" y2="582.92" stroke="#9ac8f4" stroke-width="0.8" />
<polyline fill="none" stroke="#7a4b8c" stroke-width="0.8" points="427.38,620.5 452.14,613.19 476.9,564.14 526.42,569.36"/>
<polyline fill="none" stroke="#77b5f0" stroke-width="0.8" points="427.38,620.5 452.14,614.24 476.9,590.23 526.42,573.53"/>
<rect x="425.58" y="618.7" width="3.6" height="3.6" fill="#3d0a55"/>
<rect x="450.34" y="611.39" width="3.6" height="3.6" fill="#3d0a55"/>
<rect x="475.1" y="562.34" width="3.6" height="3.6" fill="#3d0a55"/>
<rect x="524.62" y="567.56" width="3.6" height="3.6" fill="#3d0a55"/>
<circle cx="427.38" cy="620.5" r="1.8" fill="#5aa3ee"/>
<circle cx="452.14" cy="614.24" r="1.8" fill="#5aa3ee"/>
<circle cx="476.9" cy="590.23" r="1.8" fill="#5aa3ee"/>
<circle cx="526.42" cy="573.53" r="1.8" fill="#5aa3ee"/>
<text x="477" y="549.7" font-size="8" font-weight="bold" text-anchor="middle" fill="#111">**</text>
<text x="559.5" y="533.02" font-size="10.6" text-anchor="start" font-weight="bold" fill="#000">K</text>
<line x1="601.5" y1="538.8" x2="601.5" y2="625.2" stroke="#2a2a2a" stroke-width="1.4" />
<line x1="597.7" y1="622" x2="725.8" y2="622" stroke="#2a2a2a" stroke-width="1.4" />
<line x1="597.7" y1="622" x2="601.5" y2="622" stroke="#2a2a2a" stroke-width="1.1" />
<text x="590.4" y="626.12" font-size="9.5" text-anchor="end" font-weight="normal" fill="#222">0</text>
<line x1="597.7" y1="594.27" x2="601.5" y2="594.27" stroke="#2a2a2a" stroke-width="1.1" />
<text x="596.1" y="598.39" font-size="9.5" text-anchor="end" font-weight="normal" fill="#222">2000</text>
<line x1="597.7" y1="566.53" x2="601.5" y2="566.53" stroke="#2a2a2a" stroke-width="1.1" />
<text x="596.1" y="570.65" font-size="9.5" text-anchor="end" font-weight="normal" fill="#222">4000</text>
<line x1="597.7" y1="538.8" x2="601.5" y2="538.8" stroke="#2a2a2a" stroke-width="1.1" />
<text x="596.1" y="542.92" font-size="9.5" text-anchor="end" font-weight="normal" fill="#222">6000</text>
<line x1="613.93" y1="622" x2="613.93" y2="623.8" stroke="#2a2a2a" stroke-width="1.0" />
<line x1="626.36" y1="622" x2="626.36" y2="624.8" stroke="#2a2a2a" stroke-width="1.1" />
<line x1="638.79" y1="622" x2="638.79" y2="623.8" stroke="#2a2a2a" stroke-width="1.0" />
<line x1="651.22" y1="622" x2="651.22" y2="624.8" stroke="#2a2a2a" stroke-width="1.1" />
<line x1="663.65" y1="622" x2="663.65" y2="623.8" stroke="#2a2a2a" stroke-width="1.0" />
<line x1="676.08" y1="622" x2="676.08" y2="624.8" stroke="#2a2a2a" stroke-width="1.1" />
<line x1="688.51" y1="622" x2="688.51" y2="623.8" stroke="#2a2a2a" stroke-width="1.0" />
<line x1="700.94" y1="622" x2="700.94" y2="624.8" stroke="#2a2a2a" stroke-width="1.1" />
<line x1="713.37" y1="622" x2="713.37" y2="623.8" stroke="#2a2a2a" stroke-width="1.0" />
<line x1="725.8" y1="622" x2="725.8" y2="624.8" stroke="#2a2a2a" stroke-width="1.1" />
<text x="601.5" y="634.42" font-size="9.5" text-anchor="middle" font-weight="normal" fill="#222">0</text>
<text x="626.36" y="634.42" font-size="9.5" text-anchor="middle" font-weight="normal" fill="#222">2</text>
<text x="651.22" y="634.42" font-size="9.5" text-anchor="middle" font-weight="normal" fill="#222">4</text>
<text x="676.08" y="634.42" font-size="9.5" text-anchor="middle" font-weight="normal" fill="#222">6</text>
<text x="700.94" y="634.42" font-size="9.5" text-anchor="middle" font-weight="normal" fill="#222">8</text>
<text x="725.8" y="634.42" font-size="9.5" text-anchor="middle" font-weight="normal" fill="#222">10</text>
<text x="667" y="644.43" font-size="9.8" text-anchor="middle" font-weight="normal" fill="#222">Week</text>
<text x="572.19" y="578" font-size="9.7" text-anchor="middle" font-weight="normal" fill="#222" transform="rotate(-90 572.19 578)">MRGPRX2 sGMFI</text>
<line x1="638.79" y1="614.1" x2="638.79" y2="608.13" stroke="#957aa3" stroke-width="0.8" />
<line x1="637.29" y1="608.13" x2="640.29" y2="608.13" stroke="#957aa3" stroke-width="0.8" />
<line x1="663.65" y1="602.59" x2="663.65" y2="595.65" stroke="#957aa3" stroke-width="0.8" />
<line x1="662.15" y1="595.65" x2="665.15" y2="595.65" stroke="#957aa3" stroke-width="0.8" />
<line x1="713.37" y1="563.76" x2="713.37" y2="554.05" stroke="#957aa3" stroke-width="0.8" />
<line x1="711.87" y1="554.05" x2="714.87" y2="554.05" stroke="#957aa3" stroke-width="0.8" />
<line x1="663.65" y1="609.94" x2="663.65" y2="616.45" stroke="#9ac8f4" stroke-width="0.8" />
<line x1="662.15" y1="616.45" x2="665.15" y2="616.45" stroke="#9ac8f4" stroke-width="0.8" />
<line x1="713.37" y1="581.09" x2="713.37" y2="588.03" stroke="#9ac8f4" stroke-width="0.8" />
<line x1="711.87" y1="588.03" x2="714.87" y2="588.03" stroke="#9ac8f4" stroke-width="0.8" />
<polyline fill="none" stroke="#7a4b8c" stroke-width="0.8" points="613.93,621.31 638.79,614.1 663.65,602.59 713.37,563.76"/>
<polyline fill="none" stroke="#77b5f0" stroke-width="0.8" points="613.93,621.31 638.79,615.76 663.65,609.94 713.37,581.09"/>
<rect x="612.13" y="619.51" width="3.6" height="3.6" fill="#3d0a55"/>
<rect x="636.99" y="612.3" width="3.6" height="3.6" fill="#3d0a55"/>
<rect x="661.85" y="600.79" width="3.6" height="3.6" fill="#3d0a55"/>
<rect x="711.57" y="561.96" width="3.6" height="3.6" fill="#3d0a55"/>
<circle cx="613.93" cy="621.31" r="1.8" fill="#5aa3ee"/>
<circle cx="638.79" cy="615.76" r="1.8" fill="#5aa3ee"/>
<circle cx="663.65" cy="609.94" r="1.8" fill="#5aa3ee"/>
<circle cx="713.37" cy="581.09" r="1.8" fill="#5aa3ee"/>
<text x="712.6" y="552.9" font-size="8" font-weight="bold" text-anchor="middle" fill="#111">**</text>
<text x="0.5" y="666.02" font-size="10.6" text-anchor="start" font-weight="bold" fill="#000">L</text>
<line x1="40.5" y1="683.7" x2="40.5" y2="785.5" stroke="#2a2a2a" stroke-width="1.4" />
<line x1="36.7" y1="782.3" x2="187.8" y2="782.3" stroke="#2a2a2a" stroke-width="1.4" />
<line x1="36.7" y1="782.3" x2="40.5" y2="782.3" stroke="#2a2a2a" stroke-width="1.1" />
<text x="33.1" y="786.42" font-size="9.5" text-anchor="end" font-weight="normal" fill="#222">0</text>
<line x1="36.7" y1="762.58" x2="40.5" y2="762.58" stroke="#2a2a2a" stroke-width="1.1" />
<text x="34.3" y="766.7" font-size="9.5" text-anchor="end" font-weight="normal" fill="#222">20</text>
<line x1="36.7" y1="742.86" x2="40.5" y2="742.86" stroke="#2a2a2a" stroke-width="1.1" />
<text x="34.3" y="746.98" font-size="9.5" text-anchor="end" font-weight="normal" fill="#222">40</text>
<line x1="36.7" y1="723.14" x2="40.5" y2="723.14" stroke="#2a2a2a" stroke-width="1.1" />
<text x="34.3" y="727.26" font-size="9.5" text-anchor="end" font-weight="normal" fill="#222">60</text>
<line x1="36.7" y1="703.42" x2="40.5" y2="703.42" stroke="#2a2a2a" stroke-width="1.1" />
<text x="34.3" y="707.54" font-size="9.5" text-anchor="end" font-weight="normal" fill="#222">80</text>
<line x1="36.7" y1="683.7" x2="40.5" y2="683.7" stroke="#2a2a2a" stroke-width="1.1" />
<text x="34.3" y="687.82" font-size="9.5" text-anchor="end" font-weight="normal" fill="#222">100</text>
<line x1="55.23" y1="782.3" x2="55.23" y2="784.1" stroke="#2a2a2a" stroke-width="1.0" />
<line x1="69.96" y1="782.3" x2="69.96" y2="785.1" stroke="#2a2a2a" stroke-width="1.1" />
<line x1="84.69" y1="782.3" x2="84.69" y2="784.1" stroke="#2a2a2a" stroke-width="1.0" />
<line x1="99.42" y1="782.3" x2="99.42" y2="785.1" stroke="#2a2a2a" stroke-width="1.1" />
<line x1="114.15" y1="782.3" x2="114.15" y2="784.1" stroke="#2a2a2a" stroke-width="1.0" />
<line x1="128.88" y1="782.3" x2="128.88" y2="785.1" stroke="#2a2a2a" stroke-width="1.1" />
<line x1="143.61" y1="782.3" x2="143.61" y2="784.1" stroke="#2a2a2a" stroke-width="1.0" />
<line x1="158.34" y1="782.3" x2="158.34" y2="785.1" stroke="#2a2a2a" stroke-width="1.1" />
<line x1="173.07" y1="782.3" x2="173.07" y2="784.1" stroke="#2a2a2a" stroke-width="1.0" />
<line x1="187.8" y1="782.3" x2="187.8" y2="785.1" stroke="#2a2a2a" stroke-width="1.1" />
<text x="40.5" y="795.02" font-size="9.5" text-anchor="middle" font-weight="normal" fill="#222">0</text>
<text x="69.96" y="795.02" font-size="9.5" text-anchor="middle" font-weight="normal" fill="#222">2</text>
<text x="99.42" y="795.02" font-size="9.5" text-anchor="middle" font-weight="normal" fill="#222">4</text>
<text x="128.88" y="795.02" font-size="9.5" text-anchor="middle" font-weight="normal" fill="#222">6</text>
<text x="158.34" y="795.02" font-size="9.5" text-anchor="middle" font-weight="normal" fill="#222">8</text>
<text x="187.8" y="795.02" font-size="9.5" text-anchor="middle" font-weight="normal" fill="#222">10</text>
<text x="113.8" y="806.13" font-size="9.8" text-anchor="middle" font-weight="normal" fill="#222">Week</text>
<text x="16.49" y="735" font-size="9.7" text-anchor="middle" font-weight="normal" fill="#222" transform="rotate(-90 16.49 735)">Cell Viability (%Live/Dead Neg)</text>
<line x1="55.23" y1="711.31" x2="55.23" y2="700.46" stroke="#957aa3" stroke-width="0.8" />
<line x1="53.73" y1="700.46" x2="56.73" y2="700.46" stroke="#957aa3" stroke-width="0.8" />
<line x1="84.69" y1="705.39" x2="84.69" y2="696.52" stroke="#957aa3" stroke-width="0.8" />
<line x1="83.19" y1="696.52" x2="86.19" y2="696.52" stroke="#957aa3" stroke-width="0.8" />
<line x1="114.15" y1="712.29" x2="114.15" y2="706.38" stroke="#957aa3" stroke-width="0.8" />
<line x1="112.65" y1="706.38" x2="115.65" y2="706.38" stroke="#957aa3" stroke-width="0.8" />
<line x1="173.07" y1="720.18" x2="173.07" y2="714.27" stroke="#957aa3" stroke-width="0.8" />
<line x1="171.57" y1="714.27" x2="174.57" y2="714.27" stroke="#957aa3" stroke-width="0.8" />
<line x1="55.23" y1="712.29" x2="55.23" y2="725.11" stroke="#9ac8f4" stroke-width="0.8" />
<line x1="53.73" y1="725.11" x2="56.73" y2="725.11" stroke="#9ac8f4" stroke-width="0.8" />
<line x1="84.69" y1="716.24" x2="84.69" y2="730.04" stroke="#9ac8f4" stroke-width="0.8" />
<line x1="83.19" y1="730.04" x2="86.19" y2="730.04" stroke="#9ac8f4" stroke-width="0.8" />
<line x1="173.07" y1="727.08" x2="173.07" y2="737.93" stroke="#9ac8f4" stroke-width="0.8" />
<line x1="171.57" y1="737.93" x2="174.57" y2="737.93" stroke="#9ac8f4" stroke-width="0.8" />
<polyline fill="none" stroke="#7a4b8c" stroke-width="0.8" points="55.23,711.31 84.69,705.39 114.15,712.29 173.07,720.18"/>
<polyline fill="none" stroke="#77b5f0" stroke-width="0.8" points="55.23,712.29 84.69,716.24 114.15,711.31 173.07,727.08"/>
<rect x="53.43" y="709.51" width="3.6" height="3.6" fill="#3d0a55"/>
<rect x="82.89" y="703.59" width="3.6" height="3.6" fill="#3d0a55"/>
<rect x="112.35" y="710.49" width="3.6" height="3.6" fill="#3d0a55"/>
<rect x="171.27" y="718.38" width="3.6" height="3.6" fill="#3d0a55"/>
<circle cx="55.23" cy="712.29" r="1.8" fill="#5aa3ee"/>
<circle cx="84.69" cy="716.24" r="1.8" fill="#5aa3ee"/>
<circle cx="114.15" cy="711.31" r="1.8" fill="#5aa3ee"/>
<circle cx="173.07" cy="727.08" r="1.8" fill="#5aa3ee"/>
<text x="225.3" y="666.02" font-size="10.6" text-anchor="start" font-weight="bold" fill="#000">M</text>
<line x1="257.3" y1="680.3" x2="257.3" y2="783" stroke="#2a2a2a" stroke-width="1.4" />
<line x1="253.5" y1="779.8" x2="405.5" y2="779.8" stroke="#2a2a2a" stroke-width="1.4" />
<line x1="253.5" y1="779.8" x2="257.3" y2="779.8" stroke="#2a2a2a" stroke-width="1.1" />
<text x="251.4" y="784.72" font-size="9.5" text-anchor="end" font-weight="normal" fill="#222">0</text>
<line x1="253.5" y1="759.9" x2="257.3" y2="759.9" stroke="#2a2a2a" stroke-width="1.1" />
<text x="251.4" y="764.82" font-size="9.5" text-anchor="end" font-weight="normal" fill="#222">5</text>
<line x1="253.5" y1="740" x2="257.3" y2="740" stroke="#2a2a2a" stroke-width="1.1" />
<text x="251.4" y="744.92" font-size="9.5" text-anchor="end" font-weight="normal" fill="#222">10</text>
<line x1="253.5" y1="720.1" x2="257.3" y2="720.1" stroke="#2a2a2a" stroke-width="1.1" />
<text x="251.4" y="725.02" font-size="9.5" text-anchor="end" font-weight="normal" fill="#222">15</text>
<line x1="253.5" y1="700.2" x2="257.3" y2="700.2" stroke="#2a2a2a" stroke-width="1.1" />
<text x="251.4" y="705.12" font-size="9.5" text-anchor="end" font-weight="normal" fill="#222">20</text>
<line x1="253.5" y1="680.3" x2="257.3" y2="680.3" stroke="#2a2a2a" stroke-width="1.1" />
<text x="251.4" y="685.22" font-size="9.5" text-anchor="end" font-weight="normal" fill="#222">25</text>
<line x1="272.12" y1="779.8" x2="272.12" y2="781.6" stroke="#2a2a2a" stroke-width="1.0" />
<line x1="286.94" y1="779.8" x2="286.94" y2="782.6" stroke="#2a2a2a" stroke-width="1.1" />
<line x1="301.76" y1="779.8" x2="301.76" y2="781.6" stroke="#2a2a2a" stroke-width="1.0" />
<line x1="316.58" y1="779.8" x2="316.58" y2="782.6" stroke="#2a2a2a" stroke-width="1.1" />
<line x1="331.4" y1="779.8" x2="331.4" y2="781.6" stroke="#2a2a2a" stroke-width="1.0" />
<line x1="346.22" y1="779.8" x2="346.22" y2="782.6" stroke="#2a2a2a" stroke-width="1.1" />
<line x1="361.04" y1="779.8" x2="361.04" y2="781.6" stroke="#2a2a2a" stroke-width="1.0" />
<line x1="375.86" y1="779.8" x2="375.86" y2="782.6" stroke="#2a2a2a" stroke-width="1.1" />
<line x1="390.68" y1="779.8" x2="390.68" y2="781.6" stroke="#2a2a2a" stroke-width="1.0" />
<line x1="405.5" y1="779.8" x2="405.5" y2="782.6" stroke="#2a2a2a" stroke-width="1.1" />
<text x="257.3" y="792.42" font-size="9.5" text-anchor="middle" font-weight="normal" fill="#222">0</text>
<text x="286.94" y="792.42" font-size="9.5" text-anchor="middle" font-weight="normal" fill="#222">2</text>
<text x="316.58" y="792.42" font-size="9.5" text-anchor="middle" font-weight="normal" fill="#222">4</text>
<text x="346.22" y="792.42" font-size="9.5" text-anchor="middle" font-weight="normal" fill="#222">6</text>
<text x="375.86" y="792.42" font-size="9.5" text-anchor="middle" font-weight="normal" fill="#222">8</text>
<text x="405.5" y="792.42" font-size="9.5" text-anchor="middle" font-weight="normal" fill="#222">10</text>
<text x="330.7" y="803.43" font-size="9.8" text-anchor="middle" font-weight="normal" fill="#222">Week</text>
<text x="234.69" y="728.8" font-size="9.7" text-anchor="middle" font-weight="normal" fill="#222" transform="rotate(-90 234.69 728.8)">Cell Count (total x10<tspan font-size="6" dy="-3.5">6</tspan><tspan dy="3.5">)</tspan></text>
<line x1="272.12" y1="745.17" x2="272.12" y2="761.49" stroke="#957aa3" stroke-width="0.8" />
<line x1="270.62" y1="761.49" x2="273.62" y2="761.49" stroke="#957aa3" stroke-width="0.8" />
<line x1="301.76" y1="753.53" x2="301.76" y2="767.46" stroke="#957aa3" stroke-width="0.8" />
<line x1="300.26" y1="767.46" x2="303.26" y2="767.46" stroke="#957aa3" stroke-width="0.8" />
<line x1="331.4" y1="750.35" x2="331.4" y2="762.69" stroke="#957aa3" stroke-width="0.8" />
<line x1="329.9" y1="762.69" x2="332.9" y2="762.69" stroke="#957aa3" stroke-width="0.8" />
<line x1="390.68" y1="753.53" x2="390.68" y2="763.48" stroke="#957aa3" stroke-width="0.8" />
<line x1="389.18" y1="763.48" x2="392.18" y2="763.48" stroke="#957aa3" stroke-width="0.8" />
<line x1="272.12" y1="743.18" x2="272.12" y2="720.1" stroke="#9ac8f4" stroke-width="0.8" />
<line x1="270.62" y1="720.1" x2="273.62" y2="720.1" stroke="#9ac8f4" stroke-width="0.8" />
<line x1="301.76" y1="726.07" x2="301.76" y2="703.38" stroke="#9ac8f4" stroke-width="0.8" />
<line x1="300.26" y1="703.38" x2="303.26" y2="703.38" stroke="#9ac8f4" stroke-width="0.8" />
<line x1="331.4" y1="728.06" x2="331.4" y2="702.19" stroke="#9ac8f4" stroke-width="0.8" />
<line x1="329.9" y1="702.19" x2="332.9" y2="702.19" stroke="#9ac8f4" stroke-width="0.8" />
<line x1="390.68" y1="734.03" x2="390.68" y2="708.16" stroke="#9ac8f4" stroke-width="0.8" />
<line x1="389.18" y1="708.16" x2="392.18" y2="708.16" stroke="#9ac8f4" stroke-width="0.8" />
<polyline fill="none" stroke="#7a4b8c" stroke-width="0.8" points="272.12,745.17 301.76,753.53 331.4,750.35 390.68,753.53"/>
<polyline fill="none" stroke="#77b5f0" stroke-width="0.8" points="272.12,743.18 301.76,726.07 331.4,728.06 390.68,734.03"/>
<rect x="270.32" y="743.37" width="3.6" height="3.6" fill="#3d0a55"/>
<rect x="299.96" y="751.73" width="3.6" height="3.6" fill="#3d0a55"/>
<rect x="329.6" y="748.55" width="3.6" height="3.6" fill="#3d0a55"/>
<rect x="388.88" y="751.73" width="3.6" height="3.6" fill="#3d0a55"/>
<circle cx="272.12" cy="743.18" r="1.8" fill="#5aa3ee"/>
<circle cx="301.76" cy="726.07" r="1.8" fill="#5aa3ee"/>
<circle cx="331.4" cy="728.06" r="1.8" fill="#5aa3ee"/>
<circle cx="390.68" cy="734.03" r="1.8" fill="#5aa3ee"/>
<text x="444.9" y="665.22" font-size="10.6" text-anchor="start" font-weight="bold" fill="#000">N</text>
<line x1="477.2" y1="680.5" x2="477.2" y2="783" stroke="#2a2a2a" stroke-width="1.4" />
<line x1="473.4" y1="779.8" x2="625.8" y2="779.8" stroke="#2a2a2a" stroke-width="1.4" />
<line x1="473.4" y1="779.8" x2="477.2" y2="779.8" stroke="#2a2a2a" stroke-width="1.1" />
<text x="472" y="783.92" font-size="9.5" text-anchor="end" font-weight="normal" fill="#222">0.0</text>
<line x1="473.4" y1="754.97" x2="477.2" y2="754.97" stroke="#2a2a2a" stroke-width="1.1" />
<text x="472" y="759.09" font-size="9.5" text-anchor="end" font-weight="normal" fill="#222">0.5</text>
<line x1="473.4" y1="730.15" x2="477.2" y2="730.15" stroke="#2a2a2a" stroke-width="1.1" />
<text x="472" y="734.27" font-size="9.5" text-anchor="end" font-weight="normal" fill="#222">1.0</text>
<line x1="473.4" y1="705.33" x2="477.2" y2="705.33" stroke="#2a2a2a" stroke-width="1.1" />
<text x="472" y="709.45" font-size="9.5" text-anchor="end" font-weight="normal" fill="#222">1.5</text>
<line x1="473.4" y1="680.5" x2="477.2" y2="680.5" stroke="#2a2a2a" stroke-width="1.1" />
<text x="472" y="684.62" font-size="9.5" text-anchor="end" font-weight="normal" fill="#222">2.0</text>
<line x1="492.06" y1="779.8" x2="492.06" y2="781.6" stroke="#2a2a2a" stroke-width="1.0" />
<line x1="506.92" y1="779.8" x2="506.92" y2="782.6" stroke="#2a2a2a" stroke-width="1.1" />
<line x1="521.78" y1="779.8" x2="521.78" y2="781.6" stroke="#2a2a2a" stroke-width="1.0" />
<line x1="536.64" y1="779.8" x2="536.64" y2="782.6" stroke="#2a2a2a" stroke-width="1.1" />
<line x1="551.5" y1="779.8" x2="551.5" y2="781.6" stroke="#2a2a2a" stroke-width="1.0" />
<line x1="566.36" y1="779.8" x2="566.36" y2="782.6" stroke="#2a2a2a" stroke-width="1.1" />
<line x1="581.22" y1="779.8" x2="581.22" y2="781.6" stroke="#2a2a2a" stroke-width="1.0" />
<line x1="596.08" y1="779.8" x2="596.08" y2="782.6" stroke="#2a2a2a" stroke-width="1.1" />
<line x1="610.94" y1="779.8" x2="610.94" y2="781.6" stroke="#2a2a2a" stroke-width="1.0" />
<line x1="625.8" y1="779.8" x2="625.8" y2="782.6" stroke="#2a2a2a" stroke-width="1.1" />
<text x="477.2" y="792.72" font-size="9.5" text-anchor="middle" font-weight="normal" fill="#222">0</text>
<text x="506.92" y="792.72" font-size="9.5" text-anchor="middle" font-weight="normal" fill="#222">2</text>
<text x="536.64" y="792.72" font-size="9.5" text-anchor="middle" font-weight="normal" fill="#222">4</text>
<text x="566.36" y="792.72" font-size="9.5" text-anchor="middle" font-weight="normal" fill="#222">6</text>
<text x="596.08" y="792.72" font-size="9.5" text-anchor="middle" font-weight="normal" fill="#222">8</text>
<text x="625.8" y="792.72" font-size="9.5" text-anchor="middle" font-weight="normal" fill="#222">10</text>
<text x="551.5" y="803.73" font-size="9.8" text-anchor="middle" font-weight="normal" fill="#222">Week</text>
<text x="452.4" y="726.6" font-size="10.0" text-anchor="middle" font-weight="normal" fill="#222" transform="rotate(-90 452.4 726.6)">Cell&#160; Density (per ml x10<tspan font-size="6" dy="-3.5">6</tspan><tspan dy="3.5">)</tspan></text>
<line x1="492.06" y1="720.22" x2="492.06" y2="737.1" stroke="#957aa3" stroke-width="0.8" />
<line x1="490.56" y1="737.1" x2="493.56" y2="737.1" stroke="#957aa3" stroke-width="0.8" />
<line x1="551.5" y1="757.95" x2="551.5" y2="760.93" stroke="#957aa3" stroke-width="0.8" />
<line x1="550" y1="760.93" x2="553" y2="760.93" stroke="#957aa3" stroke-width="0.8" />
<line x1="492.06" y1="722.21" x2="492.06" y2="698.37" stroke="#9ac8f4" stroke-width="0.8" />
<line x1="490.56" y1="698.37" x2="493.56" y2="698.37" stroke="#9ac8f4" stroke-width="0.8" />
<line x1="521.78" y1="734.62" x2="521.78" y2="722.21" stroke="#9ac8f4" stroke-width="0.8" />
<line x1="520.28" y1="722.21" x2="523.28" y2="722.21" stroke="#9ac8f4" stroke-width="0.8" />
<line x1="551.5" y1="744.05" x2="551.5" y2="735.61" stroke="#9ac8f4" stroke-width="0.8" />
<line x1="550" y1="735.61" x2="553" y2="735.61" stroke="#9ac8f4" stroke-width="0.8" />
<line x1="610.94" y1="765.9" x2="610.94" y2="761.93" stroke="#9ac8f4" stroke-width="0.8" />
<line x1="609.44" y1="761.93" x2="612.44" y2="761.93" stroke="#9ac8f4" stroke-width="0.8" />
<polyline fill="none" stroke="#7a4b8c" stroke-width="0.8" points="492.06,720.22 521.78,750.01 551.5,757.95 610.94,771.36"/>
<polyline fill="none" stroke="#77b5f0" stroke-width="0.8" points="492.06,722.21 521.78,734.62 551.5,744.05 610.94,765.9"/>
<rect x="490.26" y="718.42" width="3.6" height="3.6" fill="#3d0a55"/>
<rect x="519.98" y="748.21" width="3.6" height="3.6" fill="#3d0a55"/>
<rect x="549.7" y="756.15" width="3.6" height="3.6" fill="#3d0a55"/>
<rect x="609.14" y="769.56" width="3.6" height="3.6" fill="#3d0a55"/>
<circle cx="492.06" cy="722.21" r="1.8" fill="#5aa3ee"/>
<circle cx="521.78" cy="734.62" r="1.8" fill="#5aa3ee"/>
<circle cx="551.5" cy="744.05" r="1.8" fill="#5aa3ee"/>
<circle cx="610.94" cy="765.9" r="1.8" fill="#5aa3ee"/>
<line x1="651.4" y1="706.4" x2="665.4" y2="706.4" stroke="#77b5f0" stroke-width="1.0" />
<circle cx="658.3" cy="706.4" r="2.6" fill="#5aa3ee"/>
<text x="673.4" y="710.46" font-size="11.0" text-anchor="start" font-weight="normal" fill="#222">Ctrl</text>
<line x1="651.4" y1="723.5" x2="665.4" y2="723.5" stroke="#7a4b8c" stroke-width="1.0" />
<rect x="655.9" y="721.1" width="4.8" height="4.8" fill="#3d0a55"/>
<text x="673.4" y="727.56" font-size="11.0" text-anchor="start" font-weight="normal" fill="#222">SP (10μM)</text>
</svg></body></html>
